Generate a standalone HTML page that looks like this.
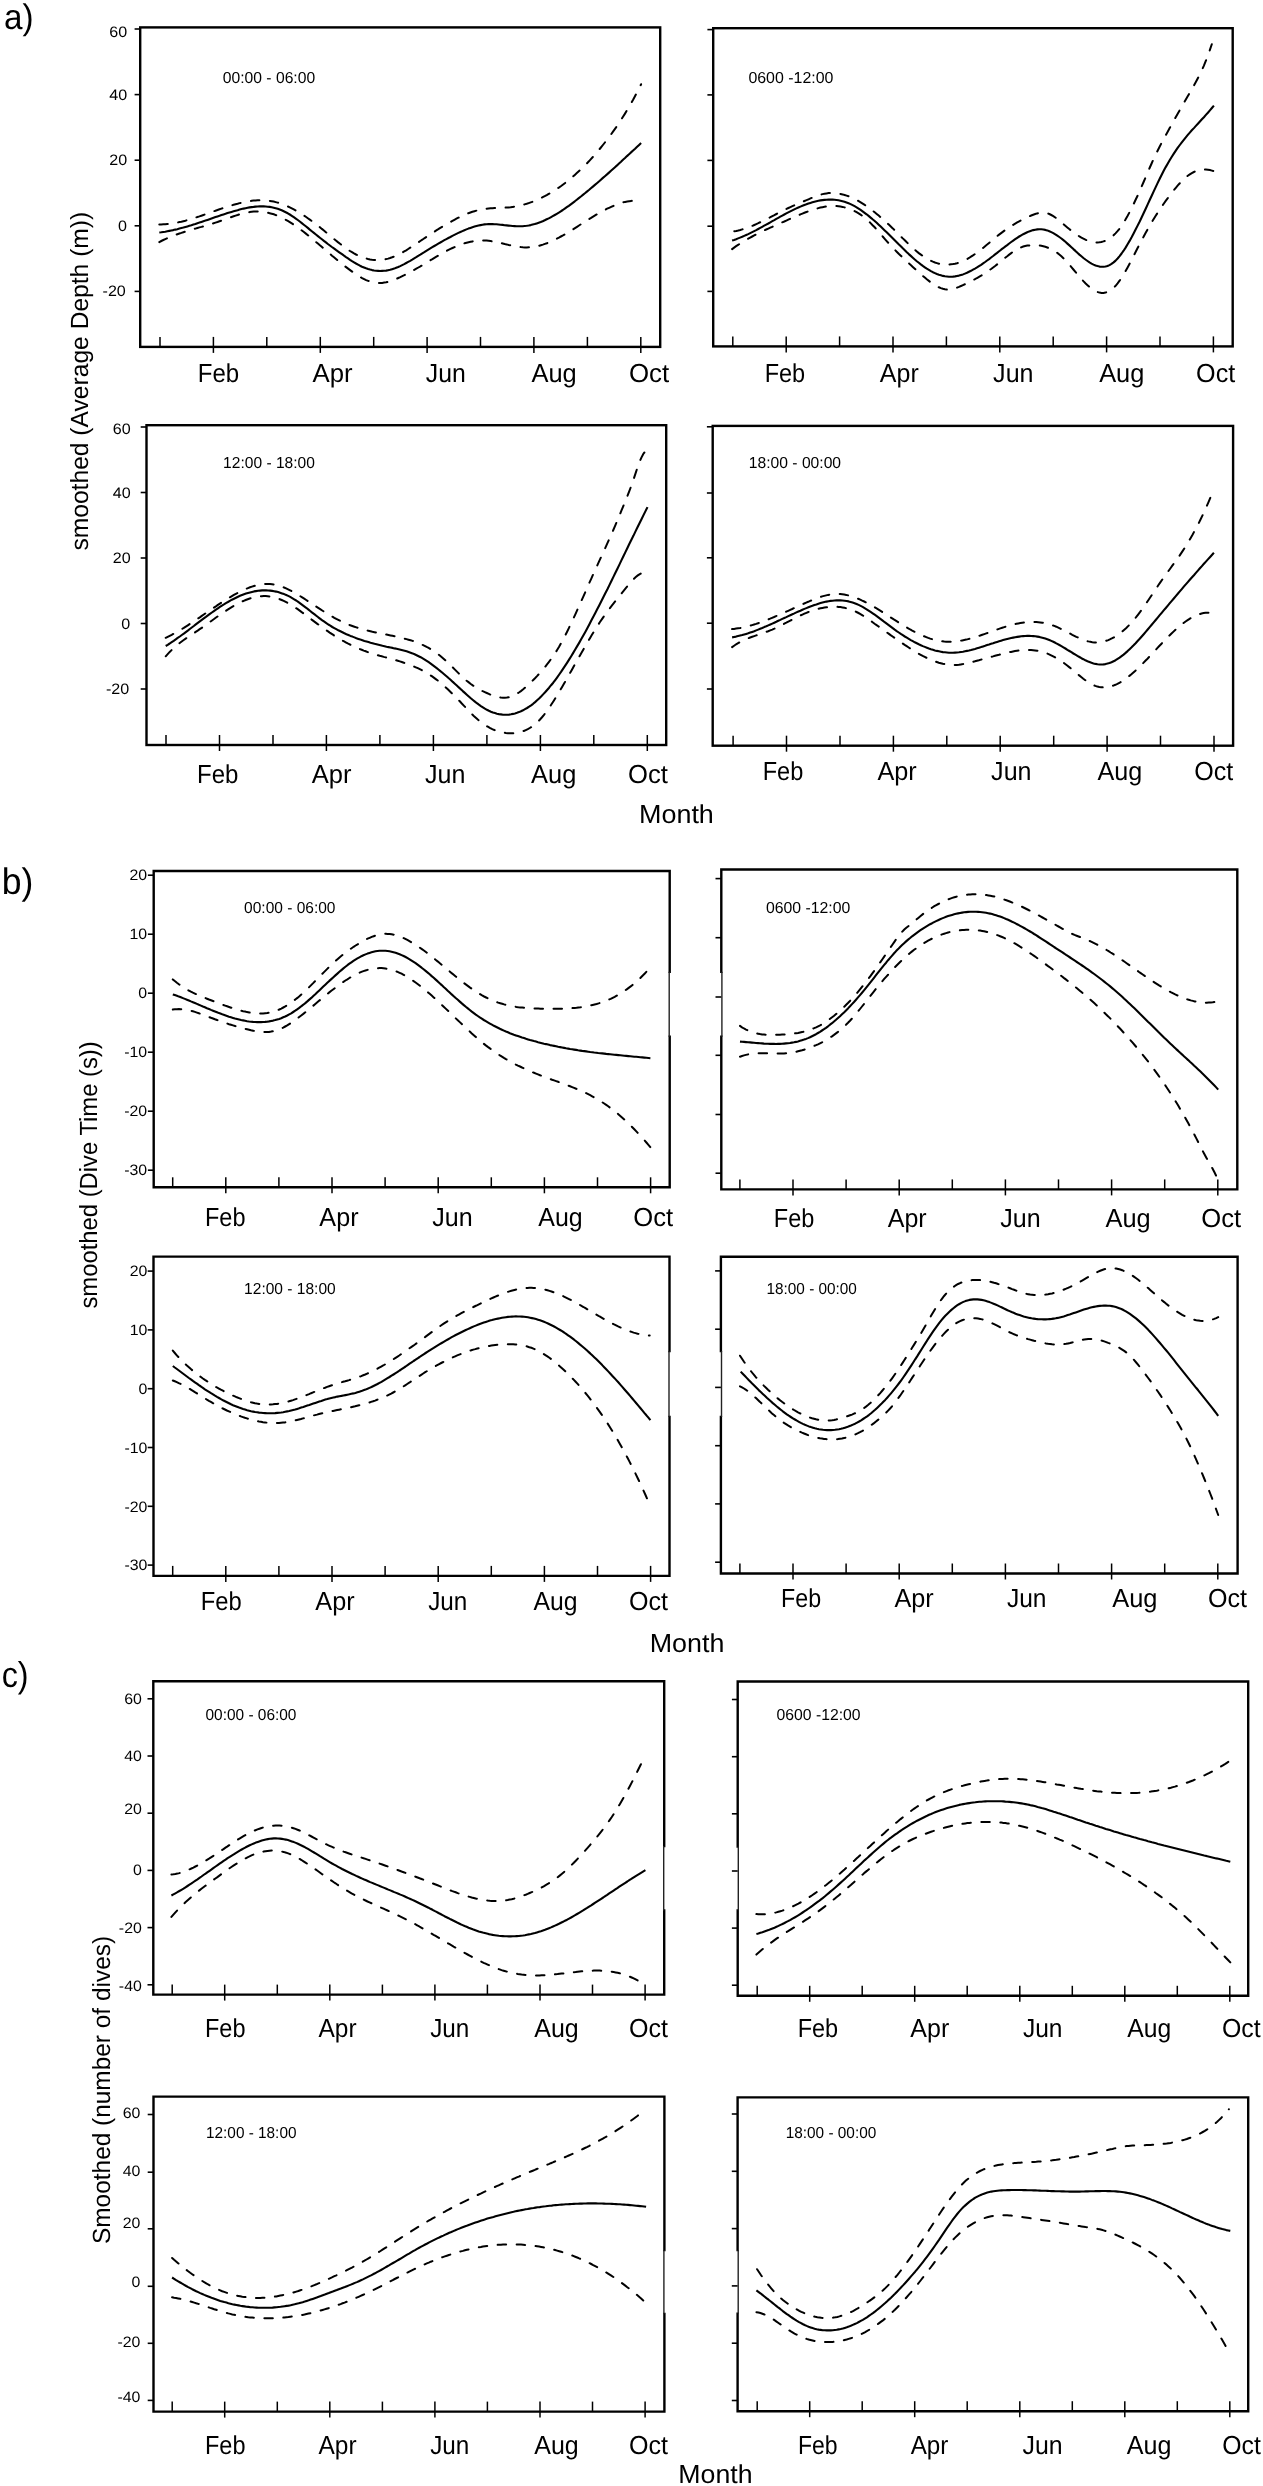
<!DOCTYPE html>
<html><head><meta charset="utf-8"><style>
html,body{margin:0;padding:0;background:#fff;}
svg{display:block;will-change:transform;}
text{font-family:"Liberation Sans", sans-serif;fill:#000;text-rendering:geometricPrecision;}
</style></head><body>
<svg width="1263" height="2486" viewBox="0 0 1263 2486">
<rect width="1263" height="2486" fill="#fff"/>
<rect x="140.2" y="27.4" width="520.0" height="319.5" fill="none" stroke="#000" stroke-width="2.40"/>
<line x1="134.6" y1="29.0" x2="140.2" y2="29.0" stroke="#000" stroke-width="1.60"/>
<line x1="134.6" y1="94.6" x2="140.2" y2="94.6" stroke="#000" stroke-width="1.60"/>
<line x1="134.6" y1="160.2" x2="140.2" y2="160.2" stroke="#000" stroke-width="1.60"/>
<line x1="134.6" y1="225.8" x2="140.2" y2="225.8" stroke="#000" stroke-width="1.60"/>
<line x1="134.6" y1="291.4" x2="140.2" y2="291.4" stroke="#000" stroke-width="1.60"/>
<line x1="160.0" y1="336.9" x2="160.0" y2="346.9" stroke="#000" stroke-width="1.50"/>
<line x1="213.4" y1="336.9" x2="213.4" y2="352.9" stroke="#000" stroke-width="1.50"/>
<line x1="266.8" y1="336.9" x2="266.8" y2="346.9" stroke="#000" stroke-width="1.50"/>
<line x1="320.3" y1="336.9" x2="320.3" y2="352.9" stroke="#000" stroke-width="1.50"/>
<line x1="373.7" y1="336.9" x2="373.7" y2="346.9" stroke="#000" stroke-width="1.50"/>
<line x1="427.1" y1="336.9" x2="427.1" y2="352.9" stroke="#000" stroke-width="1.50"/>
<line x1="480.5" y1="336.9" x2="480.5" y2="346.9" stroke="#000" stroke-width="1.50"/>
<line x1="533.9" y1="336.9" x2="533.9" y2="352.9" stroke="#000" stroke-width="1.50"/>
<line x1="587.4" y1="336.9" x2="587.4" y2="346.9" stroke="#000" stroke-width="1.50"/>
<line x1="640.8" y1="336.9" x2="640.8" y2="352.9" stroke="#000" stroke-width="1.50"/>
<text transform="translate(109.31 36.70) scale(1.0600 1)" font-size="15.20">60</text>
<text transform="translate(109.31 100.30) scale(1.0600 1)" font-size="15.20">40</text>
<text transform="translate(109.31 165.40) scale(1.0600 1)" font-size="15.20">20</text>
<text transform="translate(117.97 231.20) scale(1.0600 1)" font-size="15.20">0</text>
<text transform="translate(102.54 295.50) scale(1.0600 1)" font-size="15.20">-20</text>
<text transform="translate(197.83 381.90) scale(0.9236 1)" font-size="26.00">Feb</text>
<text transform="translate(312.55 381.90) scale(0.9906 1)" font-size="26.00">Apr</text>
<text transform="translate(425.81 381.90) scale(0.9542 1)" font-size="26.00">Jun</text>
<text transform="translate(531.45 381.90) scale(0.9790 1)" font-size="26.00">Aug</text>
<text transform="translate(628.88 381.90) scale(0.9942 1)" font-size="26.00">Oct</text>
<text transform="translate(222.79 83.30) scale(0.9863 1)" font-size="15.90">00:00 - 06:00</text>
<path d="M159.3 224.4 L161.3 224.4 L163.3 224.3 L165.3 224.2 L167.3 224.0 L169.3 223.8 L171.3 223.6 L173.3 223.3 L175.3 222.9 L177.3 222.6 L179.4 222.1 L181.4 221.7 L183.4 221.2 L185.4 220.7 L187.4 220.1 L189.4 219.6 L191.4 219.0 L193.4 218.3 L195.4 217.7 L197.4 217.0 L199.4 216.4 L201.4 215.7 L203.4 215.0 L205.4 214.3 L207.5 213.6 L209.5 212.9 L211.5 212.1 L213.5 211.4 L215.5 210.7 L217.5 210.0 L219.5 209.3 L221.5 208.6 L223.5 207.9 L225.5 207.3 L227.5 206.6 L229.5 206.0 L231.5 205.4 L233.6 204.8 L235.6 204.2 L237.6 203.7 L239.6 203.1 L241.6 202.7 L243.6 202.2 L245.6 201.8 L247.6 201.4 L249.6 201.1 L251.6 200.8 L253.6 200.6 L255.6 200.4 L257.6 200.3 L259.7 200.2 L261.7 200.2 L263.7 200.3 L265.7 200.4 L267.7 200.6 L269.7 200.9 L271.7 201.2 L273.7 201.6 L275.7 202.1 L277.7 202.6 L279.7 203.3 L281.7 204.0 L283.7 204.7 L285.7 205.5 L287.8 206.4 L289.8 207.3 L291.8 208.3 L293.8 209.4 L295.8 210.5 L297.8 211.6 L299.8 212.9 L301.8 214.1 L303.8 215.4 L305.8 216.8 L307.8 218.2 L309.8 219.6 L311.8 221.1 L313.9 222.6 L315.9 224.1 L317.9 225.7 L319.9 227.2 L321.9 228.9 L323.9 230.5 L325.9 232.2 L327.9 233.8 L329.9 235.5 L331.9 237.2 L333.9 238.9 L335.9 240.5 L337.9 242.1 L340.0 243.7 L342.0 245.3 L344.0 246.8 L346.0 248.3 L348.0 249.7 L350.0 251.0 L352.0 252.2 L354.0 253.4 L356.0 254.5 L358.0 255.5 L360.0 256.3 L362.0 257.1 L364.0 257.8 L366.1 258.4 L368.1 259.0 L370.1 259.4 L372.1 259.7 L374.1 259.9 L376.1 260.0 L378.1 260.0 L380.1 259.9 L382.1 259.8 L384.1 259.5 L386.1 259.1 L388.1 258.6 L390.1 258.0 L392.1 257.3 L394.2 256.5 L396.2 255.6 L398.2 254.7 L400.2 253.7 L402.2 252.6 L404.2 251.4 L406.2 250.3 L408.2 249.0 L410.2 247.7 L412.2 246.4 L414.2 245.1 L416.2 243.8 L418.2 242.4 L420.3 241.0 L422.3 239.7 L424.3 238.3 L426.3 237.0 L428.3 235.6 L430.3 234.3 L432.3 233.0 L434.3 231.7 L436.3 230.4 L438.3 229.2 L440.3 227.9 L442.3 226.7 L444.3 225.5 L446.4 224.3 L448.4 223.1 L450.4 222.0 L452.4 220.9 L454.4 219.8 L456.4 218.7 L458.4 217.7 L460.4 216.7 L462.4 215.8 L464.4 214.9 L466.4 214.0 L468.4 213.2 L470.4 212.5 L472.4 211.8 L474.5 211.2 L476.5 210.6 L478.5 210.1 L480.5 209.7 L482.5 209.3 L484.5 209.0 L486.5 208.7 L488.5 208.5 L490.5 208.3 L492.5 208.2 L494.5 208.0 L496.5 208.0 L498.5 207.9 L500.6 207.8 L502.6 207.8 L504.6 207.7 L506.6 207.5 L508.6 207.4 L510.6 207.2 L512.6 206.9 L514.6 206.6 L516.6 206.3 L518.6 205.9 L520.6 205.4 L522.6 204.9 L524.6 204.4 L526.7 203.8 L528.7 203.1 L530.7 202.4 L532.7 201.7 L534.7 200.9 L536.7 200.0 L538.7 199.1 L540.7 198.2 L542.7 197.2 L544.7 196.2 L546.7 195.1 L548.7 193.9 L550.7 192.8 L552.7 191.5 L554.8 190.3 L556.8 188.9 L558.8 187.6 L560.8 186.2 L562.8 184.7 L564.8 183.2 L566.8 181.6 L568.8 180.0 L570.8 178.4 L572.8 176.7 L574.8 174.9 L576.8 173.1 L578.8 171.3 L580.9 169.4 L582.9 167.4 L584.9 165.4 L586.9 163.4 L588.9 161.3 L590.9 159.1 L592.9 156.9 L594.9 154.6 L596.9 152.3 L598.9 149.9 L600.9 147.5 L602.9 145.0 L604.9 142.5 L607.0 139.9 L609.0 137.2 L611.0 134.5 L613.0 131.7 L615.0 128.9 L617.0 126.0 L619.0 123.0 L621.0 119.9 L623.0 116.8 L625.0 113.6 L627.0 110.3 L629.0 106.9 L631.0 103.4 L633.1 99.8 L635.1 96.0 L637.1 92.2 L639.1 88.3 L641.1 84.2" fill="none" stroke="#000" stroke-width="2.0" stroke-dasharray="8.5 10.5" stroke-linecap="round"/>
<path d="M159.3 242.1 L161.3 241.0 L163.3 240.0 L165.3 239.1 L167.3 238.2 L169.3 237.3 L171.3 236.5 L173.3 235.7 L175.3 235.0 L177.4 234.2 L179.4 233.5 L181.4 232.9 L183.4 232.2 L185.4 231.6 L187.4 231.0 L189.4 230.4 L191.4 229.8 L193.4 229.2 L195.4 228.6 L197.4 228.0 L199.4 227.4 L201.5 226.9 L203.5 226.3 L205.5 225.7 L207.5 225.1 L209.5 224.5 L211.5 223.9 L213.5 223.3 L215.5 222.6 L217.5 222.0 L219.5 221.3 L221.5 220.6 L223.5 219.9 L225.6 219.1 L227.6 218.4 L229.6 217.7 L231.6 217.0 L233.6 216.3 L235.6 215.6 L237.6 215.0 L239.6 214.3 L241.6 213.8 L243.6 213.3 L245.6 212.8 L247.6 212.4 L249.7 212.1 L251.7 211.8 L253.7 211.6 L255.7 211.5 L257.7 211.5 L259.7 211.6 L261.7 211.7 L263.7 212.0 L265.7 212.3 L267.7 212.7 L269.7 213.2 L271.7 213.7 L273.8 214.3 L275.8 215.1 L277.8 215.8 L279.8 216.7 L281.8 217.7 L283.8 218.7 L285.8 219.8 L287.8 220.9 L289.8 222.1 L291.8 223.4 L293.8 224.7 L295.8 226.1 L297.9 227.5 L299.9 229.0 L301.9 230.5 L303.9 232.0 L305.9 233.6 L307.9 235.2 L309.9 236.8 L311.9 238.5 L313.9 240.2 L315.9 241.9 L317.9 243.6 L319.9 245.3 L322.0 247.0 L324.0 248.8 L326.0 250.5 L328.0 252.2 L330.0 253.9 L332.0 255.7 L334.0 257.3 L336.0 259.0 L338.0 260.7 L340.0 262.3 L342.0 263.9 L344.0 265.5 L346.1 267.1 L348.1 268.6 L350.1 270.1 L352.1 271.6 L354.1 273.0 L356.1 274.4 L358.1 275.7 L360.1 276.9 L362.1 278.1 L364.1 279.1 L366.1 280.1 L368.1 280.9 L370.2 281.5 L372.2 282.1 L374.2 282.5 L376.2 282.8 L378.2 283.0 L380.2 283.0 L382.2 282.9 L384.2 282.6 L386.2 282.3 L388.2 281.8 L390.2 281.2 L392.2 280.5 L394.3 279.7 L396.3 278.9 L398.3 278.0 L400.3 277.1 L402.3 276.1 L404.3 275.2 L406.3 274.1 L408.3 273.1 L410.3 272.0 L412.3 271.0 L414.3 269.8 L416.3 268.7 L418.4 267.5 L420.4 266.4 L422.4 265.2 L424.4 263.9 L426.4 262.7 L428.4 261.5 L430.4 260.3 L432.4 259.1 L434.4 257.8 L436.4 256.6 L438.4 255.5 L440.4 254.3 L442.5 253.2 L444.5 252.1 L446.5 251.0 L448.5 249.9 L450.5 248.9 L452.5 248.0 L454.5 247.1 L456.5 246.2 L458.5 245.4 L460.5 244.7 L462.5 244.0 L464.5 243.3 L466.6 242.7 L468.6 242.2 L470.6 241.8 L472.6 241.4 L474.6 241.0 L476.6 240.8 L478.6 240.6 L480.6 240.5 L482.6 240.5 L484.6 240.5 L486.6 240.6 L488.6 240.8 L490.7 241.1 L492.7 241.4 L494.7 241.7 L496.7 242.1 L498.7 242.6 L500.7 243.0 L502.7 243.5 L504.7 244.0 L506.7 244.4 L508.7 244.9 L510.7 245.3 L512.7 245.8 L514.8 246.2 L516.8 246.5 L518.8 246.8 L520.8 247.1 L522.8 247.3 L524.8 247.4 L526.8 247.4 L528.8 247.3 L530.8 247.2 L532.8 247.0 L534.8 246.6 L536.8 246.3 L538.9 245.8 L540.9 245.2 L542.9 244.6 L544.9 243.9 L546.9 243.2 L548.9 242.4 L550.9 241.5 L552.9 240.6 L554.9 239.6 L556.9 238.6 L558.9 237.6 L560.9 236.5 L563.0 235.4 L565.0 234.2 L567.0 233.0 L569.0 231.8 L571.0 230.6 L573.0 229.4 L575.0 228.1 L577.0 226.8 L579.0 225.5 L581.0 224.2 L583.0 223.0 L585.0 221.7 L587.1 220.4 L589.1 219.1 L591.1 217.9 L593.1 216.6 L595.1 215.4 L597.1 214.2 L599.1 213.1 L601.1 211.9 L603.1 210.8 L605.1 209.8 L607.1 208.7 L609.1 207.8 L611.2 206.8 L613.2 206.0 L615.2 205.1 L617.2 204.4 L619.2 203.7 L621.2 203.0 L623.2 202.4 L625.2 201.9 L627.2 201.5 L629.2 201.2 L631.2 200.9 L633.2 200.7" fill="none" stroke="#000" stroke-width="2.0" stroke-dasharray="8.5 10.5" stroke-linecap="round"/>
<path d="M159.3 232.5 L161.3 232.3 L163.3 232.0 L165.3 231.7 L167.3 231.3 L169.3 230.9 L171.3 230.5 L173.3 230.1 L175.3 229.6 L177.3 229.2 L179.4 228.6 L181.4 228.1 L183.4 227.6 L185.4 227.0 L187.4 226.4 L189.4 225.8 L191.4 225.2 L193.4 224.5 L195.4 223.9 L197.4 223.2 L199.4 222.6 L201.4 221.9 L203.4 221.2 L205.4 220.6 L207.5 219.9 L209.5 219.2 L211.5 218.5 L213.5 217.8 L215.5 217.1 L217.5 216.4 L219.5 215.8 L221.5 215.1 L223.5 214.4 L225.5 213.8 L227.5 213.1 L229.5 212.5 L231.5 211.9 L233.6 211.3 L235.6 210.7 L237.6 210.2 L239.6 209.6 L241.6 209.1 L243.6 208.6 L245.6 208.2 L247.6 207.8 L249.6 207.4 L251.6 207.1 L253.6 206.9 L255.6 206.6 L257.6 206.5 L259.7 206.4 L261.7 206.4 L263.7 206.4 L265.7 206.5 L267.7 206.7 L269.7 206.9 L271.7 207.3 L273.7 207.7 L275.7 208.2 L277.7 208.8 L279.7 209.5 L281.7 210.3 L283.7 211.2 L285.7 212.2 L287.8 213.3 L289.8 214.5 L291.8 215.8 L293.8 217.2 L295.8 218.6 L297.8 220.0 L299.8 221.5 L301.8 223.1 L303.8 224.7 L305.8 226.3 L307.8 227.9 L309.8 229.6 L311.8 231.2 L313.9 232.9 L315.9 234.5 L317.9 236.1 L319.9 237.7 L321.9 239.3 L323.9 240.9 L325.9 242.4 L327.9 244.0 L329.9 245.5 L331.9 247.0 L333.9 248.4 L335.9 249.9 L337.9 251.3 L340.0 252.8 L342.0 254.2 L344.0 255.7 L346.0 257.1 L348.0 258.4 L350.0 259.8 L352.0 261.1 L354.0 262.3 L356.0 263.5 L358.0 264.6 L360.0 265.7 L362.0 266.7 L364.0 267.5 L366.1 268.3 L368.1 269.0 L370.1 269.6 L372.1 270.1 L374.1 270.5 L376.1 270.8 L378.1 270.9 L380.1 271.0 L382.1 270.9 L384.1 270.8 L386.1 270.6 L388.1 270.2 L390.1 269.8 L392.1 269.2 L394.2 268.6 L396.2 267.8 L398.2 267.0 L400.2 266.1 L402.2 265.1 L404.2 264.1 L406.2 263.0 L408.2 261.9 L410.2 260.8 L412.2 259.6 L414.2 258.3 L416.2 257.1 L418.2 255.8 L420.3 254.6 L422.3 253.3 L424.3 252.1 L426.3 250.8 L428.3 249.6 L430.3 248.4 L432.3 247.2 L434.3 246.0 L436.3 244.8 L438.3 243.6 L440.3 242.5 L442.3 241.3 L444.3 240.2 L446.4 239.1 L448.4 238.0 L450.4 237.0 L452.4 235.9 L454.4 234.9 L456.4 233.9 L458.4 232.9 L460.4 232.0 L462.4 231.1 L464.4 230.2 L466.4 229.4 L468.4 228.6 L470.4 227.9 L472.4 227.2 L474.5 226.6 L476.5 226.0 L478.5 225.5 L480.5 225.1 L482.5 224.7 L484.5 224.4 L486.5 224.2 L488.5 224.1 L490.5 224.1 L492.5 224.1 L494.5 224.2 L496.5 224.3 L498.5 224.5 L500.6 224.7 L502.6 224.9 L504.6 225.2 L506.6 225.4 L508.6 225.6 L510.6 225.8 L512.6 226.0 L514.6 226.1 L516.6 226.2 L518.6 226.3 L520.6 226.3 L522.6 226.2 L524.6 226.0 L526.7 225.8 L528.7 225.5 L530.7 225.1 L532.7 224.6 L534.7 224.1 L536.7 223.4 L538.7 222.7 L540.7 222.0 L542.7 221.2 L544.7 220.3 L546.7 219.3 L548.7 218.4 L550.7 217.3 L552.7 216.2 L554.8 215.0 L556.8 213.8 L558.8 212.6 L560.8 211.3 L562.8 210.0 L564.8 208.6 L566.8 207.2 L568.8 205.8 L570.8 204.3 L572.8 202.8 L574.8 201.3 L576.8 199.7 L578.8 198.1 L580.9 196.5 L582.9 194.9 L584.9 193.3 L586.9 191.6 L588.9 190.0 L590.9 188.3 L592.9 186.6 L594.9 184.9 L596.9 183.2 L598.9 181.5 L600.9 179.7 L602.9 177.9 L604.9 176.2 L607.0 174.4 L609.0 172.6 L611.0 170.8 L613.0 169.0 L615.0 167.2 L617.0 165.4 L619.0 163.5 L621.0 161.7 L623.0 159.8 L625.0 158.0 L627.0 156.1 L629.0 154.3 L631.0 152.4 L633.1 150.5 L635.1 148.7 L637.1 146.8 L639.1 144.9 L641.1 143.0" fill="none" stroke="#000" stroke-width="2.1" stroke-linejoin="round"/>
<rect x="713.2" y="28.2" width="519.5" height="318.2" fill="none" stroke="#000" stroke-width="2.40"/>
<line x1="707.4" y1="29.6" x2="713.2" y2="29.6" stroke="#000" stroke-width="1.60"/>
<line x1="707.4" y1="94.9" x2="713.2" y2="94.9" stroke="#000" stroke-width="1.60"/>
<line x1="707.4" y1="160.4" x2="713.2" y2="160.4" stroke="#000" stroke-width="1.60"/>
<line x1="707.4" y1="226.2" x2="713.2" y2="226.2" stroke="#000" stroke-width="1.60"/>
<line x1="707.4" y1="291.4" x2="713.2" y2="291.4" stroke="#000" stroke-width="1.60"/>
<line x1="732.8" y1="336.4" x2="732.8" y2="346.4" stroke="#000" stroke-width="1.50"/>
<line x1="786.2" y1="336.4" x2="786.2" y2="352.4" stroke="#000" stroke-width="1.50"/>
<line x1="839.6" y1="336.4" x2="839.6" y2="346.4" stroke="#000" stroke-width="1.50"/>
<line x1="893.0" y1="336.4" x2="893.0" y2="352.4" stroke="#000" stroke-width="1.50"/>
<line x1="946.4" y1="336.4" x2="946.4" y2="346.4" stroke="#000" stroke-width="1.50"/>
<line x1="999.8" y1="336.4" x2="999.8" y2="352.4" stroke="#000" stroke-width="1.50"/>
<line x1="1053.2" y1="336.4" x2="1053.2" y2="346.4" stroke="#000" stroke-width="1.50"/>
<line x1="1106.6" y1="336.4" x2="1106.6" y2="352.4" stroke="#000" stroke-width="1.50"/>
<line x1="1160.0" y1="336.4" x2="1160.0" y2="346.4" stroke="#000" stroke-width="1.50"/>
<line x1="1213.4" y1="336.4" x2="1213.4" y2="352.4" stroke="#000" stroke-width="1.50"/>
<text transform="translate(764.67 381.90) scale(0.9043 1)" font-size="26.00">Feb</text>
<text transform="translate(879.85 381.90) scale(0.9605 1)" font-size="26.00">Apr</text>
<text transform="translate(993.11 381.90) scale(0.9642 1)" font-size="26.00">Jun</text>
<text transform="translate(1099.15 381.90) scale(0.9768 1)" font-size="26.00">Aug</text>
<text transform="translate(1196.11 381.90) scale(0.9660 1)" font-size="26.00">Oct</text>
<text transform="translate(748.38 83.40) scale(1.0020 1)" font-size="15.90">0600 -12:00</text>
<path d="M734.3 231.2 L736.3 230.9 L738.3 230.5 L740.3 230.0 L742.3 229.4 L744.3 228.8 L746.3 228.2 L748.3 227.4 L750.3 226.7 L752.3 225.9 L754.3 225.0 L756.3 224.1 L758.3 223.2 L760.3 222.2 L762.3 221.3 L764.3 220.3 L766.4 219.3 L768.4 218.2 L770.4 217.2 L772.4 216.1 L774.4 215.1 L776.4 214.0 L778.4 213.0 L780.4 212.0 L782.4 211.0 L784.4 210.0 L786.4 209.0 L788.4 208.0 L790.4 207.1 L792.4 206.2 L794.4 205.3 L796.5 204.5 L798.5 203.6 L800.5 202.8 L802.5 201.9 L804.5 201.0 L806.5 200.2 L808.5 199.3 L810.5 198.4 L812.5 197.6 L814.5 196.8 L816.5 196.0 L818.5 195.3 L820.5 194.7 L822.5 194.1 L824.5 193.7 L826.5 193.4 L828.6 193.1 L830.6 193.0 L832.6 193.0 L834.6 193.1 L836.6 193.3 L838.6 193.6 L840.6 194.0 L842.6 194.4 L844.6 195.0 L846.6 195.6 L848.6 196.3 L850.6 197.2 L852.6 198.0 L854.6 199.0 L856.6 200.0 L858.7 201.1 L860.7 202.3 L862.7 203.6 L864.7 204.9 L866.7 206.2 L868.7 207.7 L870.7 209.1 L872.7 210.7 L874.7 212.3 L876.7 213.9 L878.7 215.6 L880.7 217.3 L882.7 219.1 L884.7 220.9 L886.7 222.7 L888.8 224.6 L890.8 226.5 L892.8 228.4 L894.8 230.4 L896.8 232.4 L898.8 234.4 L900.8 236.4 L902.8 238.4 L904.8 240.3 L906.8 242.3 L908.8 244.2 L910.8 246.1 L912.8 247.9 L914.8 249.7 L916.8 251.4 L918.8 253.1 L920.9 254.6 L922.9 256.1 L924.9 257.4 L926.9 258.7 L928.9 259.8 L930.9 260.8 L932.9 261.7 L934.9 262.5 L936.9 263.1 L938.9 263.7 L940.9 264.1 L942.9 264.4 L944.9 264.5 L946.9 264.6 L948.9 264.5 L951.0 264.3 L953.0 264.1 L955.0 263.7 L957.0 263.2 L959.0 262.6 L961.0 261.8 L963.0 261.0 L965.0 260.1 L967.0 259.1 L969.0 258.0 L971.0 256.7 L973.0 255.4 L975.0 254.0 L977.0 252.6 L979.0 251.1 L981.0 249.5 L983.1 247.9 L985.1 246.2 L987.1 244.6 L989.1 242.9 L991.1 241.2 L993.1 239.5 L995.1 237.9 L997.1 236.2 L999.1 234.6 L1001.1 233.1 L1003.1 231.6 L1005.1 230.1 L1007.1 228.7 L1009.1 227.4 L1011.1 226.1 L1013.2 224.8 L1015.2 223.6 L1017.2 222.4 L1019.2 221.3 L1021.2 220.2 L1023.2 219.2 L1025.2 218.2 L1027.2 217.2 L1029.2 216.4 L1031.2 215.5 L1033.2 214.7 L1035.2 214.0 L1037.2 213.4 L1039.2 213.0 L1041.2 212.7 L1043.2 212.6 L1045.3 212.8 L1047.3 213.2 L1049.3 214.0 L1051.3 215.0 L1053.3 216.1 L1055.3 217.5 L1057.3 219.0 L1059.3 220.6 L1061.3 222.3 L1063.3 224.0 L1065.3 225.7 L1067.3 227.4 L1069.3 229.1 L1071.3 230.7 L1073.3 232.3 L1075.4 233.7 L1077.4 235.1 L1079.4 236.4 L1081.4 237.6 L1083.4 238.7 L1085.4 239.7 L1087.4 240.5 L1089.4 241.2 L1091.4 241.7 L1093.4 242.1 L1095.4 242.4 L1097.4 242.4 L1099.4 242.3 L1101.4 242.0 L1103.4 241.4 L1105.5 240.7 L1107.5 239.7 L1109.5 238.5 L1111.5 237.0 L1113.5 235.4 L1115.5 233.4 L1117.5 231.2 L1119.5 228.7 L1121.5 225.9 L1123.5 222.8 L1125.5 219.5 L1127.5 216.0 L1129.5 212.3 L1131.5 208.3 L1133.5 204.3 L1135.5 200.0 L1137.6 195.7 L1139.6 191.2 L1141.6 186.6 L1143.6 182.0 L1145.6 177.4 L1147.6 172.7 L1149.6 168.0 L1151.6 163.5 L1153.6 159.0 L1155.6 154.8 L1157.6 150.7 L1159.6 146.8 L1161.6 142.9 L1163.6 139.1 L1165.6 135.4 L1167.7 131.7 L1169.7 128.0 L1171.7 124.4 L1173.7 120.8 L1175.7 117.2 L1177.7 113.7 L1179.7 110.2 L1181.7 106.7 L1183.7 103.2 L1185.7 99.7 L1187.7 96.3 L1189.7 92.9 L1191.7 89.5 L1193.7 86.0 L1195.7 82.3 L1197.7 78.5 L1199.8 74.6 L1201.8 70.3 L1203.8 65.8 L1205.8 61.0 L1207.8 55.8 L1209.8 50.2 L1211.8 44.2" fill="none" stroke="#000" stroke-width="2.0" stroke-dasharray="8.5 10.5" stroke-linecap="round"/>
<path d="M732.1 249.1 L734.1 247.6 L736.1 246.2 L738.1 244.9 L740.1 243.6 L742.2 242.3 L744.2 241.1 L746.2 239.9 L748.2 238.7 L750.2 237.6 L752.2 236.5 L754.2 235.4 L756.2 234.4 L758.2 233.4 L760.2 232.4 L762.2 231.4 L764.2 230.4 L766.2 229.5 L768.3 228.6 L770.3 227.7 L772.3 226.8 L774.3 225.9 L776.3 225.0 L778.3 224.1 L780.3 223.2 L782.3 222.3 L784.3 221.5 L786.3 220.6 L788.3 219.7 L790.3 218.8 L792.3 217.9 L794.3 217.0 L796.4 216.1 L798.4 215.3 L800.4 214.4 L802.4 213.6 L804.4 212.8 L806.4 212.0 L808.4 211.3 L810.4 210.5 L812.4 209.9 L814.4 209.2 L816.4 208.7 L818.4 208.1 L820.4 207.6 L822.5 207.2 L824.5 206.8 L826.5 206.5 L828.5 206.3 L830.5 206.1 L832.5 206.1 L834.5 206.1 L836.5 206.1 L838.5 206.3 L840.5 206.6 L842.5 206.9 L844.5 207.4 L846.5 207.9 L848.6 208.5 L850.6 209.3 L852.6 210.2 L854.6 211.1 L856.6 212.2 L858.6 213.4 L860.6 214.7 L862.6 216.1 L864.6 217.7 L866.6 219.4 L868.6 221.2 L870.6 223.1 L872.6 225.2 L874.7 227.3 L876.7 229.6 L878.7 231.9 L880.7 234.2 L882.7 236.5 L884.7 238.8 L886.7 241.1 L888.7 243.3 L890.7 245.4 L892.7 247.6 L894.7 249.7 L896.7 251.7 L898.7 253.7 L900.8 255.7 L902.8 257.6 L904.8 259.5 L906.8 261.4 L908.8 263.2 L910.8 265.1 L912.8 266.9 L914.8 268.7 L916.8 270.5 L918.8 272.3 L920.8 274.1 L922.8 275.9 L924.8 277.6 L926.8 279.3 L928.9 280.9 L930.9 282.4 L932.9 283.8 L934.9 285.1 L936.9 286.2 L938.9 287.3 L940.9 288.1 L942.9 288.8 L944.9 289.2 L946.9 289.5 L948.9 289.5 L950.9 289.3 L952.9 288.9 L955.0 288.4 L957.0 287.7 L959.0 286.9 L961.0 286.0 L963.0 285.1 L965.0 284.2 L967.0 283.3 L969.0 282.3 L971.0 281.3 L973.0 280.2 L975.0 279.2 L977.0 278.0 L979.0 276.9 L981.1 275.7 L983.1 274.4 L985.1 273.2 L987.1 271.8 L989.1 270.4 L991.1 269.0 L993.1 267.5 L995.1 266.0 L997.1 264.4 L999.1 262.7 L1001.1 261.1 L1003.1 259.4 L1005.1 257.8 L1007.2 256.2 L1009.2 254.6 L1011.2 253.1 L1013.2 251.7 L1015.2 250.4 L1017.2 249.2 L1019.2 248.2 L1021.2 247.3 L1023.2 246.5 L1025.2 246.0 L1027.2 245.6 L1029.2 245.4 L1031.2 245.2 L1033.2 245.2 L1035.3 245.2 L1037.3 245.3 L1039.3 245.5 L1041.3 245.8 L1043.3 246.3 L1045.3 246.8 L1047.3 247.5 L1049.3 248.3 L1051.3 249.2 L1053.3 250.3 L1055.3 251.5 L1057.3 252.9 L1059.3 254.5 L1061.4 256.3 L1063.4 258.2 L1065.4 260.3 L1067.4 262.5 L1069.4 264.7 L1071.4 267.1 L1073.4 269.5 L1075.4 271.9 L1077.4 274.3 L1079.4 276.6 L1081.4 278.9 L1083.4 281.2 L1085.4 283.3 L1087.5 285.2 L1089.5 287.0 L1091.5 288.6 L1093.5 290.0 L1095.5 291.2 L1097.5 292.0 L1099.5 292.6 L1101.5 292.9 L1103.5 292.9 L1105.5 292.6 L1107.5 291.9 L1109.5 290.9 L1111.5 289.5 L1113.6 287.8 L1115.6 285.8 L1117.6 283.4 L1119.6 280.7 L1121.6 277.7 L1123.6 274.5 L1125.6 271.0 L1127.6 267.4 L1129.6 263.7 L1131.6 259.8 L1133.6 255.9 L1135.6 252.0 L1137.6 248.0 L1139.7 244.1 L1141.7 240.3 L1143.7 236.5 L1145.7 232.8 L1147.7 229.2 L1149.7 225.7 L1151.7 222.3 L1153.7 219.0 L1155.7 215.8 L1157.7 212.7 L1159.7 209.7 L1161.7 206.7 L1163.7 203.8 L1165.7 200.9 L1167.8 198.1 L1169.8 195.4 L1171.8 192.8 L1173.8 190.2 L1175.8 187.8 L1177.8 185.4 L1179.8 183.2 L1181.8 181.2 L1183.8 179.2 L1185.8 177.4 L1187.8 175.8 L1189.8 174.4 L1191.8 173.1 L1193.9 172.0 L1195.9 171.1 L1197.9 170.4 L1199.9 169.9 L1201.9 169.7 L1203.9 169.5 L1205.9 169.6 L1207.9 169.8 L1209.9 170.1 L1211.9 170.6 L1213.9 171.1" fill="none" stroke="#000" stroke-width="2.0" stroke-dasharray="8.5 10.5" stroke-linecap="round"/>
<path d="M732.1 240.5 L734.1 239.9 L736.1 239.2 L738.1 238.4 L740.1 237.6 L742.2 236.8 L744.2 235.9 L746.2 235.0 L748.2 234.1 L750.2 233.1 L752.2 232.1 L754.2 231.1 L756.2 230.1 L758.2 229.0 L760.2 227.9 L762.2 226.8 L764.2 225.7 L766.2 224.6 L768.3 223.5 L770.3 222.3 L772.3 221.2 L774.3 220.1 L776.3 218.9 L778.3 217.8 L780.3 216.7 L782.3 215.6 L784.3 214.5 L786.3 213.4 L788.3 212.4 L790.3 211.4 L792.3 210.4 L794.3 209.4 L796.4 208.4 L798.4 207.5 L800.4 206.6 L802.4 205.8 L804.4 205.0 L806.4 204.3 L808.4 203.5 L810.4 202.9 L812.4 202.3 L814.4 201.7 L816.4 201.2 L818.4 200.8 L820.4 200.4 L822.5 200.1 L824.5 199.9 L826.5 199.7 L828.5 199.6 L830.5 199.6 L832.5 199.6 L834.5 199.8 L836.5 200.0 L838.5 200.3 L840.5 200.7 L842.5 201.2 L844.5 201.8 L846.5 202.5 L848.6 203.3 L850.6 204.1 L852.6 205.1 L854.6 206.2 L856.6 207.3 L858.6 208.6 L860.6 209.9 L862.6 211.3 L864.6 212.8 L866.6 214.3 L868.6 215.9 L870.6 217.6 L872.6 219.3 L874.7 221.0 L876.7 222.8 L878.7 224.7 L880.7 226.6 L882.7 228.5 L884.7 230.4 L886.7 232.3 L888.7 234.3 L890.7 236.3 L892.7 238.3 L894.7 240.3 L896.7 242.3 L898.7 244.3 L900.8 246.3 L902.8 248.3 L904.8 250.2 L906.8 252.2 L908.8 254.1 L910.8 255.9 L912.8 257.7 L914.8 259.5 L916.8 261.2 L918.8 262.8 L920.8 264.4 L922.8 265.9 L924.8 267.3 L926.8 268.7 L928.9 269.9 L930.9 271.1 L932.9 272.2 L934.9 273.1 L936.9 274.0 L938.9 274.7 L940.9 275.3 L942.9 275.9 L944.9 276.3 L946.9 276.5 L948.9 276.7 L950.9 276.7 L952.9 276.6 L955.0 276.4 L957.0 276.0 L959.0 275.6 L961.0 275.0 L963.0 274.4 L965.0 273.6 L967.0 272.8 L969.0 271.8 L971.0 270.8 L973.0 269.7 L975.0 268.6 L977.0 267.4 L979.0 266.1 L981.1 264.8 L983.1 263.4 L985.1 262.0 L987.1 260.5 L989.1 259.1 L991.1 257.5 L993.1 256.0 L995.1 254.4 L997.1 252.9 L999.1 251.3 L1001.1 249.7 L1003.1 248.2 L1005.1 246.6 L1007.2 245.1 L1009.2 243.5 L1011.2 242.0 L1013.2 240.6 L1015.2 239.2 L1017.2 237.8 L1019.2 236.5 L1021.2 235.3 L1023.2 234.2 L1025.2 233.2 L1027.2 232.2 L1029.2 231.4 L1031.2 230.7 L1033.2 230.1 L1035.3 229.7 L1037.3 229.4 L1039.3 229.3 L1041.3 229.3 L1043.3 229.5 L1045.3 229.9 L1047.3 230.4 L1049.3 231.2 L1051.3 232.1 L1053.3 233.1 L1055.3 234.3 L1057.3 235.6 L1059.3 237.0 L1061.4 238.5 L1063.4 240.1 L1065.4 241.8 L1067.4 243.6 L1069.4 245.4 L1071.4 247.2 L1073.4 249.1 L1075.4 250.9 L1077.4 252.8 L1079.4 254.6 L1081.4 256.3 L1083.4 258.0 L1085.4 259.5 L1087.5 261.0 L1089.5 262.4 L1091.5 263.6 L1093.5 264.6 L1095.5 265.5 L1097.5 266.1 L1099.5 266.6 L1101.5 266.8 L1103.5 266.8 L1105.5 266.5 L1107.5 266.0 L1109.5 265.1 L1111.5 263.9 L1113.6 262.4 L1115.6 260.6 L1117.6 258.5 L1119.6 256.1 L1121.6 253.5 L1123.6 250.7 L1125.6 247.6 L1127.6 244.3 L1129.6 240.9 L1131.6 237.3 L1133.6 233.5 L1135.6 229.6 L1137.6 225.6 L1139.7 221.5 L1141.7 217.3 L1143.7 213.0 L1145.7 208.7 L1147.7 204.4 L1149.7 200.0 L1151.7 195.7 L1153.7 191.4 L1155.7 187.1 L1157.7 182.9 L1159.7 178.8 L1161.7 174.8 L1163.7 170.8 L1165.7 167.1 L1167.8 163.5 L1169.8 160.0 L1171.8 156.7 L1173.8 153.6 L1175.8 150.6 L1177.8 147.7 L1179.8 145.0 L1181.8 142.3 L1183.8 139.8 L1185.8 137.3 L1187.8 134.9 L1189.8 132.6 L1191.8 130.3 L1193.9 128.1 L1195.9 125.9 L1197.9 123.7 L1199.9 121.5 L1201.9 119.3 L1203.9 117.2 L1205.9 114.9 L1207.9 112.7 L1209.9 110.4 L1211.9 108.0 L1213.9 105.6" fill="none" stroke="#000" stroke-width="2.1" stroke-linejoin="round"/>
<rect x="146.5" y="425.2" width="519.7" height="319.8" fill="none" stroke="#000" stroke-width="2.40"/>
<line x1="140.7" y1="427.0" x2="146.5" y2="427.0" stroke="#000" stroke-width="1.60"/>
<line x1="140.7" y1="492.5" x2="146.5" y2="492.5" stroke="#000" stroke-width="1.60"/>
<line x1="140.7" y1="558.0" x2="146.5" y2="558.0" stroke="#000" stroke-width="1.60"/>
<line x1="140.7" y1="623.5" x2="146.5" y2="623.5" stroke="#000" stroke-width="1.60"/>
<line x1="140.7" y1="689.0" x2="146.5" y2="689.0" stroke="#000" stroke-width="1.60"/>
<line x1="166.0" y1="735.0" x2="166.0" y2="745.0" stroke="#000" stroke-width="1.50"/>
<line x1="219.5" y1="735.0" x2="219.5" y2="751.0" stroke="#000" stroke-width="1.50"/>
<line x1="273.0" y1="735.0" x2="273.0" y2="745.0" stroke="#000" stroke-width="1.50"/>
<line x1="326.4" y1="735.0" x2="326.4" y2="751.0" stroke="#000" stroke-width="1.50"/>
<line x1="379.9" y1="735.0" x2="379.9" y2="745.0" stroke="#000" stroke-width="1.50"/>
<line x1="433.4" y1="735.0" x2="433.4" y2="751.0" stroke="#000" stroke-width="1.50"/>
<line x1="486.9" y1="735.0" x2="486.9" y2="745.0" stroke="#000" stroke-width="1.50"/>
<line x1="540.4" y1="735.0" x2="540.4" y2="751.0" stroke="#000" stroke-width="1.50"/>
<line x1="593.8" y1="735.0" x2="593.8" y2="745.0" stroke="#000" stroke-width="1.50"/>
<line x1="647.3" y1="735.0" x2="647.3" y2="751.0" stroke="#000" stroke-width="1.50"/>
<text transform="translate(112.71 433.80) scale(1.0600 1)" font-size="15.20">60</text>
<text transform="translate(112.71 497.80) scale(1.0600 1)" font-size="15.20">40</text>
<text transform="translate(112.71 562.80) scale(1.0600 1)" font-size="15.20">20</text>
<text transform="translate(121.37 628.80) scale(1.0600 1)" font-size="15.20">0</text>
<text transform="translate(105.94 694.30) scale(1.0600 1)" font-size="15.20">-20</text>
<text transform="translate(197.03 782.70) scale(0.9236 1)" font-size="26.00">Feb</text>
<text transform="translate(311.75 782.70) scale(0.9806 1)" font-size="26.00">Apr</text>
<text transform="translate(425.01 782.70) scale(0.9642 1)" font-size="26.00">Jun</text>
<text transform="translate(531.05 782.70) scale(0.9790 1)" font-size="26.00">Aug</text>
<text transform="translate(628.09 782.70) scale(0.9840 1)" font-size="26.00">Oct</text>
<text transform="translate(223.11 467.60) scale(0.9796 1)" font-size="15.90">12:00 - 18:00</text>
<path d="M165.7 637.8 L167.7 636.8 L169.7 635.8 L171.7 634.8 L173.7 633.7 L175.7 632.6 L177.7 631.5 L179.7 630.3 L181.8 629.1 L183.8 627.9 L185.8 626.6 L187.8 625.3 L189.8 624.0 L191.8 622.7 L193.8 621.3 L195.8 620.0 L197.8 618.6 L199.8 617.3 L201.8 615.9 L203.8 614.5 L205.8 613.1 L207.8 611.7 L209.9 610.3 L211.9 609.0 L213.9 607.6 L215.9 606.3 L217.9 604.9 L219.9 603.6 L221.9 602.3 L223.9 601.0 L225.9 599.7 L227.9 598.5 L229.9 597.3 L231.9 596.1 L233.9 594.9 L235.9 593.8 L238.0 592.8 L240.0 591.7 L242.0 590.7 L244.0 589.8 L246.0 588.9 L248.0 588.1 L250.0 587.3 L252.0 586.6 L254.0 586.0 L256.0 585.4 L258.0 585.0 L260.0 584.6 L262.0 584.3 L264.0 584.1 L266.0 583.9 L268.1 583.9 L270.1 584.0 L272.1 584.2 L274.1 584.5 L276.1 584.9 L278.1 585.4 L280.1 586.0 L282.1 586.7 L284.1 587.5 L286.1 588.4 L288.1 589.3 L290.1 590.3 L292.1 591.4 L294.1 592.5 L296.2 593.7 L298.2 594.9 L300.2 596.1 L302.2 597.4 L304.2 598.7 L306.2 600.0 L308.2 601.3 L310.2 602.7 L312.2 604.0 L314.2 605.3 L316.2 606.6 L318.2 607.9 L320.2 609.2 L322.2 610.5 L324.3 611.8 L326.3 613.0 L328.3 614.3 L330.3 615.5 L332.3 616.6 L334.3 617.8 L336.3 618.9 L338.3 619.9 L340.3 620.9 L342.3 621.9 L344.3 622.8 L346.3 623.7 L348.3 624.5 L350.3 625.3 L352.3 626.0 L354.4 626.7 L356.4 627.4 L358.4 628.1 L360.4 628.7 L362.4 629.3 L364.4 629.8 L366.4 630.3 L368.4 630.8 L370.4 631.3 L372.4 631.8 L374.4 632.2 L376.4 632.6 L378.4 633.1 L380.4 633.5 L382.5 633.9 L384.5 634.2 L386.5 634.6 L388.5 635.0 L390.5 635.4 L392.5 635.8 L394.5 636.2 L396.5 636.7 L398.5 637.1 L400.5 637.6 L402.5 638.1 L404.5 638.6 L406.5 639.1 L408.5 639.7 L410.6 640.3 L412.6 640.9 L414.6 641.6 L416.6 642.4 L418.6 643.1 L420.6 644.0 L422.6 644.9 L424.6 645.8 L426.6 646.9 L428.6 647.9 L430.6 649.1 L432.6 650.4 L434.6 651.7 L436.6 653.1 L438.6 654.6 L440.7 656.2 L442.7 657.9 L444.7 659.7 L446.7 661.6 L448.7 663.5 L450.7 665.4 L452.7 667.4 L454.7 669.4 L456.7 671.4 L458.7 673.4 L460.7 675.3 L462.7 677.2 L464.7 679.0 L466.7 680.8 L468.8 682.4 L470.8 684.0 L472.8 685.4 L474.8 686.7 L476.8 687.9 L478.8 689.1 L480.8 690.2 L482.8 691.2 L484.8 692.1 L486.8 693.0 L488.8 693.9 L490.8 694.8 L492.8 695.5 L494.8 696.2 L496.9 696.8 L498.9 697.3 L500.9 697.6 L502.9 697.8 L504.9 697.8 L506.9 697.6 L508.9 697.3 L510.9 696.7 L512.9 695.9 L514.9 694.9 L516.9 693.8 L518.9 692.5 L520.9 691.1 L522.9 689.5 L524.9 687.8 L527.0 686.0 L529.0 684.2 L531.0 682.2 L533.0 680.2 L535.0 678.2 L537.0 676.1 L539.0 673.9 L541.0 671.7 L543.0 669.4 L545.0 667.0 L547.0 664.4 L549.0 661.8 L551.0 659.1 L553.0 656.2 L555.1 653.2 L557.1 650.0 L559.1 646.7 L561.1 643.1 L563.1 639.5 L565.1 635.7 L567.1 631.7 L569.1 627.6 L571.1 623.4 L573.1 619.2 L575.1 614.8 L577.1 610.4 L579.1 605.9 L581.1 601.4 L583.2 596.8 L585.2 592.3 L587.2 587.8 L589.2 583.2 L591.2 578.8 L593.2 574.3 L595.2 569.9 L597.2 565.6 L599.2 561.2 L601.2 556.8 L603.2 552.5 L605.2 548.1 L607.2 543.7 L609.2 539.2 L611.2 534.7 L613.3 530.0 L615.3 525.4 L617.3 520.6 L619.3 515.8 L621.3 510.9 L623.3 506.1 L625.3 501.2 L627.3 496.3 L629.3 491.2 L631.3 485.8 L633.3 480.1 L635.3 474.1 L637.3 468.1 L639.3 462.5 L641.4 457.6 L643.4 453.7 L645.4 451.3" fill="none" stroke="#000" stroke-width="2.0" stroke-dasharray="8.5 10.5" stroke-linecap="round"/>
<path d="M165.7 656.3 L167.7 654.1 L169.7 651.9 L171.7 650.0 L173.7 648.1 L175.7 646.3 L177.7 644.6 L179.7 643.0 L181.7 641.5 L183.7 640.0 L185.7 638.6 L187.7 637.2 L189.7 635.9 L191.7 634.6 L193.7 633.2 L195.7 631.9 L197.7 630.6 L199.7 629.2 L201.7 627.9 L203.7 626.4 L205.7 625.0 L207.7 623.6 L209.7 622.2 L211.7 620.7 L213.7 619.3 L215.7 617.8 L217.7 616.4 L219.7 615.0 L221.7 613.6 L223.7 612.2 L225.7 610.9 L227.7 609.6 L229.7 608.3 L231.7 607.1 L233.7 605.9 L235.7 604.8 L237.7 603.7 L239.7 602.7 L241.7 601.7 L243.7 600.8 L245.7 600.0 L247.7 599.2 L249.7 598.5 L251.7 597.9 L253.7 597.4 L255.7 597.0 L257.7 596.6 L259.7 596.3 L261.7 596.2 L263.7 596.1 L265.7 596.1 L267.7 596.3 L269.7 596.5 L271.7 596.9 L273.7 597.3 L275.7 597.9 L277.7 598.5 L279.7 599.2 L281.7 600.0 L283.7 600.9 L285.7 601.9 L287.7 603.0 L289.7 604.1 L291.7 605.3 L293.7 606.6 L295.7 607.9 L297.7 609.2 L299.7 610.6 L301.7 612.1 L303.7 613.5 L305.7 615.0 L307.7 616.5 L309.7 618.0 L311.7 619.6 L313.7 621.1 L315.7 622.6 L317.7 624.1 L319.7 625.5 L321.7 627.0 L323.7 628.4 L325.7 629.9 L327.7 631.2 L329.7 632.6 L331.7 633.9 L333.7 635.2 L335.7 636.5 L337.7 637.7 L339.7 638.9 L341.7 640.1 L343.7 641.2 L345.7 642.3 L347.7 643.4 L349.7 644.4 L351.7 645.4 L353.7 646.4 L355.7 647.3 L357.7 648.2 L359.7 649.0 L361.7 649.8 L363.7 650.6 L365.7 651.3 L367.7 652.1 L369.7 652.7 L371.7 653.4 L373.7 654.0 L375.7 654.6 L377.7 655.2 L379.7 655.8 L381.7 656.3 L383.7 656.9 L385.7 657.4 L387.7 658.0 L389.7 658.5 L391.8 659.1 L393.8 659.6 L395.8 660.2 L397.8 660.8 L399.8 661.4 L401.8 662.0 L403.8 662.7 L405.8 663.4 L407.8 664.1 L409.8 664.8 L411.8 665.6 L413.8 666.4 L415.8 667.3 L417.8 668.2 L419.8 669.2 L421.8 670.2 L423.8 671.3 L425.8 672.4 L427.8 673.6 L429.8 674.9 L431.8 676.2 L433.8 677.6 L435.8 679.1 L437.8 680.6 L439.8 682.2 L441.8 683.9 L443.8 685.7 L445.8 687.5 L447.8 689.3 L449.8 691.2 L451.8 693.2 L453.8 695.2 L455.8 697.2 L457.8 699.3 L459.8 701.3 L461.8 703.5 L463.8 705.6 L465.8 707.7 L467.8 709.9 L469.8 712.0 L471.8 714.0 L473.8 716.0 L475.8 717.8 L477.8 719.6 L479.8 721.2 L481.8 722.8 L483.8 724.2 L485.8 725.5 L487.8 726.7 L489.8 727.9 L491.8 728.9 L493.8 729.8 L495.8 730.6 L497.8 731.2 L499.8 731.8 L501.8 732.3 L503.8 732.7 L505.8 733.0 L507.8 733.2 L509.8 733.3 L511.8 733.3 L513.8 733.1 L515.8 732.9 L517.8 732.6 L519.8 732.2 L521.8 731.6 L523.8 731.0 L525.8 730.1 L527.8 729.2 L529.8 728.0 L531.8 726.8 L533.8 725.3 L535.8 723.6 L537.8 721.8 L539.8 719.7 L541.8 717.5 L543.8 715.1 L545.8 712.5 L547.8 709.7 L549.8 706.8 L551.8 703.8 L553.8 700.7 L555.8 697.5 L557.8 694.2 L559.8 690.8 L561.8 687.4 L563.8 684.0 L565.8 680.5 L567.8 677.0 L569.8 673.5 L571.8 669.9 L573.8 666.3 L575.8 662.8 L577.8 659.2 L579.8 655.7 L581.8 652.2 L583.8 648.7 L585.8 645.2 L587.8 641.8 L589.8 638.4 L591.8 635.0 L593.8 631.8 L595.8 628.6 L597.8 625.4 L599.8 622.3 L601.8 619.4 L603.8 616.5 L605.8 613.7 L607.8 611.0 L609.8 608.3 L611.8 605.7 L613.8 603.1 L615.8 600.6 L617.8 598.1 L619.8 595.6 L621.8 593.2 L623.8 590.7 L625.8 588.2 L627.8 585.7 L629.8 583.3 L631.8 581.0 L633.8 578.9 L635.8 577.0 L637.8 575.4 L639.8 574.1 L641.8 573.1" fill="none" stroke="#000" stroke-width="2.0" stroke-dasharray="8.5 10.5" stroke-linecap="round"/>
<path d="M165.7 646.0 L167.7 644.8 L169.7 643.5 L171.7 642.1 L173.7 640.8 L175.7 639.4 L177.7 637.9 L179.8 636.5 L181.8 635.0 L183.8 633.6 L185.8 632.1 L187.8 630.6 L189.8 629.0 L191.8 627.5 L193.8 626.0 L195.8 624.4 L197.8 622.9 L199.8 621.4 L201.8 619.9 L203.8 618.4 L205.9 616.9 L207.9 615.4 L209.9 613.9 L211.9 612.5 L213.9 611.1 L215.9 609.7 L217.9 608.3 L219.9 606.9 L221.9 605.6 L223.9 604.4 L225.9 603.1 L227.9 602.0 L229.9 600.8 L231.9 599.7 L234.0 598.7 L236.0 597.7 L238.0 596.7 L240.0 595.8 L242.0 595.0 L244.0 594.2 L246.0 593.5 L248.0 592.9 L250.0 592.4 L252.0 591.9 L254.0 591.4 L256.0 591.1 L258.0 590.8 L260.1 590.6 L262.1 590.4 L264.1 590.4 L266.1 590.4 L268.1 590.5 L270.1 590.6 L272.1 590.9 L274.1 591.2 L276.1 591.6 L278.1 592.1 L280.1 592.7 L282.1 593.4 L284.1 594.1 L286.2 595.0 L288.2 595.9 L290.2 596.9 L292.2 598.1 L294.2 599.3 L296.2 600.5 L298.2 601.9 L300.2 603.3 L302.2 604.8 L304.2 606.3 L306.2 607.8 L308.2 609.4 L310.2 611.0 L312.2 612.6 L314.3 614.1 L316.3 615.7 L318.3 617.3 L320.3 618.8 L322.3 620.3 L324.3 621.7 L326.3 623.1 L328.3 624.5 L330.3 625.7 L332.3 627.0 L334.3 628.1 L336.3 629.2 L338.3 630.3 L340.4 631.3 L342.4 632.3 L344.4 633.3 L346.4 634.2 L348.4 635.0 L350.4 635.9 L352.4 636.6 L354.4 637.4 L356.4 638.2 L358.4 638.9 L360.4 639.6 L362.4 640.2 L364.4 640.9 L366.5 641.5 L368.5 642.1 L370.5 642.7 L372.5 643.2 L374.5 643.8 L376.5 644.3 L378.5 644.8 L380.5 645.3 L382.5 645.8 L384.5 646.2 L386.5 646.7 L388.5 647.1 L390.5 647.5 L392.6 647.9 L394.6 648.4 L396.6 648.8 L398.6 649.2 L400.6 649.7 L402.6 650.2 L404.6 650.7 L406.6 651.3 L408.6 652.0 L410.6 652.7 L412.6 653.4 L414.6 654.3 L416.6 655.2 L418.6 656.2 L420.7 657.2 L422.7 658.4 L424.7 659.6 L426.7 660.9 L428.7 662.2 L430.7 663.6 L432.7 665.1 L434.7 666.6 L436.7 668.1 L438.7 669.7 L440.7 671.4 L442.7 673.0 L444.7 674.7 L446.8 676.5 L448.8 678.3 L450.8 680.0 L452.8 681.9 L454.8 683.7 L456.8 685.5 L458.8 687.4 L460.8 689.2 L462.8 691.1 L464.8 692.9 L466.8 694.7 L468.8 696.5 L470.8 698.3 L472.9 700.0 L474.9 701.6 L476.9 703.2 L478.9 704.7 L480.9 706.1 L482.9 707.4 L484.9 708.7 L486.9 709.8 L488.9 710.8 L490.9 711.7 L492.9 712.5 L494.9 713.1 L496.9 713.7 L498.9 714.1 L501.0 714.4 L503.0 714.7 L505.0 714.7 L507.0 714.7 L509.0 714.6 L511.0 714.3 L513.0 713.9 L515.0 713.4 L517.0 712.8 L519.0 712.1 L521.0 711.3 L523.0 710.3 L525.0 709.2 L527.1 708.0 L529.1 706.7 L531.1 705.3 L533.1 703.8 L535.1 702.1 L537.1 700.3 L539.1 698.5 L541.1 696.5 L543.1 694.4 L545.1 692.3 L547.1 690.0 L549.1 687.7 L551.1 685.2 L553.2 682.7 L555.2 680.0 L557.2 677.3 L559.2 674.5 L561.2 671.7 L563.2 668.7 L565.2 665.7 L567.2 662.6 L569.2 659.4 L571.2 656.2 L573.2 652.9 L575.2 649.5 L577.2 646.1 L579.3 642.6 L581.3 639.1 L583.3 635.5 L585.3 631.9 L587.3 628.2 L589.3 624.4 L591.3 620.6 L593.3 616.8 L595.3 613.0 L597.3 609.1 L599.3 605.2 L601.3 601.2 L603.3 597.2 L605.3 593.2 L607.4 589.2 L609.4 585.1 L611.4 581.0 L613.4 576.9 L615.4 572.8 L617.4 568.7 L619.4 564.6 L621.4 560.4 L623.4 556.3 L625.4 552.1 L627.4 548.0 L629.4 543.8 L631.4 539.7 L633.5 535.6 L635.5 531.4 L637.5 527.3 L639.5 523.2 L641.5 519.2 L643.5 515.1 L645.5 511.1 L647.5 507.1" fill="none" stroke="#000" stroke-width="2.1" stroke-linejoin="round"/>
<rect x="712.7" y="425.9" width="520.4" height="319.8" fill="none" stroke="#000" stroke-width="2.40"/>
<line x1="706.9" y1="426.8" x2="712.7" y2="426.8" stroke="#000" stroke-width="1.60"/>
<line x1="706.9" y1="493.0" x2="712.7" y2="493.0" stroke="#000" stroke-width="1.60"/>
<line x1="706.9" y1="557.8" x2="712.7" y2="557.8" stroke="#000" stroke-width="1.60"/>
<line x1="706.9" y1="623.2" x2="712.7" y2="623.2" stroke="#000" stroke-width="1.60"/>
<line x1="706.9" y1="689.0" x2="712.7" y2="689.0" stroke="#000" stroke-width="1.60"/>
<line x1="733.1" y1="735.7" x2="733.1" y2="745.7" stroke="#000" stroke-width="1.50"/>
<line x1="786.5" y1="735.7" x2="786.5" y2="751.7" stroke="#000" stroke-width="1.50"/>
<line x1="840.0" y1="735.7" x2="840.0" y2="745.7" stroke="#000" stroke-width="1.50"/>
<line x1="893.4" y1="735.7" x2="893.4" y2="751.7" stroke="#000" stroke-width="1.50"/>
<line x1="946.8" y1="735.7" x2="946.8" y2="745.7" stroke="#000" stroke-width="1.50"/>
<line x1="1000.2" y1="735.7" x2="1000.2" y2="751.7" stroke="#000" stroke-width="1.50"/>
<line x1="1053.7" y1="735.7" x2="1053.7" y2="745.7" stroke="#000" stroke-width="1.50"/>
<line x1="1107.1" y1="735.7" x2="1107.1" y2="751.7" stroke="#000" stroke-width="1.50"/>
<line x1="1160.5" y1="735.7" x2="1160.5" y2="745.7" stroke="#000" stroke-width="1.50"/>
<line x1="1214.0" y1="735.7" x2="1214.0" y2="751.7" stroke="#000" stroke-width="1.50"/>
<text transform="translate(762.67 780.00) scale(0.9067 1)" font-size="26.00">Feb</text>
<text transform="translate(877.45 780.00) scale(0.9705 1)" font-size="26.00">Apr</text>
<text transform="translate(991.11 780.00) scale(0.9642 1)" font-size="26.00">Jun</text>
<text transform="translate(1097.55 780.00) scale(0.9678 1)" font-size="26.00">Aug</text>
<text transform="translate(1194.21 780.00) scale(0.9635 1)" font-size="26.00">Oct</text>
<text transform="translate(748.81 467.60) scale(0.9850 1)" font-size="15.90">18:00 - 00:00</text>
<path d="M732.1 629.1 L734.1 628.9 L736.1 628.6 L738.1 628.3 L740.1 628.0 L742.1 627.6 L744.1 627.2 L746.1 626.7 L748.1 626.2 L750.1 625.7 L752.1 625.1 L754.1 624.5 L756.1 623.9 L758.1 623.2 L760.1 622.5 L762.1 621.8 L764.1 621.0 L766.1 620.3 L768.1 619.5 L770.1 618.7 L772.1 617.8 L774.1 617.0 L776.1 616.1 L778.1 615.3 L780.2 614.4 L782.2 613.5 L784.2 612.6 L786.2 611.7 L788.2 610.8 L790.2 609.9 L792.2 609.0 L794.2 608.0 L796.2 607.1 L798.2 606.2 L800.2 605.3 L802.2 604.4 L804.2 603.5 L806.2 602.6 L808.2 601.8 L810.2 600.9 L812.2 600.1 L814.2 599.3 L816.2 598.5 L818.2 597.8 L820.2 597.1 L822.2 596.4 L824.2 595.9 L826.2 595.4 L828.2 594.9 L830.2 594.5 L832.2 594.3 L834.2 594.1 L836.2 594.0 L838.2 594.0 L840.2 594.1 L842.2 594.3 L844.2 594.6 L846.2 594.9 L848.2 595.4 L850.2 595.9 L852.2 596.5 L854.2 597.2 L856.2 598.0 L858.2 598.8 L860.2 599.6 L862.2 600.6 L864.2 601.5 L866.2 602.5 L868.2 603.6 L870.2 604.7 L872.2 605.8 L874.2 607.0 L876.2 608.2 L878.2 609.4 L880.2 610.6 L882.2 611.9 L884.2 613.2 L886.2 614.5 L888.2 615.8 L890.2 617.1 L892.2 618.4 L894.2 619.7 L896.2 620.9 L898.2 622.2 L900.2 623.5 L902.2 624.7 L904.2 626.0 L906.2 627.2 L908.2 628.3 L910.2 629.5 L912.2 630.6 L914.2 631.6 L916.2 632.7 L918.2 633.7 L920.2 634.6 L922.2 635.5 L924.2 636.3 L926.2 637.1 L928.2 637.9 L930.2 638.6 L932.2 639.2 L934.2 639.8 L936.2 640.3 L938.2 640.7 L940.2 641.0 L942.2 641.3 L944.2 641.6 L946.2 641.7 L948.2 641.8 L950.2 641.8 L952.2 641.7 L954.2 641.6 L956.2 641.4 L958.2 641.1 L960.2 640.8 L962.2 640.4 L964.2 640.0 L966.2 639.6 L968.2 639.1 L970.2 638.6 L972.2 638.0 L974.2 637.4 L976.2 636.8 L978.3 636.1 L980.3 635.5 L982.3 634.8 L984.3 634.1 L986.3 633.4 L988.3 632.7 L990.3 631.9 L992.3 631.2 L994.3 630.5 L996.3 629.8 L998.3 629.1 L1000.3 628.4 L1002.3 627.7 L1004.3 627.1 L1006.3 626.5 L1008.3 625.9 L1010.3 625.3 L1012.3 624.8 L1014.3 624.3 L1016.3 623.8 L1018.3 623.4 L1020.3 623.0 L1022.3 622.7 L1024.3 622.5 L1026.3 622.3 L1028.3 622.1 L1030.3 622.0 L1032.3 622.0 L1034.3 622.0 L1036.3 622.1 L1038.3 622.2 L1040.3 622.4 L1042.3 622.7 L1044.3 623.1 L1046.3 623.5 L1048.3 624.0 L1050.3 624.6 L1052.3 625.2 L1054.3 625.9 L1056.3 626.7 L1058.3 627.6 L1060.3 628.6 L1062.3 629.6 L1064.3 630.6 L1066.3 631.6 L1068.3 632.7 L1070.3 633.7 L1072.3 634.8 L1074.3 635.8 L1076.3 636.8 L1078.3 637.7 L1080.3 638.6 L1082.3 639.4 L1084.3 640.2 L1086.3 640.8 L1088.3 641.4 L1090.3 641.8 L1092.3 642.2 L1094.3 642.4 L1096.3 642.4 L1098.3 642.4 L1100.3 642.2 L1102.3 641.8 L1104.3 641.4 L1106.3 640.8 L1108.3 640.1 L1110.3 639.2 L1112.3 638.2 L1114.3 637.1 L1116.3 635.9 L1118.3 634.6 L1120.3 633.1 L1122.3 631.5 L1124.3 629.7 L1126.3 627.9 L1128.3 625.9 L1130.3 623.8 L1132.3 621.6 L1134.3 619.3 L1136.3 616.9 L1138.3 614.3 L1140.3 611.7 L1142.3 608.9 L1144.3 606.1 L1146.3 603.2 L1148.3 600.2 L1150.3 597.2 L1152.3 594.3 L1154.3 591.3 L1156.3 588.3 L1158.3 585.3 L1160.3 582.4 L1162.3 579.5 L1164.3 576.7 L1166.3 574.0 L1168.3 571.2 L1170.3 568.5 L1172.3 565.7 L1174.3 562.9 L1176.4 560.1 L1178.4 557.3 L1180.4 554.4 L1182.4 551.4 L1184.4 548.3 L1186.4 545.1 L1188.4 541.8 L1190.4 538.4 L1192.4 535.0 L1194.4 531.3 L1196.4 527.6 L1198.4 523.8 L1200.4 519.8 L1202.4 515.6 L1204.4 511.3 L1206.4 506.9 L1208.4 502.3 L1210.4 497.6" fill="none" stroke="#000" stroke-width="2.0" stroke-dasharray="8.5 10.5" stroke-linecap="round"/>
<path d="M732.1 647.1 L734.1 645.7 L736.1 644.3 L738.1 643.1 L740.2 642.0 L742.2 641.0 L744.2 640.0 L746.2 639.2 L748.2 638.3 L750.2 637.5 L752.2 636.8 L754.2 636.1 L756.2 635.4 L758.2 634.7 L760.2 634.0 L762.2 633.3 L764.2 632.6 L766.2 631.9 L768.2 631.2 L770.2 630.4 L772.3 629.6 L774.3 628.7 L776.3 627.7 L778.3 626.8 L780.3 625.8 L782.3 624.8 L784.3 623.7 L786.3 622.7 L788.3 621.6 L790.3 620.6 L792.3 619.6 L794.3 618.5 L796.3 617.5 L798.3 616.5 L800.3 615.5 L802.4 614.6 L804.4 613.7 L806.4 612.8 L808.4 612.0 L810.4 611.3 L812.4 610.6 L814.4 609.9 L816.4 609.3 L818.4 608.8 L820.4 608.3 L822.4 607.9 L824.4 607.5 L826.4 607.2 L828.4 607.0 L830.4 606.8 L832.4 606.7 L834.5 606.7 L836.5 606.8 L838.5 606.9 L840.5 607.1 L842.5 607.4 L844.5 607.8 L846.5 608.3 L848.5 608.8 L850.5 609.5 L852.5 610.2 L854.5 611.0 L856.5 612.0 L858.5 613.0 L860.5 614.1 L862.5 615.3 L864.6 616.6 L866.6 617.9 L868.6 619.3 L870.6 620.8 L872.6 622.2 L874.6 623.7 L876.6 625.1 L878.6 626.5 L880.6 628.0 L882.6 629.4 L884.6 630.8 L886.6 632.2 L888.6 633.6 L890.6 635.1 L892.6 636.5 L894.6 637.9 L896.7 639.3 L898.7 640.7 L900.7 642.1 L902.7 643.5 L904.7 644.9 L906.7 646.2 L908.7 647.5 L910.7 648.8 L912.7 650.1 L914.7 651.3 L916.7 652.5 L918.7 653.7 L920.7 654.8 L922.7 655.9 L924.7 656.9 L926.7 657.9 L928.8 658.9 L930.8 659.7 L932.8 660.6 L934.8 661.3 L936.8 662.0 L938.8 662.7 L940.8 663.2 L942.8 663.7 L944.8 664.1 L946.8 664.5 L948.8 664.7 L950.8 664.9 L952.8 665.0 L954.8 665.0 L956.8 664.9 L958.9 664.7 L960.9 664.4 L962.9 664.1 L964.9 663.7 L966.9 663.3 L968.9 662.8 L970.9 662.3 L972.9 661.8 L974.9 661.3 L976.9 660.7 L978.9 660.2 L980.9 659.6 L982.9 659.1 L984.9 658.6 L986.9 658.0 L988.9 657.5 L991.0 656.9 L993.0 656.4 L995.0 655.8 L997.0 655.3 L999.0 654.8 L1001.0 654.2 L1003.0 653.7 L1005.0 653.2 L1007.0 652.7 L1009.0 652.3 L1011.0 651.9 L1013.0 651.5 L1015.0 651.1 L1017.0 650.8 L1019.0 650.5 L1021.1 650.3 L1023.1 650.1 L1025.1 650.0 L1027.1 649.9 L1029.1 649.9 L1031.1 650.0 L1033.1 650.2 L1035.1 650.4 L1037.1 650.7 L1039.1 651.1 L1041.1 651.5 L1043.1 652.1 L1045.1 652.7 L1047.1 653.5 L1049.1 654.3 L1051.1 655.3 L1053.2 656.3 L1055.2 657.4 L1057.2 658.6 L1059.2 659.8 L1061.2 661.2 L1063.2 662.5 L1065.2 664.0 L1067.2 665.5 L1069.2 667.1 L1071.2 668.7 L1073.2 670.3 L1075.2 672.0 L1077.2 673.7 L1079.2 675.4 L1081.2 677.0 L1083.3 678.7 L1085.3 680.2 L1087.3 681.6 L1089.3 682.9 L1091.3 684.1 L1093.3 685.1 L1095.3 685.9 L1097.3 686.6 L1099.3 687.0 L1101.3 687.3 L1103.3 687.4 L1105.3 687.4 L1107.3 687.2 L1109.3 686.8 L1111.3 686.3 L1113.3 685.6 L1115.4 684.8 L1117.4 683.9 L1119.4 682.8 L1121.4 681.7 L1123.4 680.4 L1125.4 679.0 L1127.4 677.5 L1129.4 675.9 L1131.4 674.3 L1133.4 672.5 L1135.4 670.7 L1137.4 668.8 L1139.4 666.9 L1141.4 664.9 L1143.4 662.9 L1145.4 660.8 L1147.5 658.7 L1149.5 656.6 L1151.5 654.4 L1153.5 652.3 L1155.5 650.1 L1157.5 647.9 L1159.5 645.8 L1161.5 643.7 L1163.5 641.6 L1165.5 639.5 L1167.5 637.4 L1169.5 635.4 L1171.5 633.5 L1173.5 631.6 L1175.5 629.7 L1177.6 627.9 L1179.6 626.2 L1181.6 624.6 L1183.6 623.0 L1185.6 621.5 L1187.6 620.1 L1189.6 618.8 L1191.6 617.6 L1193.6 616.6 L1195.6 615.6 L1197.6 614.8 L1199.6 614.1 L1201.6 613.5 L1203.6 613.1 L1205.6 612.8 L1207.6 612.7 L1209.7 612.8" fill="none" stroke="#000" stroke-width="2.0" stroke-dasharray="8.5 10.5" stroke-linecap="round"/>
<path d="M732.1 637.4 L734.1 637.0 L736.1 636.6 L738.1 636.1 L740.2 635.6 L742.2 635.1 L744.2 634.5 L746.2 633.9 L748.2 633.3 L750.2 632.6 L752.2 631.9 L754.2 631.2 L756.2 630.4 L758.2 629.6 L760.2 628.8 L762.2 628.0 L764.2 627.1 L766.3 626.3 L768.3 625.4 L770.3 624.5 L772.3 623.6 L774.3 622.7 L776.3 621.8 L778.3 620.8 L780.3 619.9 L782.3 618.9 L784.3 618.0 L786.3 617.1 L788.3 616.1 L790.3 615.2 L792.4 614.3 L794.4 613.4 L796.4 612.4 L798.4 611.5 L800.4 610.7 L802.4 609.8 L804.4 608.9 L806.4 608.1 L808.4 607.3 L810.4 606.5 L812.4 605.8 L814.4 605.0 L816.4 604.4 L818.4 603.7 L820.5 603.1 L822.5 602.6 L824.5 602.1 L826.5 601.6 L828.5 601.2 L830.5 600.9 L832.5 600.7 L834.5 600.5 L836.5 600.4 L838.5 600.3 L840.5 600.4 L842.5 600.5 L844.5 600.7 L846.6 601.0 L848.6 601.4 L850.6 601.9 L852.6 602.5 L854.6 603.2 L856.6 604.0 L858.6 604.9 L860.6 605.9 L862.6 606.9 L864.6 608.1 L866.6 609.3 L868.6 610.6 L870.6 611.9 L872.7 613.3 L874.7 614.7 L876.7 616.1 L878.7 617.6 L880.7 619.1 L882.7 620.6 L884.7 622.2 L886.7 623.7 L888.7 625.2 L890.7 626.7 L892.7 628.2 L894.7 629.7 L896.7 631.1 L898.8 632.5 L900.8 633.9 L902.8 635.2 L904.8 636.5 L906.8 637.7 L908.8 638.9 L910.8 640.1 L912.8 641.2 L914.8 642.3 L916.8 643.3 L918.8 644.3 L920.8 645.2 L922.8 646.1 L924.8 646.9 L926.9 647.7 L928.9 648.5 L930.9 649.2 L932.9 649.8 L934.9 650.4 L936.9 650.9 L938.9 651.3 L940.9 651.7 L942.9 652.1 L944.9 652.3 L946.9 652.5 L948.9 652.7 L950.9 652.7 L953.0 652.7 L955.0 652.6 L957.0 652.5 L959.0 652.3 L961.0 652.0 L963.0 651.7 L965.0 651.3 L967.0 650.9 L969.0 650.5 L971.0 650.0 L973.0 649.4 L975.0 648.9 L977.0 648.3 L979.1 647.7 L981.1 647.1 L983.1 646.4 L985.1 645.8 L987.1 645.1 L989.1 644.5 L991.1 643.8 L993.1 643.2 L995.1 642.5 L997.1 641.9 L999.1 641.3 L1001.1 640.7 L1003.1 640.1 L1005.1 639.5 L1007.2 639.0 L1009.2 638.5 L1011.2 638.0 L1013.2 637.6 L1015.2 637.2 L1017.2 636.9 L1019.2 636.6 L1021.2 636.3 L1023.2 636.1 L1025.2 636.0 L1027.2 635.9 L1029.2 635.9 L1031.2 636.0 L1033.3 636.1 L1035.3 636.3 L1037.3 636.6 L1039.3 636.9 L1041.3 637.4 L1043.3 637.9 L1045.3 638.5 L1047.3 639.2 L1049.3 640.0 L1051.3 640.9 L1053.3 641.8 L1055.3 642.8 L1057.3 643.9 L1059.4 645.0 L1061.4 646.1 L1063.4 647.3 L1065.4 648.5 L1067.4 649.8 L1069.4 651.0 L1071.4 652.2 L1073.4 653.5 L1075.4 654.7 L1077.4 655.9 L1079.4 657.0 L1081.4 658.2 L1083.4 659.2 L1085.4 660.3 L1087.5 661.2 L1089.5 662.0 L1091.5 662.8 L1093.5 663.4 L1095.5 663.9 L1097.5 664.3 L1099.5 664.5 L1101.5 664.5 L1103.5 664.4 L1105.5 664.1 L1107.5 663.6 L1109.5 663.0 L1111.5 662.2 L1113.6 661.2 L1115.6 660.2 L1117.6 658.9 L1119.6 657.6 L1121.6 656.1 L1123.6 654.6 L1125.6 652.9 L1127.6 651.1 L1129.6 649.2 L1131.6 647.3 L1133.6 645.3 L1135.6 643.2 L1137.6 641.0 L1139.7 638.8 L1141.7 636.5 L1143.7 634.2 L1145.7 631.9 L1147.7 629.5 L1149.7 627.1 L1151.7 624.8 L1153.7 622.4 L1155.7 620.0 L1157.7 617.6 L1159.7 615.2 L1161.7 612.8 L1163.7 610.4 L1165.8 608.0 L1167.8 605.6 L1169.8 603.2 L1171.8 600.9 L1173.8 598.5 L1175.8 596.1 L1177.8 593.8 L1179.8 591.4 L1181.8 589.1 L1183.8 586.7 L1185.8 584.4 L1187.8 582.1 L1189.8 579.8 L1191.8 577.5 L1193.9 575.2 L1195.9 572.9 L1197.9 570.6 L1199.9 568.3 L1201.9 566.1 L1203.9 563.8 L1205.9 561.6 L1207.9 559.4 L1209.9 557.2 L1211.9 555.0 L1213.9 552.8" fill="none" stroke="#000" stroke-width="2.1" stroke-linejoin="round"/>
<path d="M153.7 871.0 H669.7 V971.7 M669.7 1036.7 V1187.3 H153.7 V871.0" fill="none" stroke="#000" stroke-width="2.40" stroke-linecap="square"/>
<line x1="669.2" y1="971.7" x2="669.2" y2="1036.7" stroke="#222" stroke-width="1.4"/>
<line x1="147.9" y1="875.2" x2="153.7" y2="875.2" stroke="#000" stroke-width="1.60"/>
<line x1="147.9" y1="934.2" x2="153.7" y2="934.2" stroke="#000" stroke-width="1.60"/>
<line x1="147.9" y1="993.2" x2="153.7" y2="993.2" stroke="#000" stroke-width="1.60"/>
<line x1="147.9" y1="1052.2" x2="153.7" y2="1052.2" stroke="#000" stroke-width="1.60"/>
<line x1="147.9" y1="1111.2" x2="153.7" y2="1111.2" stroke="#000" stroke-width="1.60"/>
<line x1="147.9" y1="1170.2" x2="153.7" y2="1170.2" stroke="#000" stroke-width="1.60"/>
<line x1="172.7" y1="1177.3" x2="172.7" y2="1187.3" stroke="#000" stroke-width="1.50"/>
<line x1="225.8" y1="1177.3" x2="225.8" y2="1193.3" stroke="#000" stroke-width="1.50"/>
<line x1="278.9" y1="1177.3" x2="278.9" y2="1187.3" stroke="#000" stroke-width="1.50"/>
<line x1="332.0" y1="1177.3" x2="332.0" y2="1193.3" stroke="#000" stroke-width="1.50"/>
<line x1="385.1" y1="1177.3" x2="385.1" y2="1187.3" stroke="#000" stroke-width="1.50"/>
<line x1="438.2" y1="1177.3" x2="438.2" y2="1193.3" stroke="#000" stroke-width="1.50"/>
<line x1="491.3" y1="1177.3" x2="491.3" y2="1187.3" stroke="#000" stroke-width="1.50"/>
<line x1="544.4" y1="1177.3" x2="544.4" y2="1193.3" stroke="#000" stroke-width="1.50"/>
<line x1="597.5" y1="1177.3" x2="597.5" y2="1187.3" stroke="#000" stroke-width="1.50"/>
<line x1="650.6" y1="1177.3" x2="650.6" y2="1193.3" stroke="#000" stroke-width="1.50"/>
<text transform="translate(129.44 880.44) scale(1.0600 1)" font-size="15.00">20</text>
<text transform="translate(129.44 939.44) scale(1.0600 1)" font-size="15.00">10</text>
<text transform="translate(138.28 998.44) scale(1.0600 1)" font-size="15.00">0</text>
<text transform="translate(124.14 1057.43) scale(1.0600 1)" font-size="15.00">-10</text>
<text transform="translate(124.14 1116.43) scale(1.0600 1)" font-size="15.00">-20</text>
<text transform="translate(124.14 1175.43) scale(1.0600 1)" font-size="15.00">-30</text>
<text transform="translate(204.97 1225.50) scale(0.9043 1)" font-size="26.00">Feb</text>
<text transform="translate(319.35 1225.50) scale(0.9680 1)" font-size="26.00">Apr</text>
<text transform="translate(432.21 1225.50) scale(0.9642 1)" font-size="26.00">Jun</text>
<text transform="translate(538.25 1225.50) scale(0.9588 1)" font-size="26.00">Aug</text>
<text transform="translate(633.29 1225.50) scale(0.9840 1)" font-size="26.00">Oct</text>
<text transform="translate(244.09 912.70) scale(0.9755 1)" font-size="15.90">00:00 - 06:00</text>
<path d="M172.8 979.4 L174.8 981.1 L176.9 982.8 L178.9 984.3 L180.9 985.7 L182.9 987.1 L184.9 988.4 L186.9 989.5 L188.9 990.6 L190.9 991.7 L192.9 992.7 L194.9 993.6 L196.9 994.5 L198.9 995.4 L201.0 996.2 L203.0 997.1 L205.0 997.9 L207.0 998.7 L209.0 999.5 L211.0 1000.2 L213.0 1001.0 L215.0 1001.8 L217.0 1002.6 L219.0 1003.4 L221.0 1004.1 L223.0 1004.9 L225.1 1005.6 L227.1 1006.3 L229.1 1007.0 L231.1 1007.7 L233.1 1008.4 L235.1 1009.0 L237.1 1009.6 L239.1 1010.1 L241.1 1010.7 L243.1 1011.2 L245.1 1011.6 L247.1 1012.1 L249.2 1012.5 L251.2 1012.8 L253.2 1013.1 L255.2 1013.3 L257.2 1013.4 L259.2 1013.5 L261.2 1013.5 L263.2 1013.5 L265.2 1013.3 L267.2 1013.1 L269.2 1012.7 L271.2 1012.3 L273.3 1011.7 L275.3 1011.1 L277.3 1010.3 L279.3 1009.5 L281.3 1008.6 L283.3 1007.5 L285.3 1006.4 L287.3 1005.2 L289.3 1003.9 L291.3 1002.5 L293.3 1001.1 L295.3 999.5 L297.4 997.9 L299.4 996.2 L301.4 994.4 L303.4 992.6 L305.4 990.7 L307.4 988.8 L309.4 986.9 L311.4 984.9 L313.4 982.9 L315.4 980.8 L317.4 978.8 L319.4 976.7 L321.5 974.7 L323.5 972.6 L325.5 970.6 L327.5 968.6 L329.5 966.6 L331.5 964.7 L333.5 962.8 L335.5 961.0 L337.5 959.2 L339.5 957.4 L341.5 955.8 L343.5 954.2 L345.6 952.6 L347.6 951.1 L349.6 949.6 L351.6 948.2 L353.6 946.8 L355.6 945.5 L357.6 944.3 L359.6 943.0 L361.6 941.8 L363.6 940.7 L365.6 939.7 L367.6 938.7 L369.7 937.8 L371.7 936.9 L373.7 936.2 L375.7 935.5 L377.7 935.0 L379.7 934.5 L381.7 934.2 L383.7 933.9 L385.7 933.8 L387.7 933.9 L389.7 934.0 L391.7 934.3 L393.8 934.7 L395.8 935.2 L397.8 935.8 L399.8 936.5 L401.8 937.3 L403.8 938.2 L405.8 939.2 L407.8 940.2 L409.8 941.3 L411.8 942.5 L413.8 943.7 L415.8 944.9 L417.9 946.3 L419.9 947.7 L421.9 949.1 L423.9 950.5 L425.9 952.0 L427.9 953.6 L429.9 955.1 L431.9 956.7 L433.9 958.3 L435.9 960.0 L437.9 961.6 L439.9 963.3 L442.0 965.0 L444.0 966.6 L446.0 968.3 L448.0 970.0 L450.0 971.7 L452.0 973.4 L454.0 975.0 L456.0 976.7 L458.0 978.3 L460.0 980.0 L462.0 981.5 L464.0 983.1 L466.1 984.6 L468.1 986.1 L470.1 987.6 L472.1 989.0 L474.1 990.4 L476.1 991.7 L478.1 993.0 L480.1 994.2 L482.1 995.4 L484.1 996.5 L486.1 997.5 L488.1 998.5 L490.2 999.4 L492.2 1000.3 L494.2 1001.1 L496.2 1001.9 L498.2 1002.6 L500.2 1003.2 L502.2 1003.8 L504.2 1004.4 L506.2 1004.9 L508.2 1005.4 L510.2 1005.8 L512.2 1006.2 L514.3 1006.5 L516.3 1006.9 L518.3 1007.2 L520.3 1007.4 L522.3 1007.6 L524.3 1007.8 L526.3 1008.0 L528.3 1008.2 L530.3 1008.3 L532.3 1008.4 L534.3 1008.5 L536.3 1008.6 L538.4 1008.6 L540.4 1008.7 L542.4 1008.7 L544.4 1008.7 L546.4 1008.8 L548.4 1008.8 L550.4 1008.8 L552.4 1008.8 L554.4 1008.8 L556.4 1008.8 L558.4 1008.8 L560.4 1008.7 L562.5 1008.7 L564.5 1008.6 L566.5 1008.5 L568.5 1008.4 L570.5 1008.3 L572.5 1008.1 L574.5 1008.0 L576.5 1007.8 L578.5 1007.5 L580.5 1007.3 L582.5 1007.0 L584.5 1006.7 L586.6 1006.3 L588.6 1005.9 L590.6 1005.5 L592.6 1005.0 L594.6 1004.5 L596.6 1004.0 L598.6 1003.4 L600.6 1002.7 L602.6 1002.0 L604.6 1001.3 L606.6 1000.5 L608.6 999.7 L610.7 998.8 L612.7 997.8 L614.7 996.8 L616.7 995.7 L618.7 994.6 L620.7 993.4 L622.7 992.1 L624.7 990.8 L626.7 989.4 L628.7 987.9 L630.7 986.4 L632.7 984.8 L634.8 983.1 L636.8 981.3 L638.8 979.5 L640.8 977.5 L642.8 975.5 L644.8 973.5 L646.8 971.3" fill="none" stroke="#000" stroke-width="2.0" stroke-dasharray="8.5 10.5" stroke-linecap="round"/>
<path d="M172.8 1009.6 L174.8 1009.3 L176.9 1009.2 L178.9 1009.1 L180.9 1009.2 L182.9 1009.3 L184.9 1009.6 L186.9 1009.9 L188.9 1010.3 L190.9 1010.8 L192.9 1011.3 L194.9 1011.9 L196.9 1012.6 L198.9 1013.3 L200.9 1014.0 L202.9 1014.7 L204.9 1015.5 L206.9 1016.2 L209.0 1017.0 L211.0 1017.8 L213.0 1018.5 L215.0 1019.3 L217.0 1020.0 L219.0 1020.7 L221.0 1021.5 L223.0 1022.2 L225.0 1022.8 L227.0 1023.5 L229.0 1024.2 L231.0 1024.8 L233.0 1025.4 L235.0 1026.0 L237.0 1026.6 L239.1 1027.2 L241.1 1027.8 L243.1 1028.3 L245.1 1028.8 L247.1 1029.3 L249.1 1029.8 L251.1 1030.3 L253.1 1030.7 L255.1 1031.1 L257.1 1031.4 L259.1 1031.7 L261.1 1031.9 L263.1 1032.0 L265.1 1032.0 L267.1 1032.0 L269.1 1031.9 L271.2 1031.6 L273.2 1031.2 L275.2 1030.8 L277.2 1030.1 L279.2 1029.4 L281.2 1028.5 L283.2 1027.6 L285.2 1026.5 L287.2 1025.4 L289.2 1024.1 L291.2 1022.8 L293.2 1021.5 L295.2 1020.0 L297.2 1018.6 L299.2 1017.0 L301.2 1015.5 L303.3 1013.9 L305.3 1012.3 L307.3 1010.6 L309.3 1009.0 L311.3 1007.3 L313.3 1005.7 L315.3 1004.0 L317.3 1002.3 L319.3 1000.6 L321.3 999.0 L323.3 997.3 L325.3 995.6 L327.3 994.0 L329.3 992.4 L331.3 990.8 L333.4 989.2 L335.4 987.7 L337.4 986.2 L339.4 984.7 L341.4 983.3 L343.4 981.9 L345.4 980.5 L347.4 979.3 L349.4 978.0 L351.4 976.8 L353.4 975.7 L355.4 974.7 L357.4 973.7 L359.4 972.8 L361.4 971.9 L363.4 971.1 L365.5 970.5 L367.5 969.9 L369.5 969.3 L371.5 968.9 L373.5 968.6 L375.5 968.3 L377.5 968.2 L379.5 968.1 L381.5 968.1 L383.5 968.3 L385.5 968.5 L387.5 968.8 L389.5 969.2 L391.5 969.7 L393.5 970.4 L395.6 971.1 L397.6 971.9 L399.6 972.8 L401.6 973.7 L403.6 974.8 L405.6 975.9 L407.6 977.1 L409.6 978.4 L411.6 979.7 L413.6 981.1 L415.6 982.5 L417.6 984.0 L419.6 985.5 L421.6 987.1 L423.6 988.7 L425.6 990.4 L427.7 992.1 L429.7 993.8 L431.7 995.6 L433.7 997.4 L435.7 999.2 L437.7 1001.0 L439.7 1002.9 L441.7 1004.8 L443.7 1006.7 L445.7 1008.6 L447.7 1010.5 L449.7 1012.4 L451.7 1014.4 L453.7 1016.3 L455.7 1018.3 L457.8 1020.2 L459.8 1022.1 L461.8 1024.0 L463.8 1025.9 L465.8 1027.8 L467.8 1029.7 L469.8 1031.5 L471.8 1033.4 L473.8 1035.2 L475.8 1037.0 L477.8 1038.7 L479.8 1040.4 L481.8 1042.1 L483.8 1043.8 L485.8 1045.4 L487.8 1046.9 L489.9 1048.4 L491.9 1049.9 L493.9 1051.3 L495.9 1052.7 L497.9 1054.1 L499.9 1055.4 L501.9 1056.6 L503.9 1057.9 L505.9 1059.1 L507.9 1060.2 L509.9 1061.4 L511.9 1062.5 L513.9 1063.5 L515.9 1064.6 L517.9 1065.6 L520.0 1066.5 L522.0 1067.5 L524.0 1068.4 L526.0 1069.3 L528.0 1070.2 L530.0 1071.1 L532.0 1072.0 L534.0 1072.8 L536.0 1073.6 L538.0 1074.4 L540.0 1075.2 L542.0 1076.0 L544.0 1076.7 L546.0 1077.5 L548.0 1078.2 L550.0 1078.9 L552.1 1079.7 L554.1 1080.4 L556.1 1081.1 L558.1 1081.8 L560.1 1082.6 L562.1 1083.3 L564.1 1084.0 L566.1 1084.8 L568.1 1085.5 L570.1 1086.3 L572.1 1087.1 L574.1 1087.9 L576.1 1088.7 L578.1 1089.6 L580.1 1090.5 L582.1 1091.4 L584.2 1092.3 L586.2 1093.2 L588.2 1094.2 L590.2 1095.2 L592.2 1096.3 L594.2 1097.4 L596.2 1098.5 L598.2 1099.7 L600.2 1100.9 L602.2 1102.2 L604.2 1103.5 L606.2 1104.9 L608.2 1106.3 L610.2 1107.8 L612.2 1109.3 L614.3 1110.9 L616.3 1112.5 L618.3 1114.2 L620.3 1115.9 L622.3 1117.7 L624.3 1119.5 L626.3 1121.4 L628.3 1123.3 L630.3 1125.2 L632.3 1127.2 L634.3 1129.3 L636.3 1131.4 L638.3 1133.5 L640.3 1135.7 L642.3 1137.9 L644.3 1140.1 L646.4 1142.5 L648.4 1144.8 L650.4 1147.2" fill="none" stroke="#000" stroke-width="2.0" stroke-dasharray="8.5 10.5" stroke-linecap="round"/>
<path d="M172.8 994.4 L174.8 995.1 L176.9 995.8 L178.9 996.6 L180.9 997.3 L182.9 998.1 L184.9 998.9 L186.9 999.7 L188.9 1000.5 L190.9 1001.4 L192.9 1002.2 L194.9 1003.0 L196.9 1003.9 L198.9 1004.8 L200.9 1005.6 L202.9 1006.5 L204.9 1007.3 L206.9 1008.2 L209.0 1009.0 L211.0 1009.9 L213.0 1010.7 L215.0 1011.5 L217.0 1012.3 L219.0 1013.1 L221.0 1013.8 L223.0 1014.6 L225.0 1015.3 L227.0 1016.0 L229.0 1016.7 L231.0 1017.3 L233.0 1017.9 L235.0 1018.5 L237.0 1019.0 L239.1 1019.5 L241.1 1020.0 L243.1 1020.4 L245.1 1020.8 L247.1 1021.2 L249.1 1021.5 L251.1 1021.7 L253.1 1021.9 L255.1 1022.0 L257.1 1022.1 L259.1 1022.1 L261.1 1022.1 L263.1 1022.0 L265.1 1021.9 L267.1 1021.7 L269.1 1021.4 L271.2 1021.0 L273.2 1020.6 L275.2 1020.1 L277.2 1019.5 L279.2 1018.9 L281.2 1018.2 L283.2 1017.3 L285.2 1016.5 L287.2 1015.5 L289.2 1014.4 L291.2 1013.3 L293.2 1012.0 L295.2 1010.7 L297.2 1009.3 L299.2 1007.9 L301.2 1006.3 L303.3 1004.7 L305.3 1003.1 L307.3 1001.4 L309.3 999.6 L311.3 997.9 L313.3 996.0 L315.3 994.2 L317.3 992.3 L319.3 990.4 L321.3 988.5 L323.3 986.6 L325.3 984.7 L327.3 982.8 L329.3 980.9 L331.3 979.1 L333.4 977.2 L335.4 975.4 L337.4 973.6 L339.4 971.8 L341.4 970.1 L343.4 968.4 L345.4 966.8 L347.4 965.2 L349.4 963.7 L351.4 962.3 L353.4 960.9 L355.4 959.6 L357.4 958.4 L359.4 957.3 L361.4 956.2 L363.4 955.3 L365.5 954.4 L367.5 953.6 L369.5 952.9 L371.5 952.3 L373.5 951.8 L375.5 951.3 L377.5 951.0 L379.5 950.8 L381.5 950.7 L383.5 950.7 L385.5 950.8 L387.5 951.0 L389.5 951.3 L391.5 951.7 L393.5 952.2 L395.6 952.8 L397.6 953.5 L399.6 954.2 L401.6 955.1 L403.6 956.0 L405.6 957.0 L407.6 958.1 L409.6 959.3 L411.6 960.6 L413.6 961.9 L415.6 963.2 L417.6 964.7 L419.6 966.2 L421.6 967.7 L423.6 969.3 L425.6 970.9 L427.7 972.6 L429.7 974.3 L431.7 976.1 L433.7 977.8 L435.7 979.6 L437.7 981.4 L439.7 983.3 L441.7 985.1 L443.7 987.0 L445.7 988.8 L447.7 990.7 L449.7 992.5 L451.7 994.4 L453.7 996.2 L455.7 998.0 L457.8 999.8 L459.8 1001.6 L461.8 1003.4 L463.8 1005.1 L465.8 1006.8 L467.8 1008.4 L469.8 1010.0 L471.8 1011.6 L473.8 1013.1 L475.8 1014.6 L477.8 1016.0 L479.8 1017.4 L481.8 1018.7 L483.8 1020.0 L485.8 1021.2 L487.8 1022.4 L489.9 1023.6 L491.9 1024.7 L493.9 1025.8 L495.9 1026.8 L497.9 1027.8 L499.9 1028.8 L501.9 1029.7 L503.9 1030.6 L505.9 1031.5 L507.9 1032.3 L509.9 1033.2 L511.9 1033.9 L513.9 1034.7 L515.9 1035.4 L517.9 1036.1 L520.0 1036.8 L522.0 1037.5 L524.0 1038.1 L526.0 1038.8 L528.0 1039.4 L530.0 1040.0 L532.0 1040.5 L534.0 1041.1 L536.0 1041.6 L538.0 1042.2 L540.0 1042.7 L542.0 1043.2 L544.0 1043.7 L546.0 1044.1 L548.0 1044.6 L550.0 1045.1 L552.1 1045.5 L554.1 1045.9 L556.1 1046.3 L558.1 1046.8 L560.1 1047.1 L562.1 1047.5 L564.1 1047.9 L566.1 1048.3 L568.1 1048.6 L570.1 1049.0 L572.1 1049.3 L574.1 1049.6 L576.1 1049.9 L578.1 1050.3 L580.1 1050.6 L582.1 1050.9 L584.2 1051.1 L586.2 1051.4 L588.2 1051.7 L590.2 1052.0 L592.2 1052.2 L594.2 1052.5 L596.2 1052.7 L598.2 1053.0 L600.2 1053.2 L602.2 1053.4 L604.2 1053.6 L606.2 1053.9 L608.2 1054.1 L610.2 1054.3 L612.2 1054.5 L614.3 1054.7 L616.3 1054.9 L618.3 1055.1 L620.3 1055.3 L622.3 1055.5 L624.3 1055.7 L626.3 1055.9 L628.3 1056.1 L630.3 1056.3 L632.3 1056.5 L634.3 1056.7 L636.3 1056.8 L638.3 1057.0 L640.3 1057.2 L642.3 1057.4 L644.3 1057.6 L646.4 1057.8 L648.4 1058.0 L650.4 1058.2" fill="none" stroke="#000" stroke-width="2.1" stroke-linejoin="round"/>
<path d="M721.3 1036.8 V1189.4 H1237.3 V869.5 H721.3 M721.3 869.5 V971.8" fill="none" stroke="#000" stroke-width="2.40" stroke-linecap="square"/>
<line x1="721.9" y1="971.8" x2="721.9" y2="1036.8" stroke="#222" stroke-width="1.4"/>
<line x1="715.5" y1="878.6" x2="721.3" y2="878.6" stroke="#000" stroke-width="1.60"/>
<line x1="715.5" y1="937.7" x2="721.3" y2="937.7" stroke="#000" stroke-width="1.60"/>
<line x1="715.5" y1="997.0" x2="721.3" y2="997.0" stroke="#000" stroke-width="1.60"/>
<line x1="715.5" y1="1055.3" x2="721.3" y2="1055.3" stroke="#000" stroke-width="1.60"/>
<line x1="715.5" y1="1114.5" x2="721.3" y2="1114.5" stroke="#000" stroke-width="1.60"/>
<line x1="715.5" y1="1173.2" x2="721.3" y2="1173.2" stroke="#000" stroke-width="1.60"/>
<line x1="739.9" y1="1179.4" x2="739.9" y2="1189.4" stroke="#000" stroke-width="1.50"/>
<line x1="793.0" y1="1179.4" x2="793.0" y2="1195.4" stroke="#000" stroke-width="1.50"/>
<line x1="846.1" y1="1179.4" x2="846.1" y2="1189.4" stroke="#000" stroke-width="1.50"/>
<line x1="899.2" y1="1179.4" x2="899.2" y2="1195.4" stroke="#000" stroke-width="1.50"/>
<line x1="952.3" y1="1179.4" x2="952.3" y2="1189.4" stroke="#000" stroke-width="1.50"/>
<line x1="1005.4" y1="1179.4" x2="1005.4" y2="1195.4" stroke="#000" stroke-width="1.50"/>
<line x1="1058.5" y1="1179.4" x2="1058.5" y2="1189.4" stroke="#000" stroke-width="1.50"/>
<line x1="1111.6" y1="1179.4" x2="1111.6" y2="1195.4" stroke="#000" stroke-width="1.50"/>
<line x1="1164.7" y1="1179.4" x2="1164.7" y2="1189.4" stroke="#000" stroke-width="1.50"/>
<line x1="1217.8" y1="1179.4" x2="1217.8" y2="1195.4" stroke="#000" stroke-width="1.50"/>
<text transform="translate(773.77 1226.70) scale(0.9043 1)" font-size="26.00">Feb</text>
<text transform="translate(887.75 1226.70) scale(0.9605 1)" font-size="26.00">Apr</text>
<text transform="translate(1000.21 1226.70) scale(0.9642 1)" font-size="26.00">Jun</text>
<text transform="translate(1105.45 1226.70) scale(0.9768 1)" font-size="26.00">Aug</text>
<text transform="translate(1201.29 1226.70) scale(0.9840 1)" font-size="26.00">Oct</text>
<text transform="translate(765.98 913.10) scale(0.9937 1)" font-size="15.90">0600 -12:00</text>
<path d="M740.0 1025.9 L742.0 1027.3 L744.0 1028.5 L746.0 1029.6 L748.0 1030.5 L750.0 1031.4 L752.0 1032.1 L754.0 1032.7 L756.0 1033.3 L758.0 1033.7 L760.0 1034.1 L762.0 1034.4 L764.0 1034.6 L766.0 1034.8 L768.0 1034.9 L770.0 1034.9 L772.0 1034.9 L774.0 1034.9 L776.0 1034.8 L778.0 1034.8 L780.0 1034.7 L782.0 1034.6 L784.1 1034.5 L786.1 1034.3 L788.1 1034.2 L790.1 1034.0 L792.1 1033.8 L794.1 1033.5 L796.1 1033.2 L798.1 1032.9 L800.1 1032.5 L802.1 1032.1 L804.1 1031.6 L806.1 1031.0 L808.1 1030.4 L810.1 1029.8 L812.1 1029.0 L814.1 1028.2 L816.1 1027.3 L818.1 1026.3 L820.1 1025.3 L822.1 1024.2 L824.1 1022.9 L826.1 1021.7 L828.1 1020.3 L830.1 1018.8 L832.1 1017.3 L834.1 1015.8 L836.1 1014.1 L838.1 1012.4 L840.1 1010.6 L842.2 1008.7 L844.2 1006.8 L846.2 1004.8 L848.2 1002.8 L850.2 1000.7 L852.2 998.5 L854.2 996.2 L856.2 994.0 L858.2 991.6 L860.2 989.2 L862.2 986.7 L864.2 984.2 L866.2 981.6 L868.2 979.0 L870.2 976.4 L872.2 973.6 L874.2 970.9 L876.2 968.1 L878.2 965.2 L880.2 962.4 L882.2 959.5 L884.2 956.6 L886.2 953.7 L888.2 950.8 L890.2 947.9 L892.2 945.0 L894.2 942.1 L896.2 939.2 L898.2 936.5 L900.3 933.9 L902.3 931.6 L904.3 929.5 L906.3 927.7 L908.3 926.2 L910.3 924.7 L912.3 923.1 L914.3 921.4 L916.3 919.6 L918.3 917.9 L920.3 916.2 L922.3 914.6 L924.3 913.0 L926.3 911.6 L928.3 910.1 L930.3 908.8 L932.3 907.5 L934.3 906.2 L936.3 905.1 L938.3 904.0 L940.3 902.9 L942.3 901.9 L944.3 901.0 L946.3 900.2 L948.3 899.3 L950.3 898.6 L952.3 897.9 L954.3 897.3 L956.3 896.7 L958.4 896.2 L960.4 895.8 L962.4 895.4 L964.4 895.1 L966.4 894.8 L968.4 894.6 L970.4 894.4 L972.4 894.3 L974.4 894.2 L976.4 894.2 L978.4 894.3 L980.4 894.4 L982.4 894.6 L984.4 894.8 L986.4 895.1 L988.4 895.4 L990.4 895.8 L992.4 896.2 L994.4 896.6 L996.4 897.2 L998.4 897.7 L1000.4 898.3 L1002.4 898.9 L1004.4 899.6 L1006.4 900.3 L1008.4 901.0 L1010.4 901.8 L1012.4 902.6 L1014.4 903.4 L1016.5 904.3 L1018.5 905.2 L1020.5 906.1 L1022.5 907.0 L1024.5 908.0 L1026.5 909.0 L1028.5 910.0 L1030.5 911.0 L1032.5 912.0 L1034.5 913.1 L1036.5 914.2 L1038.5 915.3 L1040.5 916.4 L1042.5 917.5 L1044.5 918.6 L1046.5 919.7 L1048.5 920.8 L1050.5 922.0 L1052.5 923.1 L1054.5 924.2 L1056.5 925.4 L1058.5 926.5 L1060.5 927.6 L1062.5 928.8 L1064.5 929.9 L1066.5 930.9 L1068.5 932.0 L1070.5 933.0 L1072.5 934.0 L1074.5 934.9 L1076.6 935.7 L1078.6 936.5 L1080.6 937.3 L1082.6 938.0 L1084.6 938.8 L1086.6 939.7 L1088.6 940.5 L1090.6 941.4 L1092.6 942.4 L1094.6 943.4 L1096.6 944.4 L1098.6 945.4 L1100.6 946.5 L1102.6 947.7 L1104.6 948.8 L1106.6 950.0 L1108.6 951.2 L1110.6 952.5 L1112.6 953.7 L1114.6 955.0 L1116.6 956.4 L1118.6 957.7 L1120.6 959.0 L1122.6 960.4 L1124.6 961.8 L1126.6 963.2 L1128.6 964.6 L1130.6 966.0 L1132.6 967.4 L1134.7 968.8 L1136.7 970.2 L1138.7 971.7 L1140.7 973.1 L1142.7 974.5 L1144.7 975.9 L1146.7 977.2 L1148.7 978.6 L1150.7 980.0 L1152.7 981.3 L1154.7 982.6 L1156.7 983.9 L1158.7 985.2 L1160.7 986.4 L1162.7 987.6 L1164.7 988.8 L1166.7 990.0 L1168.7 991.1 L1170.7 992.2 L1172.7 993.2 L1174.7 994.2 L1176.7 995.1 L1178.7 996.0 L1180.7 996.9 L1182.7 997.7 L1184.7 998.5 L1186.7 999.2 L1188.7 999.8 L1190.7 1000.4 L1192.8 1000.9 L1194.8 1001.4 L1196.8 1001.8 L1198.8 1002.1 L1200.8 1002.4 L1202.8 1002.5 L1204.8 1002.6 L1206.8 1002.7 L1208.8 1002.6 L1210.8 1002.5 L1212.8 1002.3 L1214.8 1002.0 L1216.8 1001.6" fill="none" stroke="#000" stroke-width="2.0" stroke-dasharray="8.5 10.5" stroke-linecap="round"/>
<path d="M740.0 1056.7 L742.0 1056.0 L744.0 1055.4 L746.0 1054.9 L748.0 1054.4 L750.0 1054.1 L752.0 1053.8 L754.0 1053.6 L756.0 1053.4 L758.0 1053.3 L760.0 1053.3 L762.0 1053.3 L764.0 1053.3 L766.0 1053.3 L768.0 1053.3 L770.0 1053.4 L772.0 1053.4 L774.0 1053.5 L776.0 1053.5 L778.0 1053.5 L780.0 1053.5 L782.0 1053.5 L784.0 1053.4 L786.0 1053.2 L788.0 1053.0 L790.0 1052.8 L792.0 1052.5 L794.0 1052.1 L796.0 1051.8 L798.0 1051.3 L800.0 1050.8 L802.0 1050.3 L804.0 1049.7 L806.0 1049.1 L808.0 1048.4 L810.0 1047.6 L812.0 1046.9 L814.0 1046.0 L816.0 1045.2 L818.0 1044.3 L820.0 1043.3 L822.0 1042.3 L824.0 1041.2 L826.0 1040.1 L828.0 1038.9 L830.0 1037.6 L832.0 1036.3 L834.0 1034.9 L836.0 1033.4 L838.0 1031.9 L840.0 1030.3 L842.0 1028.5 L844.0 1026.7 L846.0 1024.8 L848.0 1022.8 L850.0 1020.7 L852.0 1018.5 L854.0 1016.2 L856.0 1013.9 L858.0 1011.5 L860.0 1009.0 L862.0 1006.5 L864.0 1004.0 L866.0 1001.4 L868.0 998.9 L870.0 996.3 L872.0 993.8 L874.0 991.3 L876.0 988.8 L878.0 986.4 L880.0 983.9 L882.0 981.6 L884.0 979.2 L886.1 976.9 L888.1 974.7 L890.1 972.4 L892.1 970.3 L894.1 968.1 L896.1 966.0 L898.1 964.0 L900.1 962.0 L902.1 960.1 L904.1 958.3 L906.1 956.5 L908.1 954.7 L910.1 953.0 L912.1 951.4 L914.1 949.8 L916.1 948.4 L918.1 946.9 L920.1 945.6 L922.1 944.2 L924.1 943.0 L926.1 941.8 L928.1 940.7 L930.1 939.6 L932.1 938.6 L934.1 937.6 L936.1 936.8 L938.1 935.9 L940.1 935.1 L942.1 934.4 L944.1 933.7 L946.1 933.1 L948.1 932.5 L950.1 932.0 L952.1 931.5 L954.1 931.1 L956.1 930.8 L958.1 930.5 L960.1 930.2 L962.1 930.0 L964.1 929.9 L966.1 929.8 L968.1 929.7 L970.1 929.7 L972.1 929.8 L974.1 929.9 L976.1 930.1 L978.1 930.3 L980.1 930.6 L982.1 930.9 L984.1 931.3 L986.1 931.7 L988.1 932.2 L990.1 932.7 L992.1 933.3 L994.1 934.0 L996.1 934.7 L998.1 935.4 L1000.1 936.2 L1002.1 937.0 L1004.1 937.9 L1006.1 938.9 L1008.1 939.9 L1010.1 940.9 L1012.1 942.0 L1014.1 943.1 L1016.1 944.2 L1018.1 945.4 L1020.1 946.7 L1022.1 947.9 L1024.1 949.2 L1026.1 950.5 L1028.1 951.8 L1030.1 953.2 L1032.1 954.5 L1034.1 955.9 L1036.1 957.3 L1038.1 958.8 L1040.1 960.2 L1042.1 961.7 L1044.1 963.1 L1046.1 964.6 L1048.1 966.1 L1050.1 967.5 L1052.1 969.0 L1054.1 970.5 L1056.1 972.0 L1058.1 973.5 L1060.1 975.0 L1062.1 976.5 L1064.1 978.1 L1066.1 979.6 L1068.1 981.2 L1070.1 982.7 L1072.1 984.3 L1074.1 985.9 L1076.1 987.6 L1078.1 989.2 L1080.1 990.9 L1082.1 992.6 L1084.2 994.3 L1086.2 996.0 L1088.2 997.7 L1090.2 999.5 L1092.2 1001.3 L1094.2 1003.1 L1096.2 1004.9 L1098.2 1006.8 L1100.2 1008.7 L1102.2 1010.6 L1104.2 1012.5 L1106.2 1014.5 L1108.2 1016.4 L1110.2 1018.4 L1112.2 1020.5 L1114.2 1022.5 L1116.2 1024.6 L1118.2 1026.7 L1120.2 1028.8 L1122.2 1031.0 L1124.2 1033.2 L1126.2 1035.4 L1128.2 1037.6 L1130.2 1039.9 L1132.2 1042.2 L1134.2 1044.5 L1136.2 1046.9 L1138.2 1049.3 L1140.2 1051.7 L1142.2 1054.1 L1144.2 1056.6 L1146.2 1059.2 L1148.2 1061.7 L1150.2 1064.3 L1152.2 1067.0 L1154.2 1069.7 L1156.2 1072.4 L1158.2 1075.2 L1160.2 1078.0 L1162.2 1080.8 L1164.2 1083.8 L1166.2 1086.7 L1168.2 1089.7 L1170.2 1092.8 L1172.2 1095.9 L1174.2 1099.1 L1176.2 1102.3 L1178.2 1105.6 L1180.2 1109.0 L1182.2 1112.4 L1184.2 1115.9 L1186.2 1119.4 L1188.2 1123.0 L1190.2 1126.7 L1192.2 1130.4 L1194.2 1134.2 L1196.2 1138.1 L1198.2 1142.1 L1200.2 1146.1 L1202.2 1150.0 L1204.2 1153.8 L1206.2 1157.5 L1208.2 1160.9 L1210.2 1164.4 L1212.2 1167.9 L1214.2 1171.7 L1216.2 1175.9 L1218.2 1180.7" fill="none" stroke="#000" stroke-width="2.0" stroke-dasharray="8.5 10.5" stroke-linecap="round"/>
<path d="M740.0 1041.6 L742.0 1041.8 L744.0 1041.9 L746.0 1042.1 L748.0 1042.3 L750.0 1042.4 L752.0 1042.6 L754.0 1042.8 L756.0 1043.0 L758.0 1043.1 L760.0 1043.3 L762.0 1043.4 L764.0 1043.6 L766.0 1043.7 L768.0 1043.8 L770.0 1043.9 L772.0 1043.9 L774.0 1043.9 L776.0 1044.0 L778.0 1043.9 L780.0 1043.9 L782.0 1043.8 L784.0 1043.6 L786.0 1043.4 L788.0 1043.2 L790.0 1043.0 L792.0 1042.6 L794.0 1042.3 L796.0 1041.9 L798.0 1041.4 L800.0 1040.8 L802.0 1040.2 L804.0 1039.6 L806.0 1038.9 L808.0 1038.1 L810.0 1037.2 L812.0 1036.2 L814.0 1035.2 L816.0 1034.2 L818.0 1033.0 L820.0 1031.8 L822.0 1030.5 L824.0 1029.2 L826.0 1027.8 L828.0 1026.3 L830.0 1024.7 L832.0 1023.2 L834.0 1021.5 L836.0 1019.8 L838.0 1018.0 L840.0 1016.2 L842.0 1014.3 L844.0 1012.4 L846.0 1010.4 L848.0 1008.4 L850.0 1006.3 L852.0 1004.1 L854.0 1002.0 L856.0 999.7 L858.0 997.4 L860.0 995.1 L862.0 992.8 L864.0 990.4 L866.0 987.9 L868.0 985.4 L870.0 982.9 L872.0 980.4 L874.0 977.8 L876.0 975.2 L878.0 972.7 L880.0 970.1 L882.0 967.6 L884.0 965.1 L886.1 962.7 L888.1 960.2 L890.1 957.9 L892.1 955.6 L894.1 953.3 L896.1 951.1 L898.1 949.1 L900.1 947.0 L902.1 945.1 L904.1 943.2 L906.1 941.4 L908.1 939.6 L910.1 938.0 L912.1 936.3 L914.1 934.8 L916.1 933.3 L918.1 931.8 L920.1 930.4 L922.1 929.1 L924.1 927.8 L926.1 926.6 L928.1 925.4 L930.1 924.2 L932.1 923.2 L934.1 922.1 L936.1 921.1 L938.1 920.2 L940.1 919.3 L942.1 918.4 L944.1 917.6 L946.1 916.8 L948.1 916.1 L950.1 915.5 L952.1 914.9 L954.1 914.3 L956.1 913.8 L958.1 913.4 L960.1 913.0 L962.1 912.6 L964.1 912.3 L966.1 912.1 L968.1 911.9 L970.1 911.8 L972.1 911.7 L974.1 911.7 L976.1 911.8 L978.1 911.9 L980.1 912.0 L982.1 912.2 L984.1 912.5 L986.1 912.8 L988.1 913.2 L990.1 913.6 L992.1 914.1 L994.1 914.7 L996.1 915.3 L998.1 915.9 L1000.1 916.6 L1002.1 917.3 L1004.1 918.1 L1006.1 919.0 L1008.1 919.8 L1010.1 920.7 L1012.1 921.7 L1014.1 922.6 L1016.1 923.7 L1018.1 924.7 L1020.1 925.8 L1022.1 926.9 L1024.1 928.0 L1026.1 929.2 L1028.1 930.3 L1030.1 931.5 L1032.1 932.7 L1034.1 934.0 L1036.1 935.2 L1038.1 936.5 L1040.1 937.8 L1042.1 939.1 L1044.1 940.4 L1046.1 941.7 L1048.1 943.0 L1050.1 944.3 L1052.1 945.6 L1054.1 947.0 L1056.1 948.3 L1058.1 949.6 L1060.1 950.9 L1062.1 952.2 L1064.1 953.5 L1066.1 954.9 L1068.1 956.2 L1070.1 957.5 L1072.1 958.8 L1074.1 960.1 L1076.1 961.5 L1078.1 962.8 L1080.1 964.2 L1082.1 965.5 L1084.2 966.9 L1086.2 968.3 L1088.2 969.7 L1090.2 971.1 L1092.2 972.6 L1094.2 974.0 L1096.2 975.5 L1098.2 977.0 L1100.2 978.5 L1102.2 980.0 L1104.2 981.6 L1106.2 983.2 L1108.2 984.8 L1110.2 986.4 L1112.2 988.1 L1114.2 989.8 L1116.2 991.5 L1118.2 993.2 L1120.2 995.0 L1122.2 996.8 L1124.2 998.7 L1126.2 1000.5 L1128.2 1002.4 L1130.2 1004.3 L1132.2 1006.2 L1134.2 1008.1 L1136.2 1010.0 L1138.2 1012.0 L1140.2 1014.0 L1142.2 1015.9 L1144.2 1017.9 L1146.2 1019.9 L1148.2 1021.9 L1150.2 1023.8 L1152.2 1025.8 L1154.2 1027.8 L1156.2 1029.8 L1158.2 1031.8 L1160.2 1033.7 L1162.2 1035.7 L1164.2 1037.7 L1166.2 1039.6 L1168.2 1041.5 L1170.2 1043.4 L1172.2 1045.3 L1174.2 1047.2 L1176.2 1049.1 L1178.2 1050.9 L1180.2 1052.8 L1182.2 1054.6 L1184.2 1056.5 L1186.2 1058.3 L1188.2 1060.1 L1190.2 1062.0 L1192.2 1063.8 L1194.2 1065.7 L1196.2 1067.5 L1198.2 1069.4 L1200.2 1071.3 L1202.2 1073.3 L1204.2 1075.2 L1206.2 1077.2 L1208.2 1079.2 L1210.2 1081.2 L1212.2 1083.2 L1214.2 1085.3 L1216.2 1087.4 L1218.2 1089.6" fill="none" stroke="#000" stroke-width="2.1" stroke-linejoin="round"/>
<path d="M153.5 1256.6 H669.5 V1351.0 M669.5 1417.0 V1575.9 H153.5 V1256.6" fill="none" stroke="#000" stroke-width="2.40" stroke-linecap="square"/>
<line x1="669.0" y1="1351.0" x2="669.0" y2="1417.0" stroke="#222" stroke-width="1.4"/>
<line x1="147.7" y1="1271.1" x2="153.5" y2="1271.1" stroke="#000" stroke-width="1.60"/>
<line x1="147.7" y1="1329.9" x2="153.5" y2="1329.9" stroke="#000" stroke-width="1.60"/>
<line x1="147.7" y1="1388.7" x2="153.5" y2="1388.7" stroke="#000" stroke-width="1.60"/>
<line x1="147.7" y1="1447.5" x2="153.5" y2="1447.5" stroke="#000" stroke-width="1.60"/>
<line x1="147.7" y1="1506.3" x2="153.5" y2="1506.3" stroke="#000" stroke-width="1.60"/>
<line x1="147.7" y1="1565.1" x2="153.5" y2="1565.1" stroke="#000" stroke-width="1.60"/>
<line x1="172.7" y1="1565.9" x2="172.7" y2="1575.9" stroke="#000" stroke-width="1.50"/>
<line x1="225.8" y1="1565.9" x2="225.8" y2="1581.9" stroke="#000" stroke-width="1.50"/>
<line x1="278.9" y1="1565.9" x2="278.9" y2="1575.9" stroke="#000" stroke-width="1.50"/>
<line x1="332.0" y1="1565.9" x2="332.0" y2="1581.9" stroke="#000" stroke-width="1.50"/>
<line x1="385.1" y1="1565.9" x2="385.1" y2="1575.9" stroke="#000" stroke-width="1.50"/>
<line x1="438.2" y1="1565.9" x2="438.2" y2="1581.9" stroke="#000" stroke-width="1.50"/>
<line x1="491.3" y1="1565.9" x2="491.3" y2="1575.9" stroke="#000" stroke-width="1.50"/>
<line x1="544.4" y1="1565.9" x2="544.4" y2="1581.9" stroke="#000" stroke-width="1.50"/>
<line x1="597.5" y1="1565.9" x2="597.5" y2="1575.9" stroke="#000" stroke-width="1.50"/>
<line x1="650.6" y1="1565.9" x2="650.6" y2="1581.9" stroke="#000" stroke-width="1.50"/>
<text transform="translate(129.74 1276.33) scale(1.0600 1)" font-size="15.00">20</text>
<text transform="translate(129.74 1335.13) scale(1.0600 1)" font-size="15.00">10</text>
<text transform="translate(138.58 1393.93) scale(1.0600 1)" font-size="15.00">0</text>
<text transform="translate(124.44 1452.73) scale(1.0600 1)" font-size="15.00">-10</text>
<text transform="translate(124.44 1511.53) scale(1.0600 1)" font-size="15.00">-20</text>
<text transform="translate(124.44 1570.33) scale(1.0600 1)" font-size="15.00">-30</text>
<text transform="translate(200.65 1609.70) scale(0.9140 1)" font-size="26.00">Feb</text>
<text transform="translate(315.35 1609.70) scale(0.9705 1)" font-size="26.00">Apr</text>
<text transform="translate(428.22 1609.70) scale(0.9341 1)" font-size="26.00">Jun</text>
<text transform="translate(533.45 1609.70) scale(0.9521 1)" font-size="26.00">Aug</text>
<text transform="translate(628.91 1609.70) scale(0.9635 1)" font-size="26.00">Oct</text>
<text transform="translate(244.12 1294.20) scale(0.9774 1)" font-size="15.90">12:00 - 18:00</text>
<path d="M172.8 1350.6 L174.8 1353.0 L176.8 1355.3 L178.8 1357.5 L180.9 1359.6 L182.9 1361.6 L184.9 1363.6 L186.9 1365.5 L188.9 1367.3 L190.9 1369.1 L192.9 1370.8 L194.9 1372.4 L196.9 1374.0 L198.9 1375.5 L200.9 1377.0 L202.9 1378.5 L204.9 1379.9 L206.9 1381.2 L208.9 1382.6 L210.9 1383.8 L212.9 1385.1 L214.9 1386.3 L216.9 1387.5 L218.9 1388.6 L220.9 1389.7 L222.9 1390.7 L224.9 1391.8 L226.9 1392.8 L228.9 1393.7 L230.9 1394.7 L232.9 1395.6 L234.9 1396.4 L236.9 1397.3 L239.0 1398.1 L241.0 1398.9 L243.0 1399.6 L245.0 1400.3 L247.0 1401.0 L249.0 1401.6 L251.0 1402.2 L253.0 1402.7 L255.0 1403.2 L257.0 1403.6 L259.0 1403.9 L261.0 1404.2 L263.0 1404.3 L265.0 1404.5 L267.0 1404.5 L269.0 1404.5 L271.0 1404.4 L273.0 1404.3 L275.0 1404.1 L277.0 1403.9 L279.0 1403.6 L281.0 1403.2 L283.0 1402.8 L285.0 1402.3 L287.0 1401.8 L289.0 1401.3 L291.0 1400.7 L293.0 1400.1 L295.0 1399.4 L297.1 1398.7 L299.1 1398.0 L301.1 1397.2 L303.1 1396.5 L305.1 1395.7 L307.1 1394.9 L309.1 1394.1 L311.1 1393.2 L313.1 1392.4 L315.1 1391.6 L317.1 1390.8 L319.1 1390.0 L321.1 1389.2 L323.1 1388.4 L325.1 1387.7 L327.1 1386.9 L329.1 1386.2 L331.1 1385.5 L333.1 1384.9 L335.1 1384.2 L337.1 1383.6 L339.1 1383.0 L341.1 1382.4 L343.1 1381.8 L345.1 1381.3 L347.1 1380.7 L349.1 1380.1 L351.1 1379.4 L353.1 1378.8 L355.2 1378.2 L357.2 1377.5 L359.2 1376.8 L361.2 1376.1 L363.2 1375.3 L365.2 1374.5 L367.2 1373.6 L369.2 1372.7 L371.2 1371.8 L373.2 1370.8 L375.2 1369.8 L377.2 1368.8 L379.2 1367.7 L381.2 1366.6 L383.2 1365.5 L385.2 1364.3 L387.2 1363.1 L389.2 1361.9 L391.2 1360.7 L393.2 1359.4 L395.2 1358.1 L397.2 1356.8 L399.2 1355.5 L401.2 1354.1 L403.2 1352.7 L405.2 1351.4 L407.2 1350.0 L409.2 1348.5 L411.2 1347.1 L413.3 1345.7 L415.3 1344.2 L417.3 1342.8 L419.3 1341.3 L421.3 1339.8 L423.3 1338.4 L425.3 1336.9 L427.3 1335.4 L429.3 1333.9 L431.3 1332.4 L433.3 1331.0 L435.3 1329.5 L437.3 1328.1 L439.3 1326.7 L441.3 1325.3 L443.3 1323.9 L445.3 1322.6 L447.3 1321.3 L449.3 1320.1 L451.3 1318.9 L453.3 1317.7 L455.3 1316.5 L457.3 1315.4 L459.3 1314.3 L461.3 1313.2 L463.3 1312.1 L465.3 1311.1 L467.3 1310.1 L469.3 1309.0 L471.4 1308.0 L473.4 1307.0 L475.4 1306.0 L477.4 1305.1 L479.4 1304.1 L481.4 1303.1 L483.4 1302.1 L485.4 1301.2 L487.4 1300.2 L489.4 1299.3 L491.4 1298.4 L493.4 1297.5 L495.4 1296.6 L497.4 1295.8 L499.4 1294.9 L501.4 1294.2 L503.4 1293.4 L505.4 1292.7 L507.4 1292.0 L509.4 1291.4 L511.4 1290.8 L513.4 1290.2 L515.4 1289.7 L517.4 1289.3 L519.4 1288.9 L521.4 1288.6 L523.4 1288.3 L525.4 1288.1 L527.4 1287.9 L529.4 1287.8 L531.5 1287.8 L533.5 1287.9 L535.5 1288.0 L537.5 1288.2 L539.5 1288.5 L541.5 1288.9 L543.5 1289.3 L545.5 1289.7 L547.5 1290.3 L549.5 1290.9 L551.5 1291.5 L553.5 1292.2 L555.5 1292.9 L557.5 1293.7 L559.5 1294.6 L561.5 1295.4 L563.5 1296.3 L565.5 1297.3 L567.5 1298.3 L569.5 1299.3 L571.5 1300.3 L573.5 1301.4 L575.5 1302.5 L577.5 1303.6 L579.5 1304.7 L581.5 1305.9 L583.5 1307.0 L585.5 1308.2 L587.5 1309.4 L589.6 1310.6 L591.6 1311.7 L593.6 1312.9 L595.6 1314.1 L597.6 1315.3 L599.6 1316.5 L601.6 1317.6 L603.6 1318.8 L605.6 1319.9 L607.6 1321.0 L609.6 1322.1 L611.6 1323.1 L613.6 1324.2 L615.6 1325.2 L617.6 1326.2 L619.6 1327.1 L621.6 1328.0 L623.6 1328.9 L625.6 1329.7 L627.6 1330.5 L629.6 1331.2 L631.6 1331.9 L633.6 1332.6 L635.6 1333.1 L637.6 1333.7 L639.6 1334.1 L641.6 1334.5 L643.6 1334.9 L645.6 1335.1 L647.7 1335.3 L649.7 1335.5" fill="none" stroke="#000" stroke-width="2.0" stroke-dasharray="8.5 10.5" stroke-linecap="round"/>
<path d="M172.8 1380.5 L174.8 1381.3 L176.8 1382.1 L178.8 1383.1 L180.8 1384.0 L182.9 1385.1 L184.9 1386.2 L186.9 1387.3 L188.9 1388.4 L190.9 1389.6 L192.9 1390.8 L194.9 1392.1 L196.9 1393.3 L198.9 1394.6 L200.9 1395.8 L202.9 1397.1 L204.9 1398.3 L206.9 1399.6 L208.9 1400.8 L210.9 1401.9 L212.9 1403.1 L214.9 1404.2 L216.9 1405.3 L218.9 1406.4 L220.9 1407.5 L222.9 1408.5 L224.9 1409.5 L226.9 1410.5 L228.9 1411.4 L230.9 1412.3 L232.9 1413.2 L234.9 1414.0 L236.9 1414.9 L238.9 1415.6 L240.9 1416.4 L242.9 1417.1 L244.9 1417.8 L246.9 1418.4 L248.9 1419.0 L251.0 1419.6 L253.0 1420.1 L255.0 1420.6 L257.0 1421.1 L259.0 1421.5 L261.0 1421.8 L263.0 1422.2 L265.0 1422.4 L267.0 1422.7 L269.0 1422.8 L271.0 1423.0 L273.0 1423.0 L275.0 1423.1 L277.0 1423.0 L279.0 1423.0 L281.0 1422.8 L283.0 1422.6 L285.0 1422.4 L287.0 1422.1 L289.0 1421.7 L291.0 1421.4 L293.0 1420.9 L295.0 1420.5 L297.0 1420.0 L299.0 1419.5 L301.0 1419.0 L303.0 1418.4 L305.0 1417.9 L307.0 1417.3 L309.0 1416.8 L311.0 1416.2 L313.0 1415.6 L315.0 1415.1 L317.0 1414.6 L319.0 1414.0 L321.1 1413.5 L323.1 1413.1 L325.1 1412.6 L327.1 1412.2 L329.1 1411.7 L331.1 1411.3 L333.1 1410.9 L335.1 1410.5 L337.1 1410.1 L339.1 1409.7 L341.1 1409.3 L343.1 1408.8 L345.1 1408.4 L347.1 1408.0 L349.1 1407.6 L351.1 1407.2 L353.1 1406.7 L355.1 1406.3 L357.1 1405.8 L359.1 1405.3 L361.1 1404.8 L363.1 1404.3 L365.1 1403.7 L367.1 1403.2 L369.1 1402.6 L371.1 1401.9 L373.1 1401.3 L375.1 1400.6 L377.1 1399.8 L379.1 1399.1 L381.1 1398.3 L383.1 1397.4 L385.1 1396.5 L387.1 1395.6 L389.1 1394.6 L391.2 1393.6 L393.2 1392.5 L395.2 1391.4 L397.2 1390.2 L399.2 1389.0 L401.2 1387.8 L403.2 1386.6 L405.2 1385.3 L407.2 1384.0 L409.2 1382.7 L411.2 1381.3 L413.2 1380.0 L415.2 1378.7 L417.2 1377.4 L419.2 1376.1 L421.2 1374.8 L423.2 1373.5 L425.2 1372.2 L427.2 1371.0 L429.2 1369.8 L431.2 1368.6 L433.2 1367.4 L435.2 1366.3 L437.2 1365.2 L439.2 1364.1 L441.2 1363.0 L443.2 1362.0 L445.2 1360.9 L447.2 1360.0 L449.2 1359.0 L451.2 1358.1 L453.2 1357.2 L455.2 1356.3 L457.2 1355.4 L459.2 1354.6 L461.3 1353.8 L463.3 1353.0 L465.3 1352.3 L467.3 1351.6 L469.3 1350.9 L471.3 1350.3 L473.3 1349.6 L475.3 1349.1 L477.3 1348.5 L479.3 1348.0 L481.3 1347.5 L483.3 1347.0 L485.3 1346.6 L487.3 1346.2 L489.3 1345.9 L491.3 1345.5 L493.3 1345.2 L495.3 1345.0 L497.3 1344.8 L499.3 1344.6 L501.3 1344.4 L503.3 1344.3 L505.3 1344.2 L507.3 1344.2 L509.3 1344.2 L511.3 1344.2 L513.3 1344.3 L515.3 1344.4 L517.3 1344.6 L519.3 1344.9 L521.3 1345.2 L523.3 1345.6 L525.3 1346.0 L527.3 1346.5 L529.3 1347.2 L531.4 1347.8 L533.4 1348.6 L535.4 1349.5 L537.4 1350.4 L539.4 1351.5 L541.4 1352.6 L543.4 1353.8 L545.4 1355.1 L547.4 1356.4 L549.4 1357.8 L551.4 1359.3 L553.4 1360.9 L555.4 1362.5 L557.4 1364.2 L559.4 1365.9 L561.4 1367.7 L563.4 1369.5 L565.4 1371.4 L567.4 1373.3 L569.4 1375.3 L571.4 1377.3 L573.4 1379.4 L575.4 1381.5 L577.4 1383.7 L579.4 1385.9 L581.4 1388.2 L583.4 1390.6 L585.4 1393.0 L587.4 1395.4 L589.4 1397.9 L591.4 1400.5 L593.4 1403.2 L595.4 1405.9 L597.4 1408.6 L599.4 1411.4 L601.5 1414.3 L603.5 1417.3 L605.5 1420.3 L607.5 1423.3 L609.5 1426.5 L611.5 1429.7 L613.5 1432.9 L615.5 1436.3 L617.5 1439.7 L619.5 1443.2 L621.5 1446.7 L623.5 1450.3 L625.5 1454.0 L627.5 1457.8 L629.5 1461.6 L631.5 1465.5 L633.5 1469.5 L635.5 1473.6 L637.5 1477.7 L639.5 1481.9 L641.5 1486.2 L643.5 1490.6 L645.5 1495.0 L647.5 1499.6" fill="none" stroke="#000" stroke-width="2.0" stroke-dasharray="8.5 10.5" stroke-linecap="round"/>
<path d="M172.8 1366.0 L174.8 1367.5 L176.9 1369.0 L178.9 1370.5 L180.9 1372.0 L182.9 1373.5 L184.9 1375.0 L186.9 1376.5 L188.9 1378.0 L190.9 1379.4 L192.9 1380.9 L194.9 1382.3 L196.9 1383.7 L198.9 1385.2 L200.9 1386.5 L202.9 1387.9 L204.9 1389.3 L206.9 1390.6 L209.0 1391.9 L211.0 1393.2 L213.0 1394.4 L215.0 1395.7 L217.0 1396.9 L219.0 1398.0 L221.0 1399.2 L223.0 1400.3 L225.0 1401.3 L227.0 1402.3 L229.0 1403.3 L231.0 1404.3 L233.0 1405.2 L235.0 1406.0 L237.0 1406.8 L239.1 1407.6 L241.1 1408.3 L243.1 1409.0 L245.1 1409.6 L247.1 1410.2 L249.1 1410.7 L251.1 1411.2 L253.1 1411.6 L255.1 1412.0 L257.1 1412.3 L259.1 1412.6 L261.1 1412.8 L263.1 1413.0 L265.1 1413.1 L267.1 1413.2 L269.1 1413.2 L271.2 1413.2 L273.2 1413.2 L275.2 1413.1 L277.2 1412.9 L279.2 1412.7 L281.2 1412.5 L283.2 1412.2 L285.2 1411.8 L287.2 1411.4 L289.2 1411.0 L291.2 1410.5 L293.2 1410.0 L295.2 1409.5 L297.2 1408.9 L299.2 1408.3 L301.2 1407.6 L303.3 1407.0 L305.3 1406.3 L307.3 1405.6 L309.3 1405.0 L311.3 1404.3 L313.3 1403.6 L315.3 1402.9 L317.3 1402.2 L319.3 1401.5 L321.3 1400.9 L323.3 1400.2 L325.3 1399.6 L327.3 1399.1 L329.3 1398.5 L331.3 1398.0 L333.4 1397.5 L335.4 1397.1 L337.4 1396.6 L339.4 1396.2 L341.4 1395.9 L343.4 1395.5 L345.4 1395.1 L347.4 1394.7 L349.4 1394.3 L351.4 1393.8 L353.4 1393.4 L355.4 1392.9 L357.4 1392.3 L359.4 1391.7 L361.4 1391.1 L363.4 1390.3 L365.5 1389.6 L367.5 1388.8 L369.5 1387.9 L371.5 1387.0 L373.5 1386.0 L375.5 1385.0 L377.5 1384.0 L379.5 1382.9 L381.5 1381.8 L383.5 1380.6 L385.5 1379.4 L387.5 1378.2 L389.5 1377.0 L391.5 1375.7 L393.5 1374.5 L395.6 1373.2 L397.6 1371.9 L399.6 1370.5 L401.6 1369.2 L403.6 1367.8 L405.6 1366.5 L407.6 1365.1 L409.6 1363.7 L411.6 1362.4 L413.6 1361.0 L415.6 1359.7 L417.6 1358.3 L419.6 1357.0 L421.6 1355.6 L423.6 1354.3 L425.6 1353.0 L427.7 1351.7 L429.7 1350.4 L431.7 1349.1 L433.7 1347.9 L435.7 1346.6 L437.7 1345.4 L439.7 1344.2 L441.7 1343.0 L443.7 1341.8 L445.7 1340.6 L447.7 1339.5 L449.7 1338.3 L451.7 1337.2 L453.7 1336.1 L455.7 1335.0 L457.8 1334.0 L459.8 1333.0 L461.8 1332.0 L463.8 1331.0 L465.8 1330.0 L467.8 1329.1 L469.8 1328.2 L471.8 1327.3 L473.8 1326.4 L475.8 1325.6 L477.8 1324.8 L479.8 1324.0 L481.8 1323.3 L483.8 1322.6 L485.8 1321.9 L487.8 1321.3 L489.9 1320.6 L491.9 1320.1 L493.9 1319.5 L495.9 1319.0 L497.9 1318.6 L499.9 1318.2 L501.9 1317.8 L503.9 1317.5 L505.9 1317.2 L507.9 1316.9 L509.9 1316.7 L511.9 1316.6 L513.9 1316.5 L515.9 1316.4 L517.9 1316.5 L520.0 1316.5 L522.0 1316.6 L524.0 1316.8 L526.0 1317.0 L528.0 1317.3 L530.0 1317.7 L532.0 1318.1 L534.0 1318.5 L536.0 1319.1 L538.0 1319.7 L540.0 1320.3 L542.0 1321.0 L544.0 1321.8 L546.0 1322.6 L548.0 1323.5 L550.0 1324.5 L552.1 1325.5 L554.1 1326.5 L556.1 1327.6 L558.1 1328.8 L560.1 1330.0 L562.1 1331.2 L564.1 1332.5 L566.1 1333.9 L568.1 1335.3 L570.1 1336.7 L572.1 1338.2 L574.1 1339.7 L576.1 1341.3 L578.1 1342.9 L580.1 1344.6 L582.1 1346.2 L584.2 1348.0 L586.2 1349.7 L588.2 1351.6 L590.2 1353.4 L592.2 1355.3 L594.2 1357.2 L596.2 1359.1 L598.2 1361.1 L600.2 1363.1 L602.2 1365.1 L604.2 1367.2 L606.2 1369.3 L608.2 1371.4 L610.2 1373.5 L612.2 1375.7 L614.3 1377.9 L616.3 1380.1 L618.3 1382.3 L620.3 1384.6 L622.3 1386.9 L624.3 1389.2 L626.3 1391.5 L628.3 1393.8 L630.3 1396.1 L632.3 1398.5 L634.3 1400.9 L636.3 1403.2 L638.3 1405.6 L640.3 1408.0 L642.3 1410.4 L644.3 1412.9 L646.4 1415.3 L648.4 1417.7 L650.4 1420.2" fill="none" stroke="#000" stroke-width="2.1" stroke-linejoin="round"/>
<path d="M720.9 1417.0 V1573.5 H1237.6 V1256.8 H720.9 M720.9 1256.8 V1351.0" fill="none" stroke="#000" stroke-width="2.40" stroke-linecap="square"/>
<line x1="721.5" y1="1351.0" x2="721.5" y2="1417.0" stroke="#222" stroke-width="1.4"/>
<line x1="715.1" y1="1270.9" x2="720.9" y2="1270.9" stroke="#000" stroke-width="1.60"/>
<line x1="715.1" y1="1329.2" x2="720.9" y2="1329.2" stroke="#000" stroke-width="1.60"/>
<line x1="715.1" y1="1387.4" x2="720.9" y2="1387.4" stroke="#000" stroke-width="1.60"/>
<line x1="715.1" y1="1445.7" x2="720.9" y2="1445.7" stroke="#000" stroke-width="1.60"/>
<line x1="715.1" y1="1503.9" x2="720.9" y2="1503.9" stroke="#000" stroke-width="1.60"/>
<line x1="715.1" y1="1562.2" x2="720.9" y2="1562.2" stroke="#000" stroke-width="1.60"/>
<line x1="739.9" y1="1563.5" x2="739.9" y2="1573.5" stroke="#000" stroke-width="1.50"/>
<line x1="793.0" y1="1563.5" x2="793.0" y2="1579.5" stroke="#000" stroke-width="1.50"/>
<line x1="846.1" y1="1563.5" x2="846.1" y2="1573.5" stroke="#000" stroke-width="1.50"/>
<line x1="899.2" y1="1563.5" x2="899.2" y2="1579.5" stroke="#000" stroke-width="1.50"/>
<line x1="952.3" y1="1563.5" x2="952.3" y2="1573.5" stroke="#000" stroke-width="1.50"/>
<line x1="1005.4" y1="1563.5" x2="1005.4" y2="1579.5" stroke="#000" stroke-width="1.50"/>
<line x1="1058.5" y1="1563.5" x2="1058.5" y2="1573.5" stroke="#000" stroke-width="1.50"/>
<line x1="1111.6" y1="1563.5" x2="1111.6" y2="1579.5" stroke="#000" stroke-width="1.50"/>
<line x1="1164.7" y1="1563.5" x2="1164.7" y2="1573.5" stroke="#000" stroke-width="1.50"/>
<line x1="1217.8" y1="1563.5" x2="1217.8" y2="1579.5" stroke="#000" stroke-width="1.50"/>
<text transform="translate(780.99 1606.90) scale(0.8947 1)" font-size="26.00">Feb</text>
<text transform="translate(894.45 1606.90) scale(0.9705 1)" font-size="26.00">Apr</text>
<text transform="translate(1006.92 1606.90) scale(0.9441 1)" font-size="26.00">Jun</text>
<text transform="translate(1112.15 1606.90) scale(0.9790 1)" font-size="26.00">Aug</text>
<text transform="translate(1208.01 1606.90) scale(0.9635 1)" font-size="26.00">Oct</text>
<text transform="translate(766.53 1294.20) scale(0.9644 1)" font-size="15.90">18:00 - 00:00</text>
<path d="M740.0 1355.7 L742.0 1358.8 L744.0 1361.8 L746.0 1364.6 L748.0 1367.4 L750.0 1370.0 L752.0 1372.5 L754.0 1374.9 L756.0 1377.3 L758.0 1379.5 L760.0 1381.7 L762.0 1383.8 L764.0 1385.9 L766.0 1387.8 L768.0 1389.8 L770.0 1391.6 L772.0 1393.5 L774.0 1395.2 L776.0 1397.0 L778.0 1398.6 L780.0 1400.2 L782.0 1401.8 L784.0 1403.3 L786.0 1404.8 L788.0 1406.2 L790.0 1407.5 L792.0 1408.8 L794.0 1410.0 L796.0 1411.2 L798.0 1412.3 L800.0 1413.3 L802.0 1414.3 L804.0 1415.2 L806.0 1416.1 L808.0 1416.9 L810.0 1417.6 L812.0 1418.3 L814.0 1418.8 L816.0 1419.3 L818.0 1419.7 L820.0 1420.1 L822.0 1420.3 L824.0 1420.5 L826.0 1420.6 L828.0 1420.5 L830.0 1420.4 L832.0 1420.2 L834.0 1419.9 L836.0 1419.5 L838.0 1419.0 L840.0 1418.5 L842.0 1417.9 L844.0 1417.3 L846.0 1416.7 L848.0 1416.0 L850.0 1415.3 L852.0 1414.6 L854.0 1413.7 L856.0 1412.8 L858.0 1411.8 L860.0 1410.7 L862.0 1409.4 L864.0 1408.1 L866.0 1406.6 L868.0 1405.0 L870.0 1403.3 L872.0 1401.5 L874.0 1399.6 L876.0 1397.6 L878.0 1395.5 L880.0 1393.3 L882.0 1391.0 L884.0 1388.6 L886.1 1386.2 L888.1 1383.6 L890.1 1381.0 L892.1 1378.3 L894.1 1375.5 L896.1 1372.6 L898.1 1369.7 L900.1 1366.7 L902.1 1363.6 L904.1 1360.5 L906.1 1357.4 L908.1 1354.2 L910.1 1351.0 L912.1 1347.8 L914.1 1344.6 L916.1 1341.4 L918.1 1338.2 L920.1 1334.9 L922.1 1331.5 L924.1 1328.0 L926.1 1324.5 L928.1 1321.0 L930.1 1317.5 L932.1 1314.1 L934.1 1310.7 L936.1 1307.4 L938.1 1304.3 L940.1 1301.3 L942.1 1298.6 L944.1 1296.0 L946.1 1293.7 L948.1 1291.6 L950.1 1289.7 L952.1 1288.0 L954.1 1286.5 L956.1 1285.2 L958.1 1284.0 L960.1 1283.1 L962.1 1282.2 L964.1 1281.5 L966.1 1281.0 L968.1 1280.6 L970.1 1280.3 L972.1 1280.1 L974.1 1280.0 L976.1 1279.9 L978.1 1280.0 L980.1 1280.1 L982.1 1280.3 L984.1 1280.6 L986.1 1280.9 L988.1 1281.3 L990.1 1281.7 L992.1 1282.2 L994.1 1282.8 L996.1 1283.3 L998.1 1284.0 L1000.1 1284.6 L1002.1 1285.3 L1004.1 1286.0 L1006.1 1286.7 L1008.1 1287.5 L1010.1 1288.3 L1012.1 1289.1 L1014.1 1289.8 L1016.1 1290.6 L1018.1 1291.4 L1020.1 1292.1 L1022.1 1292.7 L1024.1 1293.3 L1026.1 1293.8 L1028.1 1294.2 L1030.1 1294.6 L1032.1 1294.8 L1034.1 1295.0 L1036.1 1295.1 L1038.1 1295.2 L1040.1 1295.1 L1042.1 1295.0 L1044.1 1294.8 L1046.1 1294.5 L1048.1 1294.2 L1050.1 1293.8 L1052.1 1293.4 L1054.1 1292.9 L1056.1 1292.3 L1058.1 1291.7 L1060.1 1291.0 L1062.1 1290.3 L1064.1 1289.5 L1066.1 1288.7 L1068.1 1287.8 L1070.1 1286.9 L1072.1 1285.9 L1074.1 1284.9 L1076.1 1283.9 L1078.1 1282.8 L1080.1 1281.7 L1082.1 1280.6 L1084.2 1279.4 L1086.2 1278.2 L1088.2 1277.0 L1090.2 1275.9 L1092.2 1274.7 L1094.2 1273.6 L1096.2 1272.6 L1098.2 1271.6 L1100.2 1270.8 L1102.2 1270.0 L1104.2 1269.3 L1106.2 1268.8 L1108.2 1268.4 L1110.2 1268.2 L1112.2 1268.2 L1114.2 1268.3 L1116.2 1268.5 L1118.2 1269.0 L1120.2 1269.5 L1122.2 1270.2 L1124.2 1271.1 L1126.2 1272.0 L1128.2 1273.1 L1130.2 1274.3 L1132.2 1275.5 L1134.2 1276.9 L1136.2 1278.3 L1138.2 1279.8 L1140.2 1281.4 L1142.2 1283.0 L1144.2 1284.7 L1146.2 1286.4 L1148.2 1288.1 L1150.2 1289.9 L1152.2 1291.7 L1154.2 1293.5 L1156.2 1295.2 L1158.2 1297.0 L1160.2 1298.7 L1162.2 1300.5 L1164.2 1302.1 L1166.2 1303.8 L1168.2 1305.4 L1170.2 1306.9 L1172.2 1308.4 L1174.2 1309.8 L1176.2 1311.1 L1178.2 1312.4 L1180.2 1313.6 L1182.2 1314.8 L1184.2 1315.8 L1186.2 1316.8 L1188.2 1317.7 L1190.2 1318.4 L1192.2 1319.1 L1194.2 1319.7 L1196.2 1320.2 L1198.2 1320.5 L1200.2 1320.8 L1202.2 1320.9 L1204.2 1320.9 L1206.2 1320.8 L1208.2 1320.5 L1210.2 1320.1 L1212.2 1319.6 L1214.2 1318.9 L1216.2 1318.1 L1218.2 1317.1" fill="none" stroke="#000" stroke-width="2.0" stroke-dasharray="8.5 10.5" stroke-linecap="round"/>
<path d="M740.0 1386.3 L742.0 1387.3 L744.0 1388.5 L746.0 1389.8 L748.0 1391.3 L750.0 1392.9 L752.0 1394.5 L754.0 1396.3 L756.0 1398.1 L758.0 1400.0 L760.0 1401.9 L762.0 1403.9 L764.0 1405.8 L766.0 1407.7 L768.0 1409.7 L770.0 1411.5 L772.0 1413.4 L774.0 1415.1 L776.0 1416.8 L778.0 1418.4 L780.0 1419.9 L782.0 1421.4 L784.0 1422.8 L786.0 1424.1 L788.0 1425.4 L790.0 1426.6 L792.0 1427.8 L794.0 1428.9 L796.0 1429.9 L798.0 1430.9 L800.0 1431.8 L802.0 1432.7 L804.0 1433.5 L806.0 1434.3 L808.0 1435.1 L810.0 1435.7 L812.0 1436.4 L814.0 1436.9 L816.0 1437.4 L818.0 1437.9 L820.0 1438.3 L822.0 1438.6 L824.0 1438.9 L826.0 1439.1 L828.0 1439.3 L830.0 1439.4 L832.0 1439.4 L834.0 1439.4 L836.0 1439.2 L838.0 1439.1 L840.0 1438.8 L842.0 1438.5 L844.0 1438.1 L846.0 1437.6 L848.0 1437.1 L850.0 1436.5 L852.0 1435.8 L854.0 1435.0 L856.0 1434.1 L858.0 1433.2 L860.0 1432.2 L862.0 1431.1 L864.0 1429.9 L866.0 1428.7 L868.0 1427.4 L870.0 1426.0 L872.0 1424.6 L874.0 1423.1 L876.0 1421.5 L878.0 1419.9 L880.0 1418.2 L882.0 1416.4 L884.0 1414.6 L886.1 1412.7 L888.1 1410.6 L890.1 1408.5 L892.1 1406.2 L894.1 1403.7 L896.1 1401.1 L898.1 1398.4 L900.1 1395.7 L902.1 1392.8 L904.1 1389.9 L906.1 1387.0 L908.1 1384.0 L910.1 1381.0 L912.1 1377.9 L914.1 1374.9 L916.1 1371.8 L918.1 1368.8 L920.1 1365.8 L922.1 1362.8 L924.1 1359.8 L926.1 1356.8 L928.1 1354.0 L930.1 1351.1 L932.1 1348.4 L934.1 1345.7 L936.1 1343.0 L938.1 1340.5 L940.1 1338.1 L942.1 1335.8 L944.1 1333.6 L946.1 1331.5 L948.1 1329.6 L950.1 1327.8 L952.1 1326.1 L954.1 1324.6 L956.1 1323.3 L958.1 1322.1 L960.1 1321.1 L962.1 1320.3 L964.1 1319.6 L966.1 1319.0 L968.1 1318.6 L970.1 1318.4 L972.1 1318.2 L974.1 1318.2 L976.1 1318.3 L978.1 1318.6 L980.1 1318.9 L982.1 1319.4 L984.1 1320.0 L986.1 1320.7 L988.1 1321.4 L990.1 1322.3 L992.1 1323.2 L994.1 1324.2 L996.1 1325.2 L998.1 1326.2 L1000.1 1327.3 L1002.1 1328.3 L1004.1 1329.4 L1006.1 1330.4 L1008.1 1331.5 L1010.1 1332.5 L1012.1 1333.4 L1014.1 1334.3 L1016.1 1335.1 L1018.1 1335.9 L1020.1 1336.6 L1022.1 1337.2 L1024.1 1337.9 L1026.1 1338.5 L1028.1 1339.1 L1030.1 1339.6 L1032.1 1340.2 L1034.1 1340.8 L1036.1 1341.3 L1038.1 1341.8 L1040.1 1342.3 L1042.1 1342.7 L1044.1 1343.1 L1046.1 1343.5 L1048.1 1343.8 L1050.1 1344.0 L1052.1 1344.3 L1054.1 1344.4 L1056.1 1344.5 L1058.1 1344.5 L1060.1 1344.5 L1062.1 1344.3 L1064.1 1344.1 L1066.1 1343.8 L1068.1 1343.4 L1070.1 1343.0 L1072.1 1342.5 L1074.1 1342.0 L1076.1 1341.5 L1078.1 1341.0 L1080.1 1340.5 L1082.1 1340.0 L1084.2 1339.6 L1086.2 1339.3 L1088.2 1339.0 L1090.2 1338.9 L1092.2 1338.9 L1094.2 1339.0 L1096.2 1339.3 L1098.2 1339.7 L1100.2 1340.2 L1102.2 1340.8 L1104.2 1341.4 L1106.2 1342.1 L1108.2 1342.9 L1110.2 1343.6 L1112.2 1344.4 L1114.2 1345.3 L1116.2 1346.2 L1118.2 1347.2 L1120.2 1348.3 L1122.2 1349.6 L1124.2 1350.9 L1126.2 1352.4 L1128.2 1354.1 L1130.2 1355.9 L1132.2 1357.9 L1134.2 1360.1 L1136.2 1362.5 L1138.2 1364.9 L1140.2 1367.5 L1142.2 1370.0 L1144.2 1372.6 L1146.2 1375.3 L1148.2 1378.0 L1150.2 1380.7 L1152.2 1383.5 L1154.2 1386.3 L1156.2 1389.1 L1158.2 1392.0 L1160.2 1394.9 L1162.2 1397.9 L1164.2 1400.9 L1166.2 1404.0 L1168.2 1407.1 L1170.2 1410.3 L1172.2 1413.5 L1174.2 1416.8 L1176.2 1420.1 L1178.2 1423.5 L1180.2 1427.1 L1182.2 1430.7 L1184.2 1434.4 L1186.2 1438.2 L1188.2 1442.2 L1190.2 1446.3 L1192.2 1450.6 L1194.2 1455.0 L1196.2 1459.6 L1198.2 1464.2 L1200.2 1468.9 L1202.2 1473.7 L1204.2 1478.5 L1206.2 1483.4 L1208.2 1488.4 L1210.2 1493.5 L1212.2 1498.7 L1214.2 1504.0 L1216.2 1509.5 L1218.2 1515.0" fill="none" stroke="#000" stroke-width="2.0" stroke-dasharray="8.5 10.5" stroke-linecap="round"/>
<path d="M740.7 1371.6 L742.7 1373.7 L744.7 1375.8 L746.7 1377.9 L748.7 1380.0 L750.7 1382.0 L752.7 1384.1 L754.7 1386.1 L756.7 1388.1 L758.7 1390.1 L760.8 1392.0 L762.8 1393.9 L764.8 1395.8 L766.8 1397.7 L768.8 1399.5 L770.8 1401.3 L772.8 1403.1 L774.8 1404.8 L776.8 1406.5 L778.8 1408.1 L780.8 1409.7 L782.8 1411.3 L784.8 1412.8 L786.8 1414.3 L788.8 1415.7 L790.8 1417.0 L792.9 1418.3 L794.9 1419.5 L796.9 1420.7 L798.9 1421.8 L800.9 1422.9 L802.9 1423.9 L804.9 1424.8 L806.9 1425.6 L808.9 1426.4 L810.9 1427.1 L812.9 1427.7 L814.9 1428.3 L816.9 1428.8 L818.9 1429.2 L820.9 1429.5 L823.0 1429.8 L825.0 1430.0 L827.0 1430.1 L829.0 1430.1 L831.0 1430.1 L833.0 1430.0 L835.0 1429.8 L837.0 1429.5 L839.0 1429.2 L841.0 1428.8 L843.0 1428.3 L845.0 1427.7 L847.0 1427.1 L849.0 1426.3 L851.0 1425.5 L853.0 1424.6 L855.1 1423.7 L857.1 1422.6 L859.1 1421.5 L861.1 1420.3 L863.1 1419.0 L865.1 1417.7 L867.1 1416.3 L869.1 1414.8 L871.1 1413.2 L873.1 1411.5 L875.1 1409.8 L877.1 1407.9 L879.1 1406.0 L881.1 1404.1 L883.1 1402.0 L885.2 1399.9 L887.2 1397.7 L889.2 1395.4 L891.2 1393.1 L893.2 1390.7 L895.2 1388.2 L897.2 1385.6 L899.2 1383.0 L901.2 1380.3 L903.2 1377.5 L905.2 1374.6 L907.2 1371.7 L909.2 1368.7 L911.2 1365.6 L913.2 1362.5 L915.2 1359.3 L917.3 1356.1 L919.3 1352.9 L921.3 1349.7 L923.3 1346.5 L925.3 1343.4 L927.3 1340.2 L929.3 1337.2 L931.3 1334.1 L933.3 1331.2 L935.3 1328.3 L937.3 1325.6 L939.3 1322.9 L941.3 1320.4 L943.3 1318.0 L945.3 1315.8 L947.4 1313.7 L949.4 1311.7 L951.4 1309.9 L953.4 1308.2 L955.4 1306.6 L957.4 1305.2 L959.4 1304.0 L961.4 1302.9 L963.4 1301.9 L965.4 1301.1 L967.4 1300.4 L969.4 1299.9 L971.4 1299.6 L973.4 1299.4 L975.4 1299.3 L977.4 1299.4 L979.5 1299.6 L981.5 1299.9 L983.5 1300.3 L985.5 1300.8 L987.5 1301.4 L989.5 1302.1 L991.5 1302.9 L993.5 1303.7 L995.5 1304.5 L997.5 1305.4 L999.5 1306.4 L1001.5 1307.3 L1003.5 1308.3 L1005.5 1309.2 L1007.5 1310.2 L1009.6 1311.1 L1011.6 1312.0 L1013.6 1312.8 L1015.6 1313.7 L1017.6 1314.4 L1019.6 1315.1 L1021.6 1315.8 L1023.6 1316.4 L1025.6 1316.9 L1027.6 1317.4 L1029.6 1317.9 L1031.6 1318.3 L1033.6 1318.6 L1035.6 1318.9 L1037.6 1319.1 L1039.6 1319.2 L1041.7 1319.3 L1043.7 1319.4 L1045.7 1319.4 L1047.7 1319.3 L1049.7 1319.1 L1051.7 1318.9 L1053.7 1318.6 L1055.7 1318.3 L1057.7 1317.9 L1059.7 1317.4 L1061.7 1316.9 L1063.7 1316.4 L1065.7 1315.8 L1067.7 1315.1 L1069.7 1314.5 L1071.7 1313.8 L1073.8 1313.1 L1075.8 1312.4 L1077.8 1311.7 L1079.8 1311.0 L1081.8 1310.3 L1083.8 1309.6 L1085.8 1309.0 L1087.8 1308.4 L1089.8 1307.8 L1091.8 1307.3 L1093.8 1306.9 L1095.8 1306.5 L1097.8 1306.1 L1099.8 1305.9 L1101.8 1305.7 L1103.9 1305.6 L1105.9 1305.6 L1107.9 1305.7 L1109.9 1305.8 L1111.9 1306.1 L1113.9 1306.5 L1115.9 1307.0 L1117.9 1307.7 L1119.9 1308.4 L1121.9 1309.3 L1123.9 1310.3 L1125.9 1311.4 L1127.9 1312.6 L1129.9 1313.9 L1131.9 1315.3 L1133.9 1316.8 L1136.0 1318.4 L1138.0 1320.1 L1140.0 1321.9 L1142.0 1323.7 L1144.0 1325.6 L1146.0 1327.6 L1148.0 1329.6 L1150.0 1331.7 L1152.0 1333.9 L1154.0 1336.1 L1156.0 1338.4 L1158.0 1340.7 L1160.0 1343.0 L1162.0 1345.4 L1164.0 1347.8 L1166.1 1350.3 L1168.1 1352.7 L1170.1 1355.2 L1172.1 1357.7 L1174.1 1360.2 L1176.1 1362.8 L1178.1 1365.3 L1180.1 1367.8 L1182.1 1370.3 L1184.1 1372.9 L1186.1 1375.4 L1188.1 1377.9 L1190.1 1380.3 L1192.1 1382.8 L1194.1 1385.3 L1196.1 1387.8 L1198.2 1390.3 L1200.2 1392.8 L1202.2 1395.3 L1204.2 1397.8 L1206.2 1400.3 L1208.2 1402.8 L1210.2 1405.4 L1212.2 1407.9 L1214.2 1410.5 L1216.2 1413.1 L1218.2 1415.8" fill="none" stroke="#000" stroke-width="2.1" stroke-linejoin="round"/>
<path d="M153.3 1681.3 H664.2 V1846.0 M664.2 1910.5 V1994.6 H153.3 V1681.3" fill="none" stroke="#000" stroke-width="2.40" stroke-linecap="square"/>
<line x1="663.7" y1="1846.0" x2="663.7" y2="1910.5" stroke="#222" stroke-width="1.4"/>
<line x1="147.5" y1="1698.8" x2="153.3" y2="1698.8" stroke="#000" stroke-width="1.60"/>
<line x1="147.5" y1="1756.0" x2="153.3" y2="1756.0" stroke="#000" stroke-width="1.60"/>
<line x1="147.5" y1="1813.2" x2="153.3" y2="1813.2" stroke="#000" stroke-width="1.60"/>
<line x1="147.5" y1="1870.4" x2="153.3" y2="1870.4" stroke="#000" stroke-width="1.60"/>
<line x1="147.5" y1="1927.6" x2="153.3" y2="1927.6" stroke="#000" stroke-width="1.60"/>
<line x1="147.5" y1="1984.8" x2="153.3" y2="1984.8" stroke="#000" stroke-width="1.60"/>
<line x1="172.2" y1="1984.6" x2="172.2" y2="1994.6" stroke="#000" stroke-width="1.50"/>
<line x1="224.7" y1="1984.6" x2="224.7" y2="2000.6" stroke="#000" stroke-width="1.50"/>
<line x1="277.3" y1="1984.6" x2="277.3" y2="1994.6" stroke="#000" stroke-width="1.50"/>
<line x1="329.8" y1="1984.6" x2="329.8" y2="2000.6" stroke="#000" stroke-width="1.50"/>
<line x1="382.4" y1="1984.6" x2="382.4" y2="1994.6" stroke="#000" stroke-width="1.50"/>
<line x1="434.9" y1="1984.6" x2="434.9" y2="2000.6" stroke="#000" stroke-width="1.50"/>
<line x1="487.4" y1="1984.6" x2="487.4" y2="1994.6" stroke="#000" stroke-width="1.50"/>
<line x1="540.0" y1="1984.6" x2="540.0" y2="2000.6" stroke="#000" stroke-width="1.50"/>
<line x1="592.5" y1="1984.6" x2="592.5" y2="1994.6" stroke="#000" stroke-width="1.50"/>
<line x1="645.1" y1="1984.6" x2="645.1" y2="2000.6" stroke="#000" stroke-width="1.50"/>
<text transform="translate(124.14 1703.83) scale(1.0600 1)" font-size="15.00">60</text>
<text transform="translate(124.14 1761.23) scale(1.0600 1)" font-size="15.00">40</text>
<text transform="translate(124.14 1813.93) scale(1.0600 1)" font-size="15.00">20</text>
<text transform="translate(132.98 1874.63) scale(1.0600 1)" font-size="15.00">0</text>
<text transform="translate(118.84 1933.33) scale(1.0600 1)" font-size="15.00">-20</text>
<text transform="translate(118.84 1990.83) scale(1.0600 1)" font-size="15.00">-40</text>
<text transform="translate(204.97 2036.90) scale(0.9043 1)" font-size="26.00">Feb</text>
<text transform="translate(318.55 2036.90) scale(0.9405 1)" font-size="26.00">Apr</text>
<text transform="translate(430.22 2036.90) scale(0.9341 1)" font-size="26.00">Jun</text>
<text transform="translate(534.25 2036.90) scale(0.9610 1)" font-size="26.00">Aug</text>
<text transform="translate(628.91 2036.90) scale(0.9635 1)" font-size="26.00">Oct</text>
<text transform="translate(205.50 1720.10) scale(0.9712 1)" font-size="15.90">00:00 - 06:00</text>
<path d="M171.4 1874.5 L173.4 1874.3 L175.4 1874.0 L177.4 1873.6 L179.4 1873.1 L181.4 1872.5 L183.4 1871.8 L185.4 1871.1 L187.4 1870.3 L189.4 1869.4 L191.4 1868.5 L193.4 1867.6 L195.4 1866.5 L197.4 1865.5 L199.4 1864.4 L201.4 1863.2 L203.4 1862.1 L205.4 1860.8 L207.4 1859.6 L209.4 1858.4 L211.4 1857.1 L213.4 1855.8 L215.5 1854.4 L217.5 1853.1 L219.5 1851.8 L221.5 1850.4 L223.5 1849.1 L225.5 1847.7 L227.5 1846.4 L229.5 1845.0 L231.5 1843.7 L233.5 1842.4 L235.5 1841.1 L237.5 1839.8 L239.5 1838.6 L241.5 1837.4 L243.5 1836.2 L245.5 1835.1 L247.5 1834.0 L249.5 1832.9 L251.5 1832.0 L253.5 1831.0 L255.5 1830.2 L257.5 1829.4 L259.5 1828.7 L261.5 1828.0 L263.5 1827.4 L265.5 1826.9 L267.5 1826.5 L269.5 1826.2 L271.5 1825.9 L273.5 1825.7 L275.5 1825.6 L277.5 1825.6 L279.5 1825.6 L281.5 1825.7 L283.5 1825.9 L285.5 1826.2 L287.5 1826.6 L289.5 1827.1 L291.5 1827.6 L293.5 1828.2 L295.5 1828.9 L297.5 1829.7 L299.5 1830.5 L301.5 1831.4 L303.5 1832.4 L305.5 1833.4 L307.5 1834.4 L309.5 1835.4 L311.5 1836.5 L313.5 1837.6 L315.5 1838.7 L317.5 1839.7 L319.5 1840.8 L321.5 1841.8 L323.5 1842.9 L325.5 1843.9 L327.5 1844.9 L329.5 1845.8 L331.6 1846.7 L333.6 1847.6 L335.6 1848.5 L337.6 1849.3 L339.6 1850.1 L341.6 1850.8 L343.6 1851.6 L345.6 1852.3 L347.6 1853.0 L349.6 1853.7 L351.6 1854.4 L353.6 1855.0 L355.6 1855.7 L357.6 1856.3 L359.6 1857.0 L361.6 1857.6 L363.6 1858.3 L365.6 1858.9 L367.6 1859.6 L369.6 1860.3 L371.6 1860.9 L373.6 1861.6 L375.6 1862.3 L377.6 1863.0 L379.6 1863.6 L381.6 1864.3 L383.6 1865.0 L385.6 1865.7 L387.6 1866.4 L389.6 1867.1 L391.6 1867.9 L393.6 1868.6 L395.6 1869.3 L397.6 1870.0 L399.6 1870.7 L401.6 1871.5 L403.6 1872.2 L405.6 1873.0 L407.6 1873.7 L409.6 1874.4 L411.6 1875.2 L413.6 1876.0 L415.6 1876.7 L417.6 1877.5 L419.6 1878.3 L421.6 1879.0 L423.6 1879.8 L425.6 1880.6 L427.6 1881.4 L429.6 1882.2 L431.6 1882.9 L433.6 1883.7 L435.6 1884.5 L437.6 1885.3 L439.6 1886.1 L441.6 1886.9 L443.6 1887.7 L445.6 1888.5 L447.7 1889.3 L449.7 1890.1 L451.7 1890.9 L453.7 1891.6 L455.7 1892.3 L457.7 1893.1 L459.7 1893.8 L461.7 1894.4 L463.7 1895.1 L465.7 1895.7 L467.7 1896.4 L469.7 1896.9 L471.7 1897.5 L473.7 1898.0 L475.7 1898.5 L477.7 1898.9 L479.7 1899.3 L481.7 1899.7 L483.7 1900.0 L485.7 1900.3 L487.7 1900.6 L489.7 1900.8 L491.7 1900.9 L493.7 1901.0 L495.7 1901.0 L497.7 1901.0 L499.7 1900.9 L501.7 1900.8 L503.7 1900.6 L505.7 1900.3 L507.7 1900.0 L509.7 1899.6 L511.7 1899.2 L513.7 1898.7 L515.7 1898.1 L517.7 1897.5 L519.7 1896.9 L521.7 1896.2 L523.7 1895.4 L525.7 1894.7 L527.7 1893.9 L529.7 1893.0 L531.7 1892.2 L533.7 1891.3 L535.7 1890.4 L537.7 1889.4 L539.7 1888.4 L541.7 1887.4 L543.7 1886.3 L545.7 1885.1 L547.7 1884.0 L549.7 1882.7 L551.7 1881.4 L553.7 1880.1 L555.7 1878.6 L557.7 1877.2 L559.7 1875.6 L561.7 1874.0 L563.8 1872.3 L565.8 1870.5 L567.8 1868.7 L569.8 1866.8 L571.8 1864.8 L573.8 1862.8 L575.8 1860.7 L577.8 1858.6 L579.8 1856.5 L581.8 1854.3 L583.8 1852.1 L585.8 1849.8 L587.8 1847.6 L589.8 1845.3 L591.8 1843.0 L593.8 1840.7 L595.8 1838.3 L597.8 1835.9 L599.8 1833.4 L601.8 1830.8 L603.8 1828.2 L605.8 1825.5 L607.8 1822.8 L609.8 1819.9 L611.8 1817.0 L613.8 1813.9 L615.8 1810.7 L617.8 1807.5 L619.8 1804.2 L621.8 1800.7 L623.8 1797.2 L625.8 1793.6 L627.8 1789.9 L629.8 1786.2 L631.8 1782.4 L633.8 1778.5 L635.8 1774.5 L637.8 1770.5 L639.8 1766.5 L641.8 1762.5" fill="none" stroke="#000" stroke-width="2.0" stroke-dasharray="8.5 10.5" stroke-linecap="round"/>
<path d="M171.4 1916.9 L173.4 1914.6 L175.4 1912.4 L177.4 1910.2 L179.4 1908.2 L181.4 1906.1 L183.4 1904.2 L185.4 1902.3 L187.4 1900.5 L189.4 1898.7 L191.4 1896.9 L193.4 1895.2 L195.4 1893.6 L197.4 1892.0 L199.4 1890.4 L201.4 1888.8 L203.4 1887.3 L205.4 1885.8 L207.4 1884.3 L209.4 1882.9 L211.4 1881.4 L213.4 1879.9 L215.4 1878.5 L217.4 1877.1 L219.4 1875.6 L221.4 1874.1 L223.4 1872.7 L225.4 1871.3 L227.4 1869.8 L229.4 1868.4 L231.4 1867.0 L233.4 1865.7 L235.4 1864.4 L237.5 1863.1 L239.5 1861.8 L241.5 1860.6 L243.5 1859.5 L245.5 1858.4 L247.5 1857.3 L249.5 1856.4 L251.5 1855.4 L253.5 1854.6 L255.5 1853.8 L257.5 1853.2 L259.5 1852.5 L261.5 1852.0 L263.5 1851.6 L265.5 1851.2 L267.5 1850.9 L269.5 1850.7 L271.5 1850.6 L273.5 1850.6 L275.5 1850.7 L277.5 1850.8 L279.5 1851.1 L281.5 1851.5 L283.5 1851.9 L285.5 1852.5 L287.5 1853.1 L289.5 1853.9 L291.5 1854.7 L293.5 1855.7 L295.5 1856.7 L297.5 1857.7 L299.5 1858.9 L301.5 1860.0 L303.5 1861.3 L305.5 1862.6 L307.5 1863.9 L309.5 1865.2 L311.5 1866.6 L313.5 1868.0 L315.5 1869.4 L317.5 1870.8 L319.5 1872.2 L321.5 1873.7 L323.5 1875.1 L325.5 1876.5 L327.5 1877.9 L329.5 1879.3 L331.5 1880.6 L333.5 1882.0 L335.5 1883.3 L337.5 1884.7 L339.5 1886.0 L341.5 1887.3 L343.5 1888.5 L345.5 1889.7 L347.5 1891.0 L349.5 1892.1 L351.5 1893.3 L353.5 1894.4 L355.5 1895.5 L357.5 1896.5 L359.5 1897.5 L361.5 1898.6 L363.5 1899.5 L365.5 1900.5 L367.5 1901.5 L369.5 1902.4 L371.5 1903.3 L373.5 1904.2 L375.5 1905.2 L377.5 1906.1 L379.5 1907.0 L381.5 1907.8 L383.5 1908.7 L385.5 1909.6 L387.5 1910.5 L389.5 1911.4 L391.5 1912.3 L393.5 1913.3 L395.5 1914.2 L397.5 1915.1 L399.5 1916.1 L401.5 1917.1 L403.5 1918.1 L405.5 1919.1 L407.5 1920.1 L409.5 1921.2 L411.5 1922.2 L413.6 1923.3 L415.6 1924.4 L417.6 1925.5 L419.6 1926.7 L421.6 1927.8 L423.6 1928.9 L425.6 1930.1 L427.6 1931.2 L429.6 1932.4 L431.6 1933.6 L433.6 1934.8 L435.6 1935.9 L437.6 1937.1 L439.6 1938.3 L441.6 1939.5 L443.6 1940.7 L445.6 1941.9 L447.6 1943.1 L449.6 1944.2 L451.6 1945.4 L453.6 1946.6 L455.6 1947.7 L457.6 1948.9 L459.6 1950.1 L461.6 1951.2 L463.6 1952.3 L465.6 1953.4 L467.6 1954.5 L469.6 1955.6 L471.6 1956.7 L473.6 1957.8 L475.6 1958.8 L477.6 1959.9 L479.6 1960.9 L481.6 1961.8 L483.6 1962.8 L485.6 1963.7 L487.6 1964.6 L489.6 1965.5 L491.6 1966.4 L493.6 1967.2 L495.6 1967.9 L497.6 1968.7 L499.6 1969.4 L501.6 1970.1 L503.6 1970.7 L505.6 1971.3 L507.6 1971.8 L509.6 1972.3 L511.6 1972.7 L513.6 1973.2 L515.6 1973.5 L517.6 1973.9 L519.6 1974.2 L521.6 1974.5 L523.6 1974.7 L525.6 1974.9 L527.6 1975.1 L529.6 1975.2 L531.6 1975.3 L533.6 1975.3 L535.6 1975.4 L537.6 1975.4 L539.6 1975.4 L541.6 1975.3 L543.6 1975.2 L545.6 1975.1 L547.6 1975.0 L549.6 1974.8 L551.6 1974.7 L553.6 1974.5 L555.6 1974.3 L557.6 1974.1 L559.6 1973.8 L561.6 1973.6 L563.6 1973.4 L565.6 1973.1 L567.6 1972.9 L569.6 1972.7 L571.6 1972.4 L573.6 1972.2 L575.6 1972.0 L577.6 1971.7 L579.6 1971.5 L581.6 1971.3 L583.6 1971.2 L585.6 1971.0 L587.6 1970.9 L589.7 1970.8 L591.7 1970.7 L593.7 1970.6 L595.7 1970.6 L597.7 1970.6 L599.7 1970.6 L601.7 1970.7 L603.7 1970.8 L605.7 1971.0 L607.7 1971.1 L609.7 1971.4 L611.7 1971.7 L613.7 1972.0 L615.7 1972.4 L617.7 1972.8 L619.7 1973.3 L621.7 1973.8 L623.7 1974.4 L625.7 1975.1 L627.7 1975.8 L629.7 1976.6 L631.7 1977.5 L633.7 1978.4 L635.7 1979.4 L637.7 1980.5 L639.7 1981.7" fill="none" stroke="#000" stroke-width="2.0" stroke-dasharray="8.5 10.5" stroke-linecap="round"/>
<path d="M171.4 1895.5 L173.4 1894.4 L175.4 1893.3 L177.4 1892.2 L179.4 1891.0 L181.5 1889.8 L183.5 1888.6 L185.5 1887.3 L187.5 1886.0 L189.5 1884.7 L191.5 1883.4 L193.5 1882.0 L195.5 1880.6 L197.5 1879.3 L199.5 1877.9 L201.5 1876.5 L203.5 1875.0 L205.6 1873.6 L207.6 1872.2 L209.6 1870.8 L211.6 1869.4 L213.6 1867.9 L215.6 1866.5 L217.6 1865.1 L219.6 1863.7 L221.6 1862.3 L223.6 1860.9 L225.6 1859.6 L227.6 1858.2 L229.7 1856.9 L231.7 1855.6 L233.7 1854.4 L235.7 1853.1 L237.7 1851.9 L239.7 1850.7 L241.7 1849.5 L243.7 1848.4 L245.7 1847.3 L247.7 1846.3 L249.7 1845.3 L251.7 1844.4 L253.8 1843.5 L255.8 1842.6 L257.8 1841.9 L259.8 1841.2 L261.8 1840.5 L263.8 1840.0 L265.8 1839.5 L267.8 1839.1 L269.8 1838.8 L271.8 1838.6 L273.8 1838.4 L275.8 1838.4 L277.9 1838.5 L279.9 1838.6 L281.9 1838.9 L283.9 1839.2 L285.9 1839.6 L287.9 1840.1 L289.9 1840.7 L291.9 1841.4 L293.9 1842.1 L295.9 1842.9 L297.9 1843.8 L299.9 1844.7 L302.0 1845.7 L304.0 1846.7 L306.0 1847.8 L308.0 1848.9 L310.0 1850.1 L312.0 1851.3 L314.0 1852.5 L316.0 1853.7 L318.0 1854.9 L320.0 1856.2 L322.0 1857.4 L324.0 1858.7 L326.1 1859.9 L328.1 1861.1 L330.1 1862.3 L332.1 1863.5 L334.1 1864.6 L336.1 1865.7 L338.1 1866.8 L340.1 1867.9 L342.1 1869.0 L344.1 1870.0 L346.1 1871.0 L348.1 1872.0 L350.2 1873.0 L352.2 1874.0 L354.2 1874.9 L356.2 1875.9 L358.2 1876.8 L360.2 1877.7 L362.2 1878.6 L364.2 1879.5 L366.2 1880.3 L368.2 1881.2 L370.2 1882.1 L372.2 1882.9 L374.3 1883.8 L376.3 1884.6 L378.3 1885.4 L380.3 1886.3 L382.3 1887.1 L384.3 1887.9 L386.3 1888.7 L388.3 1889.6 L390.3 1890.4 L392.3 1891.2 L394.3 1892.1 L396.3 1892.9 L398.4 1893.7 L400.4 1894.6 L402.4 1895.4 L404.4 1896.3 L406.4 1897.2 L408.4 1898.1 L410.4 1899.0 L412.4 1899.9 L414.4 1900.8 L416.4 1901.7 L418.4 1902.7 L420.4 1903.7 L422.5 1904.7 L424.5 1905.7 L426.5 1906.7 L428.5 1907.7 L430.5 1908.8 L432.5 1909.8 L434.5 1910.9 L436.5 1911.9 L438.5 1913.0 L440.5 1914.0 L442.5 1915.1 L444.5 1916.2 L446.6 1917.2 L448.6 1918.2 L450.6 1919.3 L452.6 1920.3 L454.6 1921.3 L456.6 1922.3 L458.6 1923.2 L460.6 1924.2 L462.6 1925.1 L464.6 1926.0 L466.6 1926.8 L468.6 1927.7 L470.7 1928.5 L472.7 1929.3 L474.7 1930.0 L476.7 1930.7 L478.7 1931.4 L480.7 1932.0 L482.7 1932.6 L484.7 1933.1 L486.7 1933.6 L488.7 1934.1 L490.7 1934.5 L492.7 1934.9 L494.8 1935.2 L496.8 1935.5 L498.8 1935.8 L500.8 1936.0 L502.8 1936.1 L504.8 1936.3 L506.8 1936.3 L508.8 1936.4 L510.8 1936.4 L512.8 1936.3 L514.8 1936.3 L516.8 1936.1 L518.9 1936.0 L520.9 1935.7 L522.9 1935.5 L524.9 1935.2 L526.9 1934.8 L528.9 1934.4 L530.9 1934.0 L532.9 1933.5 L534.9 1933.0 L536.9 1932.4 L538.9 1931.8 L540.9 1931.2 L543.0 1930.5 L545.0 1929.8 L547.0 1929.0 L549.0 1928.2 L551.0 1927.4 L553.0 1926.5 L555.0 1925.6 L557.0 1924.7 L559.0 1923.8 L561.0 1922.8 L563.0 1921.8 L565.0 1920.7 L567.1 1919.7 L569.1 1918.6 L571.1 1917.5 L573.1 1916.3 L575.1 1915.2 L577.1 1914.0 L579.1 1912.8 L581.1 1911.6 L583.1 1910.4 L585.1 1909.1 L587.1 1907.9 L589.1 1906.6 L591.2 1905.3 L593.2 1904.0 L595.2 1902.7 L597.2 1901.4 L599.2 1900.1 L601.2 1898.8 L603.2 1897.5 L605.2 1896.1 L607.2 1894.8 L609.2 1893.4 L611.2 1892.1 L613.2 1890.8 L615.3 1889.4 L617.3 1888.1 L619.3 1886.7 L621.3 1885.4 L623.3 1884.1 L625.3 1882.8 L627.3 1881.5 L629.3 1880.1 L631.3 1878.9 L633.3 1877.6 L635.3 1876.3 L637.3 1875.1 L639.4 1873.8 L641.4 1872.6 L643.4 1871.4 L645.4 1870.2" fill="none" stroke="#000" stroke-width="2.1" stroke-linejoin="round"/>
<path d="M737.7 1910.5 V1995.8 H1248.2 V1681.5 H737.7 M737.7 1681.5 V1846.5" fill="none" stroke="#000" stroke-width="2.40" stroke-linecap="square"/>
<line x1="738.3" y1="1846.5" x2="738.3" y2="1910.5" stroke="#222" stroke-width="1.4"/>
<line x1="731.9" y1="1699.5" x2="737.7" y2="1699.5" stroke="#000" stroke-width="1.60"/>
<line x1="731.9" y1="1756.7" x2="737.7" y2="1756.7" stroke="#000" stroke-width="1.60"/>
<line x1="731.9" y1="1813.8" x2="737.7" y2="1813.8" stroke="#000" stroke-width="1.60"/>
<line x1="731.9" y1="1871.0" x2="737.7" y2="1871.0" stroke="#000" stroke-width="1.60"/>
<line x1="731.9" y1="1928.1" x2="737.7" y2="1928.1" stroke="#000" stroke-width="1.60"/>
<line x1="731.9" y1="1985.2" x2="737.7" y2="1985.2" stroke="#000" stroke-width="1.60"/>
<line x1="757.2" y1="1985.8" x2="757.2" y2="1995.8" stroke="#000" stroke-width="1.50"/>
<line x1="809.7" y1="1985.8" x2="809.7" y2="2001.8" stroke="#000" stroke-width="1.50"/>
<line x1="862.2" y1="1985.8" x2="862.2" y2="1995.8" stroke="#000" stroke-width="1.50"/>
<line x1="914.7" y1="1985.8" x2="914.7" y2="2001.8" stroke="#000" stroke-width="1.50"/>
<line x1="967.2" y1="1985.8" x2="967.2" y2="1995.8" stroke="#000" stroke-width="1.50"/>
<line x1="1019.8" y1="1985.8" x2="1019.8" y2="2001.8" stroke="#000" stroke-width="1.50"/>
<line x1="1072.3" y1="1985.8" x2="1072.3" y2="1995.8" stroke="#000" stroke-width="1.50"/>
<line x1="1124.8" y1="1985.8" x2="1124.8" y2="2001.8" stroke="#000" stroke-width="1.50"/>
<line x1="1177.3" y1="1985.8" x2="1177.3" y2="1995.8" stroke="#000" stroke-width="1.50"/>
<line x1="1229.8" y1="1985.8" x2="1229.8" y2="2001.8" stroke="#000" stroke-width="1.50"/>
<text transform="translate(797.67 2036.90) scale(0.9043 1)" font-size="26.00">Feb</text>
<text transform="translate(910.35 2036.90) scale(0.9605 1)" font-size="26.00">Apr</text>
<text transform="translate(1022.92 2036.90) scale(0.9441 1)" font-size="26.00">Jun</text>
<text transform="translate(1127.35 2036.90) scale(0.9498 1)" font-size="26.00">Aug</text>
<text transform="translate(1222.02 2036.90) scale(0.9558 1)" font-size="26.00">Oct</text>
<text transform="translate(776.59 1720.00) scale(0.9901 1)" font-size="15.90">0600 -12:00</text>
<path d="M756.4 1914.1 L758.4 1914.2 L760.4 1914.3 L762.4 1914.3 L764.4 1914.2 L766.4 1914.0 L768.4 1913.8 L770.4 1913.6 L772.4 1913.2 L774.4 1912.8 L776.4 1912.4 L778.4 1911.8 L780.4 1911.2 L782.4 1910.6 L784.4 1909.9 L786.4 1909.2 L788.4 1908.3 L790.4 1907.5 L792.4 1906.6 L794.4 1905.6 L796.4 1904.6 L798.4 1903.6 L800.4 1902.5 L802.5 1901.3 L804.5 1900.1 L806.5 1898.9 L808.5 1897.6 L810.5 1896.3 L812.5 1895.0 L814.5 1893.6 L816.5 1892.2 L818.5 1890.8 L820.5 1889.3 L822.5 1887.8 L824.5 1886.2 L826.5 1884.7 L828.5 1883.1 L830.5 1881.4 L832.5 1879.8 L834.5 1878.1 L836.5 1876.4 L838.5 1874.7 L840.5 1873.0 L842.5 1871.2 L844.5 1869.5 L846.5 1867.7 L848.5 1865.9 L850.5 1864.1 L852.5 1862.3 L854.5 1860.5 L856.5 1858.6 L858.5 1856.8 L860.5 1854.9 L862.5 1853.1 L864.5 1851.2 L866.5 1849.4 L868.5 1847.5 L870.5 1845.7 L872.5 1843.8 L874.5 1842.0 L876.5 1840.1 L878.5 1838.3 L880.5 1836.5 L882.5 1834.7 L884.5 1832.9 L886.5 1831.1 L888.5 1829.3 L890.5 1827.6 L892.6 1825.8 L894.6 1824.1 L896.6 1822.4 L898.6 1820.8 L900.6 1819.1 L902.6 1817.5 L904.6 1815.9 L906.6 1814.3 L908.6 1812.8 L910.6 1811.3 L912.6 1809.8 L914.6 1808.4 L916.6 1807.0 L918.6 1805.6 L920.6 1804.3 L922.6 1803.0 L924.6 1801.8 L926.6 1800.6 L928.6 1799.5 L930.6 1798.4 L932.6 1797.3 L934.6 1796.3 L936.6 1795.3 L938.6 1794.4 L940.6 1793.5 L942.6 1792.7 L944.6 1791.9 L946.6 1791.1 L948.6 1790.3 L950.6 1789.6 L952.6 1788.9 L954.6 1788.3 L956.6 1787.6 L958.6 1787.0 L960.6 1786.4 L962.6 1785.9 L964.6 1785.3 L966.6 1784.8 L968.6 1784.3 L970.6 1783.8 L972.6 1783.3 L974.6 1782.9 L976.6 1782.4 L978.6 1782.0 L980.6 1781.6 L982.6 1781.2 L984.7 1780.9 L986.7 1780.6 L988.7 1780.2 L990.7 1780.0 L992.7 1779.7 L994.7 1779.5 L996.7 1779.3 L998.7 1779.1 L1000.7 1779.0 L1002.7 1778.9 L1004.7 1778.8 L1006.7 1778.7 L1008.7 1778.7 L1010.7 1778.7 L1012.7 1778.8 L1014.7 1778.8 L1016.7 1778.9 L1018.7 1779.0 L1020.7 1779.2 L1022.7 1779.3 L1024.7 1779.5 L1026.7 1779.7 L1028.7 1779.9 L1030.7 1780.2 L1032.7 1780.4 L1034.7 1780.7 L1036.7 1781.0 L1038.7 1781.3 L1040.7 1781.6 L1042.7 1781.9 L1044.7 1782.2 L1046.7 1782.6 L1048.7 1782.9 L1050.7 1783.3 L1052.7 1783.6 L1054.7 1784.0 L1056.7 1784.4 L1058.7 1784.7 L1060.7 1785.1 L1062.7 1785.5 L1064.7 1785.9 L1066.7 1786.3 L1068.7 1786.6 L1070.7 1787.0 L1072.7 1787.4 L1074.8 1787.7 L1076.8 1788.1 L1078.8 1788.4 L1080.8 1788.8 L1082.8 1789.1 L1084.8 1789.4 L1086.8 1789.8 L1088.8 1790.1 L1090.8 1790.4 L1092.8 1790.6 L1094.8 1790.9 L1096.8 1791.2 L1098.8 1791.4 L1100.8 1791.6 L1102.8 1791.9 L1104.8 1792.1 L1106.8 1792.2 L1108.8 1792.4 L1110.8 1792.6 L1112.8 1792.7 L1114.8 1792.8 L1116.8 1792.9 L1118.8 1793.0 L1120.8 1793.1 L1122.8 1793.1 L1124.8 1793.2 L1126.8 1793.2 L1128.8 1793.2 L1130.8 1793.1 L1132.8 1793.1 L1134.8 1793.0 L1136.8 1792.9 L1138.8 1792.8 L1140.8 1792.6 L1142.8 1792.5 L1144.8 1792.3 L1146.8 1792.1 L1148.8 1791.8 L1150.8 1791.6 L1152.8 1791.3 L1154.8 1791.0 L1156.8 1790.7 L1158.8 1790.3 L1160.8 1789.9 L1162.8 1789.5 L1164.8 1789.1 L1166.9 1788.7 L1168.9 1788.2 L1170.9 1787.7 L1172.9 1787.1 L1174.9 1786.6 L1176.9 1786.0 L1178.9 1785.4 L1180.9 1784.8 L1182.9 1784.1 L1184.9 1783.4 L1186.9 1782.7 L1188.9 1782.0 L1190.9 1781.2 L1192.9 1780.5 L1194.9 1779.6 L1196.9 1778.8 L1198.9 1777.9 L1200.9 1777.0 L1202.9 1776.1 L1204.9 1775.2 L1206.9 1774.2 L1208.9 1773.2 L1210.9 1772.1 L1212.9 1771.1 L1214.9 1770.0 L1216.9 1768.8 L1218.9 1767.7 L1220.9 1766.5 L1222.9 1765.3 L1224.9 1764.1 L1226.9 1762.8 L1228.9 1761.5" fill="none" stroke="#000" stroke-width="2.0" stroke-dasharray="8.5 10.5" stroke-linecap="round"/>
<path d="M756.4 1954.6 L758.4 1952.8 L760.4 1951.0 L762.4 1949.3 L764.4 1947.7 L766.4 1946.1 L768.5 1944.5 L770.5 1943.0 L772.5 1941.6 L774.5 1940.1 L776.5 1938.7 L778.5 1937.4 L780.5 1936.0 L782.5 1934.7 L784.5 1933.4 L786.5 1932.1 L788.5 1930.9 L790.5 1929.6 L792.5 1928.3 L794.6 1927.1 L796.6 1925.8 L798.6 1924.6 L800.6 1923.3 L802.6 1922.0 L804.6 1920.7 L806.6 1919.4 L808.6 1918.1 L810.6 1916.7 L812.6 1915.4 L814.6 1914.0 L816.6 1912.5 L818.7 1911.1 L820.7 1909.6 L822.7 1908.1 L824.7 1906.6 L826.7 1905.1 L828.7 1903.5 L830.7 1901.9 L832.7 1900.3 L834.7 1898.7 L836.7 1897.1 L838.7 1895.4 L840.7 1893.7 L842.8 1892.0 L844.8 1890.2 L846.8 1888.5 L848.8 1886.7 L850.8 1885.0 L852.8 1883.2 L854.8 1881.4 L856.8 1879.7 L858.8 1877.9 L860.8 1876.1 L862.8 1874.4 L864.8 1872.6 L866.9 1870.9 L868.9 1869.2 L870.9 1867.4 L872.9 1865.8 L874.9 1864.1 L876.9 1862.5 L878.9 1860.9 L880.9 1859.3 L882.9 1857.7 L884.9 1856.2 L886.9 1854.7 L888.9 1853.2 L891.0 1851.8 L893.0 1850.5 L895.0 1849.1 L897.0 1847.8 L899.0 1846.6 L901.0 1845.4 L903.0 1844.2 L905.0 1843.1 L907.0 1842.0 L909.0 1841.0 L911.0 1840.0 L913.0 1839.0 L915.1 1838.1 L917.1 1837.2 L919.1 1836.4 L921.1 1835.6 L923.1 1834.8 L925.1 1834.0 L927.1 1833.2 L929.1 1832.5 L931.1 1831.8 L933.1 1831.1 L935.1 1830.5 L937.1 1829.8 L939.2 1829.2 L941.2 1828.6 L943.2 1828.1 L945.2 1827.5 L947.2 1827.0 L949.2 1826.5 L951.2 1826.0 L953.2 1825.6 L955.2 1825.2 L957.2 1824.8 L959.2 1824.4 L961.2 1824.0 L963.2 1823.7 L965.3 1823.4 L967.3 1823.1 L969.3 1822.9 L971.3 1822.7 L973.3 1822.5 L975.3 1822.3 L977.3 1822.1 L979.3 1822.0 L981.3 1821.9 L983.3 1821.9 L985.3 1821.9 L987.3 1821.9 L989.4 1821.9 L991.4 1821.9 L993.4 1822.0 L995.4 1822.1 L997.4 1822.3 L999.4 1822.4 L1001.4 1822.6 L1003.4 1822.9 L1005.4 1823.1 L1007.4 1823.4 L1009.4 1823.7 L1011.4 1824.1 L1013.5 1824.5 L1015.5 1824.9 L1017.5 1825.3 L1019.5 1825.8 L1021.5 1826.3 L1023.5 1826.8 L1025.5 1827.3 L1027.5 1827.9 L1029.5 1828.5 L1031.5 1829.1 L1033.5 1829.7 L1035.5 1830.3 L1037.6 1831.0 L1039.6 1831.7 L1041.6 1832.4 L1043.6 1833.1 L1045.6 1833.9 L1047.6 1834.7 L1049.6 1835.4 L1051.6 1836.2 L1053.6 1837.1 L1055.6 1837.9 L1057.6 1838.7 L1059.6 1839.6 L1061.7 1840.4 L1063.7 1841.3 L1065.7 1842.2 L1067.7 1843.1 L1069.7 1844.0 L1071.7 1845.0 L1073.7 1845.9 L1075.7 1846.8 L1077.7 1847.8 L1079.7 1848.8 L1081.7 1849.7 L1083.7 1850.7 L1085.8 1851.7 L1087.8 1852.7 L1089.8 1853.7 L1091.8 1854.7 L1093.8 1855.7 L1095.8 1856.7 L1097.8 1857.8 L1099.8 1858.8 L1101.8 1859.9 L1103.8 1861.0 L1105.8 1862.0 L1107.8 1863.1 L1109.9 1864.2 L1111.9 1865.3 L1113.9 1866.5 L1115.9 1867.6 L1117.9 1868.8 L1119.9 1869.9 L1121.9 1871.1 L1123.9 1872.3 L1125.9 1873.5 L1127.9 1874.7 L1129.9 1875.9 L1131.9 1877.1 L1133.9 1878.4 L1136.0 1879.6 L1138.0 1880.9 L1140.0 1882.2 L1142.0 1883.5 L1144.0 1884.9 L1146.0 1886.2 L1148.0 1887.6 L1150.0 1888.9 L1152.0 1890.3 L1154.0 1891.7 L1156.0 1893.2 L1158.0 1894.6 L1160.1 1896.1 L1162.1 1897.6 L1164.1 1899.1 L1166.1 1900.7 L1168.1 1902.3 L1170.1 1903.9 L1172.1 1905.5 L1174.1 1907.1 L1176.1 1908.8 L1178.1 1910.5 L1180.1 1912.2 L1182.1 1914.0 L1184.2 1915.8 L1186.2 1917.6 L1188.2 1919.4 L1190.2 1921.3 L1192.2 1923.2 L1194.2 1925.1 L1196.2 1927.1 L1198.2 1929.1 L1200.2 1931.1 L1202.2 1933.1 L1204.2 1935.2 L1206.2 1937.2 L1208.3 1939.3 L1210.3 1941.4 L1212.3 1943.5 L1214.3 1945.6 L1216.3 1947.7 L1218.3 1949.8 L1220.3 1951.9 L1222.3 1954.0 L1224.3 1956.1 L1226.3 1958.2 L1228.3 1960.3 L1230.3 1962.4" fill="none" stroke="#000" stroke-width="2.0" stroke-dasharray="8.5 10.5" stroke-linecap="round"/>
<path d="M756.4 1934.0 L758.4 1933.5 L760.4 1932.8 L762.4 1932.2 L764.4 1931.5 L766.4 1930.8 L768.5 1930.1 L770.5 1929.3 L772.5 1928.5 L774.5 1927.7 L776.5 1926.8 L778.5 1925.9 L780.5 1924.9 L782.5 1924.0 L784.5 1923.0 L786.5 1921.9 L788.5 1920.9 L790.5 1919.8 L792.5 1918.6 L794.6 1917.5 L796.6 1916.3 L798.6 1915.1 L800.6 1913.8 L802.6 1912.5 L804.6 1911.2 L806.6 1909.9 L808.6 1908.5 L810.6 1907.1 L812.6 1905.7 L814.6 1904.2 L816.6 1902.7 L818.7 1901.2 L820.7 1899.6 L822.7 1898.1 L824.7 1896.5 L826.7 1894.8 L828.7 1893.1 L830.7 1891.4 L832.7 1889.7 L834.7 1888.0 L836.7 1886.2 L838.7 1884.4 L840.7 1882.6 L842.8 1880.8 L844.8 1878.9 L846.8 1877.0 L848.8 1875.2 L850.8 1873.3 L852.8 1871.4 L854.8 1869.5 L856.8 1867.6 L858.8 1865.8 L860.8 1863.9 L862.8 1862.0 L864.8 1860.1 L866.9 1858.3 L868.9 1856.4 L870.9 1854.6 L872.9 1852.8 L874.9 1851.0 L876.9 1849.2 L878.9 1847.5 L880.9 1845.8 L882.9 1844.1 L884.9 1842.4 L886.9 1840.8 L888.9 1839.2 L891.0 1837.7 L893.0 1836.2 L895.0 1834.7 L897.0 1833.3 L899.0 1831.8 L901.0 1830.5 L903.0 1829.1 L905.0 1827.8 L907.0 1826.6 L909.0 1825.3 L911.0 1824.1 L913.0 1823.0 L915.1 1821.8 L917.1 1820.7 L919.1 1819.7 L921.1 1818.7 L923.1 1817.7 L925.1 1816.7 L927.1 1815.8 L929.1 1814.8 L931.1 1814.0 L933.1 1813.1 L935.1 1812.3 L937.1 1811.5 L939.2 1810.8 L941.2 1810.1 L943.2 1809.4 L945.2 1808.7 L947.2 1808.1 L949.2 1807.5 L951.2 1806.9 L953.2 1806.4 L955.2 1805.9 L957.2 1805.4 L959.2 1804.9 L961.2 1804.5 L963.2 1804.1 L965.3 1803.7 L967.3 1803.4 L969.3 1803.1 L971.3 1802.8 L973.3 1802.5 L975.3 1802.3 L977.3 1802.0 L979.3 1801.8 L981.3 1801.7 L983.3 1801.5 L985.3 1801.4 L987.3 1801.3 L989.4 1801.3 L991.4 1801.2 L993.4 1801.2 L995.4 1801.2 L997.4 1801.2 L999.4 1801.3 L1001.4 1801.3 L1003.4 1801.4 L1005.4 1801.6 L1007.4 1801.7 L1009.4 1801.9 L1011.4 1802.1 L1013.5 1802.3 L1015.5 1802.5 L1017.5 1802.8 L1019.5 1803.1 L1021.5 1803.4 L1023.5 1803.7 L1025.5 1804.1 L1027.5 1804.5 L1029.5 1804.9 L1031.5 1805.4 L1033.5 1805.8 L1035.5 1806.3 L1037.6 1806.9 L1039.6 1807.4 L1041.6 1808.0 L1043.6 1808.5 L1045.6 1809.1 L1047.6 1809.8 L1049.6 1810.4 L1051.6 1811.0 L1053.6 1811.7 L1055.6 1812.3 L1057.6 1813.0 L1059.6 1813.6 L1061.7 1814.3 L1063.7 1814.9 L1065.7 1815.6 L1067.7 1816.3 L1069.7 1817.0 L1071.7 1817.6 L1073.7 1818.3 L1075.7 1819.0 L1077.7 1819.7 L1079.7 1820.3 L1081.7 1821.0 L1083.7 1821.7 L1085.8 1822.4 L1087.8 1823.0 L1089.8 1823.7 L1091.8 1824.3 L1093.8 1825.0 L1095.8 1825.7 L1097.8 1826.3 L1099.8 1827.0 L1101.8 1827.6 L1103.8 1828.2 L1105.8 1828.9 L1107.8 1829.5 L1109.9 1830.1 L1111.9 1830.7 L1113.9 1831.4 L1115.9 1832.0 L1117.9 1832.6 L1119.9 1833.2 L1121.9 1833.8 L1123.9 1834.4 L1125.9 1835.0 L1127.9 1835.5 L1129.9 1836.1 L1131.9 1836.7 L1133.9 1837.3 L1136.0 1837.8 L1138.0 1838.4 L1140.0 1839.0 L1142.0 1839.5 L1144.0 1840.1 L1146.0 1840.6 L1148.0 1841.2 L1150.0 1841.7 L1152.0 1842.3 L1154.0 1842.8 L1156.0 1843.3 L1158.0 1843.9 L1160.1 1844.4 L1162.1 1844.9 L1164.1 1845.5 L1166.1 1846.0 L1168.1 1846.5 L1170.1 1847.0 L1172.1 1847.5 L1174.1 1848.0 L1176.1 1848.5 L1178.1 1849.0 L1180.1 1849.5 L1182.1 1850.0 L1184.2 1850.5 L1186.2 1851.0 L1188.2 1851.5 L1190.2 1852.0 L1192.2 1852.5 L1194.2 1853.0 L1196.2 1853.5 L1198.2 1854.0 L1200.2 1854.5 L1202.2 1855.0 L1204.2 1855.5 L1206.2 1855.9 L1208.3 1856.4 L1210.3 1856.9 L1212.3 1857.4 L1214.3 1857.9 L1216.3 1858.4 L1218.3 1858.8 L1220.3 1859.3 L1222.3 1859.8 L1224.3 1860.3 L1226.3 1860.8 L1228.3 1861.2 L1230.3 1861.7" fill="none" stroke="#000" stroke-width="2.1" stroke-linejoin="round"/>
<path d="M153.5 2096.6 H664.4 V2250.0 M664.4 2313.9 V2411.6 H153.5 V2096.6" fill="none" stroke="#000" stroke-width="2.40" stroke-linecap="square"/>
<line x1="663.9" y1="2250.0" x2="663.9" y2="2313.9" stroke="#222" stroke-width="1.4"/>
<line x1="147.7" y1="2114.5" x2="153.5" y2="2114.5" stroke="#000" stroke-width="1.60"/>
<line x1="147.7" y1="2172.2" x2="153.5" y2="2172.2" stroke="#000" stroke-width="1.60"/>
<line x1="147.7" y1="2228.8" x2="153.5" y2="2228.8" stroke="#000" stroke-width="1.60"/>
<line x1="147.7" y1="2286.3" x2="153.5" y2="2286.3" stroke="#000" stroke-width="1.60"/>
<line x1="147.7" y1="2343.3" x2="153.5" y2="2343.3" stroke="#000" stroke-width="1.60"/>
<line x1="147.7" y1="2400.4" x2="153.5" y2="2400.4" stroke="#000" stroke-width="1.60"/>
<line x1="172.2" y1="2401.6" x2="172.2" y2="2411.6" stroke="#000" stroke-width="1.50"/>
<line x1="224.7" y1="2401.6" x2="224.7" y2="2417.6" stroke="#000" stroke-width="1.50"/>
<line x1="277.3" y1="2401.6" x2="277.3" y2="2411.6" stroke="#000" stroke-width="1.50"/>
<line x1="329.8" y1="2401.6" x2="329.8" y2="2417.6" stroke="#000" stroke-width="1.50"/>
<line x1="382.4" y1="2401.6" x2="382.4" y2="2411.6" stroke="#000" stroke-width="1.50"/>
<line x1="434.9" y1="2401.6" x2="434.9" y2="2417.6" stroke="#000" stroke-width="1.50"/>
<line x1="487.4" y1="2401.6" x2="487.4" y2="2411.6" stroke="#000" stroke-width="1.50"/>
<line x1="540.0" y1="2401.6" x2="540.0" y2="2417.6" stroke="#000" stroke-width="1.50"/>
<line x1="592.5" y1="2401.6" x2="592.5" y2="2411.6" stroke="#000" stroke-width="1.50"/>
<line x1="645.1" y1="2401.6" x2="645.1" y2="2417.6" stroke="#000" stroke-width="1.50"/>
<text transform="translate(122.74 2118.43) scale(1.0600 1)" font-size="15.00">60</text>
<text transform="translate(122.74 2175.93) scale(1.0600 1)" font-size="15.00">40</text>
<text transform="translate(122.74 2228.43) scale(1.0600 1)" font-size="15.00">20</text>
<text transform="translate(131.58 2287.14) scale(1.0600 1)" font-size="15.00">0</text>
<text transform="translate(117.44 2347.14) scale(1.0600 1)" font-size="15.00">-20</text>
<text transform="translate(117.44 2401.74) scale(1.0600 1)" font-size="15.00">-40</text>
<text transform="translate(204.97 2453.50) scale(0.9043 1)" font-size="26.00">Feb</text>
<text transform="translate(318.55 2453.50) scale(0.9405 1)" font-size="26.00">Apr</text>
<text transform="translate(430.22 2453.50) scale(0.9341 1)" font-size="26.00">Jun</text>
<text transform="translate(534.25 2453.50) scale(0.9610 1)" font-size="26.00">Aug</text>
<text transform="translate(628.91 2453.50) scale(0.9635 1)" font-size="26.00">Oct</text>
<text transform="translate(206.03 2138.00) scale(0.9654 1)" font-size="15.90">12:00 - 18:00</text>
<path d="M172.1 2258.0 L174.1 2259.8 L176.1 2261.5 L178.1 2263.2 L180.1 2264.9 L182.1 2266.5 L184.1 2268.1 L186.2 2269.7 L188.2 2271.3 L190.2 2272.8 L192.2 2274.2 L194.2 2275.6 L196.2 2277.0 L198.2 2278.4 L200.2 2279.7 L202.2 2280.9 L204.2 2282.2 L206.2 2283.3 L208.2 2284.5 L210.2 2285.6 L212.2 2286.6 L214.2 2287.6 L216.2 2288.6 L218.2 2289.5 L220.2 2290.3 L222.2 2291.2 L224.2 2291.9 L226.2 2292.6 L228.2 2293.3 L230.2 2293.9 L232.2 2294.5 L234.2 2295.0 L236.2 2295.5 L238.2 2295.9 L240.2 2296.3 L242.3 2296.7 L244.3 2297.0 L246.3 2297.2 L248.3 2297.4 L250.3 2297.6 L252.3 2297.7 L254.3 2297.8 L256.3 2297.9 L258.3 2297.9 L260.3 2297.9 L262.3 2297.8 L264.3 2297.7 L266.3 2297.6 L268.3 2297.4 L270.3 2297.2 L272.3 2296.9 L274.3 2296.7 L276.3 2296.4 L278.3 2296.0 L280.3 2295.6 L282.3 2295.2 L284.3 2294.8 L286.3 2294.3 L288.3 2293.8 L290.3 2293.3 L292.3 2292.8 L294.3 2292.2 L296.3 2291.6 L298.4 2291.0 L300.4 2290.3 L302.4 2289.6 L304.4 2288.9 L306.4 2288.2 L308.4 2287.5 L310.4 2286.7 L312.4 2285.9 L314.4 2285.1 L316.4 2284.3 L318.4 2283.4 L320.4 2282.6 L322.4 2281.7 L324.4 2280.8 L326.4 2279.9 L328.4 2279.0 L330.4 2278.1 L332.4 2277.2 L334.4 2276.2 L336.4 2275.3 L338.4 2274.3 L340.4 2273.3 L342.4 2272.4 L344.4 2271.4 L346.4 2270.4 L348.4 2269.3 L350.4 2268.3 L352.5 2267.3 L354.5 2266.2 L356.5 2265.1 L358.5 2264.0 L360.5 2262.9 L362.5 2261.8 L364.5 2260.7 L366.5 2259.5 L368.5 2258.3 L370.5 2257.1 L372.5 2255.9 L374.5 2254.7 L376.5 2253.5 L378.5 2252.2 L380.5 2251.0 L382.5 2249.7 L384.5 2248.4 L386.5 2247.2 L388.5 2245.9 L390.5 2244.6 L392.5 2243.3 L394.5 2242.0 L396.5 2240.7 L398.5 2239.4 L400.5 2238.1 L402.5 2236.8 L404.5 2235.5 L406.5 2234.2 L408.6 2233.0 L410.6 2231.7 L412.6 2230.4 L414.6 2229.2 L416.6 2227.9 L418.6 2226.7 L420.6 2225.5 L422.6 2224.3 L424.6 2223.1 L426.6 2221.9 L428.6 2220.7 L430.6 2219.6 L432.6 2218.4 L434.6 2217.3 L436.6 2216.2 L438.6 2215.1 L440.6 2213.9 L442.6 2212.8 L444.6 2211.8 L446.6 2210.7 L448.6 2209.6 L450.6 2208.5 L452.6 2207.5 L454.6 2206.4 L456.6 2205.4 L458.6 2204.4 L460.6 2203.3 L462.6 2202.3 L464.7 2201.3 L466.7 2200.3 L468.7 2199.3 L470.7 2198.4 L472.7 2197.4 L474.7 2196.4 L476.7 2195.5 L478.7 2194.5 L480.7 2193.6 L482.7 2192.6 L484.7 2191.7 L486.7 2190.8 L488.7 2189.8 L490.7 2188.9 L492.7 2188.0 L494.7 2187.1 L496.7 2186.2 L498.7 2185.3 L500.7 2184.4 L502.7 2183.5 L504.7 2182.6 L506.7 2181.8 L508.7 2180.9 L510.7 2180.0 L512.7 2179.2 L514.7 2178.3 L516.7 2177.4 L518.8 2176.6 L520.8 2175.7 L522.8 2174.9 L524.8 2174.0 L526.8 2173.2 L528.8 2172.4 L530.8 2171.5 L532.8 2170.7 L534.8 2169.9 L536.8 2169.0 L538.8 2168.2 L540.8 2167.4 L542.8 2166.5 L544.8 2165.7 L546.8 2164.9 L548.8 2164.1 L550.8 2163.2 L552.8 2162.4 L554.8 2161.5 L556.8 2160.7 L558.8 2159.8 L560.8 2159.0 L562.8 2158.1 L564.8 2157.3 L566.8 2156.4 L568.8 2155.5 L570.8 2154.6 L572.8 2153.7 L574.9 2152.8 L576.9 2151.9 L578.9 2150.9 L580.9 2150.0 L582.9 2149.0 L584.9 2148.0 L586.9 2147.1 L588.9 2146.1 L590.9 2145.0 L592.9 2144.0 L594.9 2143.0 L596.9 2141.9 L598.9 2140.8 L600.9 2139.7 L602.9 2138.6 L604.9 2137.5 L606.9 2136.3 L608.9 2135.1 L610.9 2134.0 L612.9 2132.7 L614.9 2131.5 L616.9 2130.2 L618.9 2128.9 L620.9 2127.6 L622.9 2126.3 L624.9 2124.9 L626.9 2123.5 L628.9 2122.1 L631.0 2120.7 L633.0 2119.2 L635.0 2117.7 L637.0 2116.2 L639.0 2114.6" fill="none" stroke="#000" stroke-width="2.0" stroke-dasharray="8.5 10.5" stroke-linecap="round"/>
<path d="M172.1 2297.3 L174.1 2297.7 L176.1 2298.0 L178.1 2298.4 L180.1 2298.8 L182.2 2299.3 L184.2 2299.8 L186.2 2300.3 L188.2 2300.9 L190.2 2301.4 L192.2 2302.0 L194.2 2302.6 L196.2 2303.3 L198.2 2303.9 L200.2 2304.5 L202.2 2305.2 L204.2 2305.9 L206.2 2306.5 L208.2 2307.2 L210.2 2307.9 L212.2 2308.5 L214.2 2309.2 L216.2 2309.8 L218.2 2310.5 L220.3 2311.1 L222.3 2311.7 L224.3 2312.3 L226.3 2312.8 L228.3 2313.4 L230.3 2313.9 L232.3 2314.4 L234.3 2314.8 L236.3 2315.2 L238.3 2315.6 L240.3 2316.0 L242.3 2316.4 L244.3 2316.7 L246.3 2316.9 L248.3 2317.2 L250.3 2317.4 L252.3 2317.6 L254.3 2317.8 L256.3 2318.0 L258.4 2318.1 L260.4 2318.2 L262.4 2318.3 L264.4 2318.3 L266.4 2318.3 L268.4 2318.3 L270.4 2318.3 L272.4 2318.3 L274.4 2318.2 L276.4 2318.1 L278.4 2318.0 L280.4 2317.8 L282.4 2317.7 L284.4 2317.5 L286.4 2317.3 L288.4 2317.1 L290.4 2316.8 L292.4 2316.5 L294.5 2316.2 L296.5 2315.9 L298.5 2315.6 L300.5 2315.2 L302.5 2314.9 L304.5 2314.5 L306.5 2314.0 L308.5 2313.6 L310.5 2313.2 L312.5 2312.7 L314.5 2312.2 L316.5 2311.7 L318.5 2311.1 L320.5 2310.6 L322.5 2310.0 L324.5 2309.4 L326.5 2308.8 L328.5 2308.2 L330.5 2307.6 L332.6 2306.9 L334.6 2306.2 L336.6 2305.5 L338.6 2304.8 L340.6 2304.1 L342.6 2303.3 L344.6 2302.6 L346.6 2301.8 L348.6 2301.0 L350.6 2300.2 L352.6 2299.4 L354.6 2298.5 L356.6 2297.7 L358.6 2296.8 L360.6 2295.9 L362.6 2295.0 L364.6 2294.1 L366.6 2293.2 L368.6 2292.2 L370.7 2291.3 L372.7 2290.3 L374.7 2289.3 L376.7 2288.3 L378.7 2287.3 L380.7 2286.3 L382.7 2285.3 L384.7 2284.2 L386.7 2283.2 L388.7 2282.2 L390.7 2281.1 L392.7 2280.1 L394.7 2279.0 L396.7 2278.0 L398.7 2277.0 L400.7 2275.9 L402.7 2274.9 L404.7 2273.9 L406.7 2272.9 L408.8 2271.9 L410.8 2270.9 L412.8 2269.9 L414.8 2268.9 L416.8 2268.0 L418.8 2267.0 L420.8 2266.1 L422.8 2265.2 L424.8 2264.3 L426.8 2263.4 L428.8 2262.6 L430.8 2261.7 L432.8 2260.9 L434.8 2260.1 L436.8 2259.3 L438.8 2258.6 L440.8 2257.8 L442.8 2257.1 L444.8 2256.4 L446.9 2255.7 L448.9 2255.0 L450.9 2254.4 L452.9 2253.7 L454.9 2253.1 L456.9 2252.5 L458.9 2251.9 L460.9 2251.4 L462.9 2250.9 L464.9 2250.3 L466.9 2249.8 L468.9 2249.4 L470.9 2248.9 L472.9 2248.5 L474.9 2248.1 L476.9 2247.7 L478.9 2247.3 L480.9 2247.0 L482.9 2246.6 L485.0 2246.3 L487.0 2246.0 L489.0 2245.8 L491.0 2245.5 L493.0 2245.3 L495.0 2245.1 L497.0 2244.9 L499.0 2244.8 L501.0 2244.7 L503.0 2244.5 L505.0 2244.5 L507.0 2244.4 L509.0 2244.4 L511.0 2244.3 L513.0 2244.3 L515.0 2244.4 L517.0 2244.4 L519.0 2244.5 L521.1 2244.6 L523.1 2244.7 L525.1 2244.9 L527.1 2245.0 L529.1 2245.2 L531.1 2245.5 L533.1 2245.7 L535.1 2246.0 L537.1 2246.3 L539.1 2246.6 L541.1 2246.9 L543.1 2247.3 L545.1 2247.7 L547.1 2248.1 L549.1 2248.6 L551.1 2249.0 L553.1 2249.5 L555.1 2250.0 L557.1 2250.6 L559.2 2251.2 L561.2 2251.8 L563.2 2252.4 L565.2 2253.0 L567.2 2253.7 L569.2 2254.4 L571.2 2255.2 L573.2 2255.9 L575.2 2256.7 L577.2 2257.5 L579.2 2258.4 L581.2 2259.2 L583.2 2260.1 L585.2 2261.1 L587.2 2262.0 L589.2 2263.0 L591.2 2264.0 L593.2 2265.1 L595.2 2266.1 L597.3 2267.2 L599.3 2268.3 L601.3 2269.5 L603.3 2270.7 L605.3 2271.9 L607.3 2273.1 L609.3 2274.4 L611.3 2275.7 L613.3 2277.0 L615.3 2278.4 L617.3 2279.8 L619.3 2281.2 L621.3 2282.6 L623.3 2284.1 L625.3 2285.6 L627.3 2287.2 L629.3 2288.7 L631.3 2290.3 L633.3 2292.0 L635.4 2293.6 L637.4 2295.3 L639.4 2297.1 L641.4 2298.8 L643.4 2300.6 L645.4 2302.4" fill="none" stroke="#000" stroke-width="2.0" stroke-dasharray="8.5 10.5" stroke-linecap="round"/>
<path d="M172.1 2277.5 L174.1 2278.8 L176.1 2280.1 L178.2 2281.3 L180.2 2282.5 L182.2 2283.7 L184.2 2284.8 L186.2 2286.0 L188.2 2287.1 L190.2 2288.1 L192.2 2289.2 L194.2 2290.2 L196.2 2291.2 L198.2 2292.1 L200.2 2293.1 L202.3 2294.0 L204.3 2294.9 L206.3 2295.7 L208.3 2296.5 L210.3 2297.3 L212.3 2298.1 L214.3 2298.8 L216.3 2299.5 L218.3 2300.2 L220.3 2300.9 L222.3 2301.5 L224.3 2302.1 L226.4 2302.6 L228.4 2303.2 L230.4 2303.7 L232.4 2304.2 L234.4 2304.6 L236.4 2305.0 L238.4 2305.4 L240.4 2305.8 L242.4 2306.1 L244.4 2306.4 L246.4 2306.7 L248.4 2306.9 L250.5 2307.2 L252.5 2307.3 L254.5 2307.5 L256.5 2307.6 L258.5 2307.7 L260.5 2307.8 L262.5 2307.8 L264.5 2307.8 L266.5 2307.8 L268.5 2307.8 L270.5 2307.7 L272.5 2307.6 L274.6 2307.4 L276.6 2307.2 L278.6 2307.0 L280.6 2306.8 L282.6 2306.5 L284.6 2306.2 L286.6 2305.9 L288.6 2305.6 L290.6 2305.2 L292.6 2304.7 L294.6 2304.3 L296.6 2303.8 L298.7 2303.3 L300.7 2302.7 L302.7 2302.2 L304.7 2301.6 L306.7 2300.9 L308.7 2300.3 L310.7 2299.6 L312.7 2298.9 L314.7 2298.2 L316.7 2297.5 L318.7 2296.7 L320.7 2296.0 L322.8 2295.2 L324.8 2294.5 L326.8 2293.7 L328.8 2293.0 L330.8 2292.2 L332.8 2291.5 L334.8 2290.7 L336.8 2290.0 L338.8 2289.2 L340.8 2288.5 L342.8 2287.7 L344.8 2287.0 L346.9 2286.2 L348.9 2285.4 L350.9 2284.6 L352.9 2283.8 L354.9 2282.9 L356.9 2282.1 L358.9 2281.2 L360.9 2280.3 L362.9 2279.4 L364.9 2278.4 L366.9 2277.4 L368.9 2276.4 L371.0 2275.4 L373.0 2274.3 L375.0 2273.3 L377.0 2272.2 L379.0 2271.1 L381.0 2270.0 L383.0 2268.8 L385.0 2267.7 L387.0 2266.5 L389.0 2265.4 L391.0 2264.2 L393.0 2263.0 L395.1 2261.8 L397.1 2260.7 L399.1 2259.5 L401.1 2258.3 L403.1 2257.1 L405.1 2255.9 L407.1 2254.7 L409.1 2253.6 L411.1 2252.4 L413.1 2251.2 L415.1 2250.1 L417.1 2248.9 L419.2 2247.8 L421.2 2246.7 L423.2 2245.6 L425.2 2244.5 L427.2 2243.5 L429.2 2242.4 L431.2 2241.4 L433.2 2240.4 L435.2 2239.4 L437.2 2238.4 L439.2 2237.5 L441.2 2236.5 L443.3 2235.6 L445.3 2234.6 L447.3 2233.7 L449.3 2232.8 L451.3 2232.0 L453.3 2231.1 L455.3 2230.3 L457.3 2229.4 L459.3 2228.6 L461.3 2227.8 L463.3 2227.0 L465.3 2226.2 L467.4 2225.5 L469.4 2224.7 L471.4 2224.0 L473.4 2223.3 L475.4 2222.6 L477.4 2221.9 L479.4 2221.2 L481.4 2220.5 L483.4 2219.9 L485.4 2219.3 L487.4 2218.6 L489.4 2218.0 L491.5 2217.4 L493.5 2216.9 L495.5 2216.3 L497.5 2215.7 L499.5 2215.2 L501.5 2214.7 L503.5 2214.2 L505.5 2213.7 L507.5 2213.2 L509.5 2212.7 L511.5 2212.2 L513.5 2211.8 L515.6 2211.3 L517.6 2210.9 L519.6 2210.5 L521.6 2210.1 L523.6 2209.7 L525.6 2209.3 L527.6 2209.0 L529.6 2208.6 L531.6 2208.3 L533.6 2208.0 L535.6 2207.6 L537.6 2207.3 L539.7 2207.1 L541.7 2206.8 L543.7 2206.5 L545.7 2206.3 L547.7 2206.0 L549.7 2205.8 L551.7 2205.6 L553.7 2205.3 L555.7 2205.1 L557.7 2205.0 L559.7 2204.8 L561.7 2204.6 L563.8 2204.5 L565.8 2204.3 L567.8 2204.2 L569.8 2204.1 L571.8 2204.0 L573.8 2203.9 L575.8 2203.8 L577.8 2203.7 L579.8 2203.6 L581.8 2203.6 L583.8 2203.5 L585.8 2203.5 L587.9 2203.4 L589.9 2203.4 L591.9 2203.4 L593.9 2203.4 L595.9 2203.4 L597.9 2203.5 L599.9 2203.5 L601.9 2203.5 L603.9 2203.6 L605.9 2203.7 L607.9 2203.7 L609.9 2203.8 L612.0 2203.9 L614.0 2204.0 L616.0 2204.1 L618.0 2204.2 L620.0 2204.3 L622.0 2204.5 L624.0 2204.6 L626.0 2204.8 L628.0 2204.9 L630.0 2205.1 L632.0 2205.3 L634.0 2205.5 L636.1 2205.7 L638.1 2205.9 L640.1 2206.1 L642.1 2206.3 L644.1 2206.5 L646.1 2206.8" fill="none" stroke="#000" stroke-width="2.1" stroke-linejoin="round"/>
<path d="M737.6 2313.7 V2411.2 H1248.2 V2097.4 H737.6 M737.6 2097.4 V2250.0" fill="none" stroke="#000" stroke-width="2.40" stroke-linecap="square"/>
<line x1="738.2" y1="2250.0" x2="738.2" y2="2313.7" stroke="#222" stroke-width="1.4"/>
<line x1="731.8" y1="2114.0" x2="737.6" y2="2114.0" stroke="#000" stroke-width="1.60"/>
<line x1="731.8" y1="2171.3" x2="737.6" y2="2171.3" stroke="#000" stroke-width="1.60"/>
<line x1="731.8" y1="2228.6" x2="737.6" y2="2228.6" stroke="#000" stroke-width="1.60"/>
<line x1="731.8" y1="2285.9" x2="737.6" y2="2285.9" stroke="#000" stroke-width="1.60"/>
<line x1="731.8" y1="2343.2" x2="737.6" y2="2343.2" stroke="#000" stroke-width="1.60"/>
<line x1="731.8" y1="2400.5" x2="737.6" y2="2400.5" stroke="#000" stroke-width="1.60"/>
<line x1="757.2" y1="2401.2" x2="757.2" y2="2411.2" stroke="#000" stroke-width="1.50"/>
<line x1="809.7" y1="2401.2" x2="809.7" y2="2417.2" stroke="#000" stroke-width="1.50"/>
<line x1="862.2" y1="2401.2" x2="862.2" y2="2411.2" stroke="#000" stroke-width="1.50"/>
<line x1="914.7" y1="2401.2" x2="914.7" y2="2417.2" stroke="#000" stroke-width="1.50"/>
<line x1="967.2" y1="2401.2" x2="967.2" y2="2411.2" stroke="#000" stroke-width="1.50"/>
<line x1="1019.8" y1="2401.2" x2="1019.8" y2="2417.2" stroke="#000" stroke-width="1.50"/>
<line x1="1072.3" y1="2401.2" x2="1072.3" y2="2411.2" stroke="#000" stroke-width="1.50"/>
<line x1="1124.8" y1="2401.2" x2="1124.8" y2="2417.2" stroke="#000" stroke-width="1.50"/>
<line x1="1177.3" y1="2401.2" x2="1177.3" y2="2411.2" stroke="#000" stroke-width="1.50"/>
<line x1="1229.8" y1="2401.2" x2="1229.8" y2="2417.2" stroke="#000" stroke-width="1.50"/>
<text transform="translate(798.01 2453.60) scale(0.8851 1)" font-size="26.00">Feb</text>
<text transform="translate(910.65 2453.60) scale(0.9305 1)" font-size="26.00">Apr</text>
<text transform="translate(1022.51 2453.60) scale(0.9567 1)" font-size="26.00">Jun</text>
<text transform="translate(1126.85 2453.60) scale(0.9655 1)" font-size="26.00">Aug</text>
<text transform="translate(1222.23 2453.60) scale(0.9532 1)" font-size="26.00">Oct</text>
<text transform="translate(785.73 2137.70) scale(0.9665 1)" font-size="15.90">18:00 - 00:00</text>
<path d="M757.1 2269.2 L759.1 2272.3 L761.1 2275.3 L763.1 2278.1 L765.1 2280.9 L767.2 2283.5 L769.2 2285.9 L771.2 2288.3 L773.2 2290.6 L775.2 2292.7 L777.2 2294.7 L779.2 2296.6 L781.2 2298.5 L783.2 2300.2 L785.2 2301.8 L787.2 2303.3 L789.2 2304.8 L791.2 2306.1 L793.3 2307.4 L795.3 2308.6 L797.3 2309.7 L799.3 2310.8 L801.3 2311.8 L803.3 2312.7 L805.3 2313.6 L807.3 2314.3 L809.3 2315.1 L811.3 2315.7 L813.3 2316.3 L815.3 2316.8 L817.3 2317.2 L819.4 2317.5 L821.4 2317.8 L823.4 2318.0 L825.4 2318.1 L827.4 2318.1 L829.4 2318.0 L831.4 2317.9 L833.4 2317.6 L835.4 2317.3 L837.4 2316.9 L839.4 2316.4 L841.4 2315.8 L843.4 2315.2 L845.5 2314.4 L847.5 2313.6 L849.5 2312.7 L851.5 2311.8 L853.5 2310.8 L855.5 2309.7 L857.5 2308.5 L859.5 2307.4 L861.5 2306.1 L863.5 2304.8 L865.5 2303.5 L867.5 2302.2 L869.5 2300.8 L871.6 2299.4 L873.6 2297.9 L875.6 2296.4 L877.6 2294.9 L879.6 2293.3 L881.6 2291.6 L883.6 2289.8 L885.6 2287.9 L887.6 2285.9 L889.6 2283.8 L891.6 2281.7 L893.6 2279.4 L895.6 2277.0 L897.7 2274.6 L899.7 2272.0 L901.7 2269.5 L903.7 2266.8 L905.7 2264.2 L907.7 2261.4 L909.7 2258.6 L911.7 2255.8 L913.7 2252.9 L915.7 2250.0 L917.7 2247.1 L919.7 2244.1 L921.7 2241.1 L923.8 2238.1 L925.8 2235.0 L927.8 2231.9 L929.8 2228.8 L931.8 2225.7 L933.8 2222.7 L935.8 2219.6 L937.8 2216.5 L939.8 2213.5 L941.8 2210.5 L943.8 2207.6 L945.8 2204.7 L947.8 2201.9 L949.9 2199.1 L951.9 2196.4 L953.9 2193.8 L955.9 2191.4 L957.9 2189.0 L959.9 2186.7 L961.9 2184.5 L963.9 2182.5 L965.9 2180.6 L967.9 2178.9 L969.9 2177.3 L971.9 2175.8 L973.9 2174.4 L976.0 2173.2 L978.0 2172.1 L980.0 2171.0 L982.0 2170.1 L984.0 2169.2 L986.0 2168.4 L988.0 2167.7 L990.0 2167.1 L992.0 2166.5 L994.0 2166.0 L996.0 2165.5 L998.0 2165.1 L1000.0 2164.7 L1002.1 2164.4 L1004.1 2164.1 L1006.1 2163.8 L1008.1 2163.6 L1010.1 2163.4 L1012.1 2163.2 L1014.1 2163.1 L1016.1 2162.9 L1018.1 2162.8 L1020.1 2162.7 L1022.1 2162.6 L1024.1 2162.5 L1026.1 2162.4 L1028.2 2162.3 L1030.2 2162.1 L1032.2 2162.0 L1034.2 2161.9 L1036.2 2161.8 L1038.2 2161.6 L1040.2 2161.5 L1042.2 2161.3 L1044.2 2161.1 L1046.2 2160.9 L1048.2 2160.7 L1050.2 2160.5 L1052.2 2160.3 L1054.3 2160.0 L1056.3 2159.8 L1058.3 2159.5 L1060.3 2159.2 L1062.3 2158.9 L1064.3 2158.6 L1066.3 2158.3 L1068.3 2158.0 L1070.3 2157.7 L1072.3 2157.3 L1074.3 2157.0 L1076.3 2156.6 L1078.3 2156.3 L1080.4 2155.9 L1082.4 2155.5 L1084.4 2155.1 L1086.4 2154.7 L1088.4 2154.3 L1090.4 2153.9 L1092.4 2153.5 L1094.4 2153.0 L1096.4 2152.6 L1098.4 2152.2 L1100.4 2151.7 L1102.4 2151.2 L1104.4 2150.8 L1106.5 2150.3 L1108.5 2149.8 L1110.5 2149.3 L1112.5 2148.9 L1114.5 2148.4 L1116.5 2147.9 L1118.5 2147.5 L1120.5 2147.1 L1122.5 2146.7 L1124.5 2146.4 L1126.5 2146.1 L1128.5 2145.9 L1130.5 2145.7 L1132.6 2145.5 L1134.6 2145.4 L1136.6 2145.4 L1138.6 2145.3 L1140.6 2145.2 L1142.6 2145.2 L1144.6 2145.2 L1146.6 2145.1 L1148.6 2145.0 L1150.6 2144.9 L1152.6 2144.8 L1154.6 2144.7 L1156.6 2144.6 L1158.7 2144.4 L1160.7 2144.2 L1162.7 2144.0 L1164.7 2143.7 L1166.7 2143.5 L1168.7 2143.2 L1170.7 2142.9 L1172.7 2142.5 L1174.7 2142.1 L1176.7 2141.7 L1178.7 2141.2 L1180.7 2140.7 L1182.7 2140.2 L1184.8 2139.6 L1186.8 2139.0 L1188.8 2138.3 L1190.8 2137.6 L1192.8 2136.8 L1194.8 2136.0 L1196.8 2135.1 L1198.8 2134.2 L1200.8 2133.1 L1202.8 2132.0 L1204.8 2130.9 L1206.8 2129.6 L1208.8 2128.3 L1210.9 2126.8 L1212.9 2125.3 L1214.9 2123.7 L1216.9 2122.0 L1218.9 2120.1 L1220.9 2118.2 L1222.9 2116.1 L1224.9 2114.0 L1226.9 2111.7 L1228.9 2109.2" fill="none" stroke="#000" stroke-width="2.0" stroke-dasharray="8.5 10.5" stroke-linecap="round"/>
<path d="M756.4 2312.2 L758.4 2312.5 L760.4 2313.0 L762.4 2313.7 L764.4 2314.5 L766.4 2315.5 L768.4 2316.5 L770.5 2317.7 L772.5 2318.9 L774.5 2320.2 L776.5 2321.6 L778.5 2323.0 L780.5 2324.4 L782.5 2325.8 L784.5 2327.2 L786.5 2328.6 L788.5 2329.9 L790.5 2331.2 L792.5 2332.4 L794.5 2333.6 L796.5 2334.6 L798.6 2335.6 L800.6 2336.6 L802.6 2337.4 L804.6 2338.2 L806.6 2338.9 L808.6 2339.5 L810.6 2340.0 L812.6 2340.5 L814.6 2341.0 L816.6 2341.3 L818.6 2341.6 L820.6 2341.8 L822.6 2342.0 L824.6 2342.1 L826.7 2342.1 L828.7 2342.1 L830.7 2342.0 L832.7 2341.9 L834.7 2341.7 L836.7 2341.5 L838.7 2341.2 L840.7 2340.9 L842.7 2340.5 L844.7 2340.0 L846.7 2339.5 L848.7 2338.9 L850.7 2338.3 L852.7 2337.6 L854.8 2336.9 L856.8 2336.1 L858.8 2335.2 L860.8 2334.3 L862.8 2333.3 L864.8 2332.3 L866.8 2331.2 L868.8 2330.0 L870.8 2328.8 L872.8 2327.6 L874.8 2326.2 L876.8 2324.9 L878.8 2323.4 L880.8 2321.9 L882.9 2320.4 L884.9 2318.7 L886.9 2317.1 L888.9 2315.3 L890.9 2313.5 L892.9 2311.6 L894.9 2309.7 L896.9 2307.7 L898.9 2305.7 L900.9 2303.6 L902.9 2301.4 L904.9 2299.2 L906.9 2297.0 L908.9 2294.7 L911.0 2292.3 L913.0 2289.9 L915.0 2287.5 L917.0 2285.0 L919.0 2282.5 L921.0 2280.0 L923.0 2277.4 L925.0 2274.9 L927.0 2272.3 L929.0 2269.6 L931.0 2267.0 L933.0 2264.3 L935.0 2261.7 L937.0 2259.1 L939.0 2256.5 L941.1 2253.9 L943.1 2251.4 L945.1 2248.9 L947.1 2246.5 L949.1 2244.1 L951.1 2241.9 L953.1 2239.7 L955.1 2237.6 L957.1 2235.7 L959.1 2233.8 L961.1 2232.0 L963.1 2230.3 L965.1 2228.8 L967.1 2227.3 L969.2 2225.9 L971.2 2224.6 L973.2 2223.3 L975.2 2222.2 L977.2 2221.2 L979.2 2220.2 L981.2 2219.4 L983.2 2218.6 L985.2 2217.9 L987.2 2217.3 L989.2 2216.7 L991.2 2216.3 L993.2 2215.9 L995.2 2215.6 L997.3 2215.4 L999.3 2215.3 L1001.3 2215.2 L1003.3 2215.2 L1005.3 2215.2 L1007.3 2215.3 L1009.3 2215.4 L1011.3 2215.6 L1013.3 2215.8 L1015.3 2216.0 L1017.3 2216.3 L1019.3 2216.6 L1021.3 2216.9 L1023.3 2217.2 L1025.4 2217.5 L1027.4 2217.8 L1029.4 2218.1 L1031.4 2218.4 L1033.4 2218.7 L1035.4 2219.0 L1037.4 2219.3 L1039.4 2219.6 L1041.4 2219.9 L1043.4 2220.2 L1045.4 2220.5 L1047.4 2220.8 L1049.4 2221.1 L1051.4 2221.4 L1053.5 2221.8 L1055.5 2222.1 L1057.5 2222.4 L1059.5 2222.7 L1061.5 2223.1 L1063.5 2223.4 L1065.5 2223.7 L1067.5 2224.1 L1069.5 2224.4 L1071.5 2224.8 L1073.5 2225.1 L1075.5 2225.4 L1077.5 2225.8 L1079.5 2226.1 L1081.6 2226.4 L1083.6 2226.7 L1085.6 2227.0 L1087.6 2227.2 L1089.6 2227.5 L1091.6 2227.8 L1093.6 2228.1 L1095.6 2228.5 L1097.6 2228.9 L1099.6 2229.3 L1101.6 2229.8 L1103.6 2230.4 L1105.6 2231.0 L1107.6 2231.7 L1109.7 2232.4 L1111.7 2233.2 L1113.7 2234.0 L1115.7 2234.8 L1117.7 2235.6 L1119.7 2236.5 L1121.7 2237.4 L1123.7 2238.3 L1125.7 2239.2 L1127.7 2240.1 L1129.7 2241.1 L1131.7 2242.0 L1133.7 2243.0 L1135.7 2244.0 L1137.8 2245.1 L1139.8 2246.2 L1141.8 2247.3 L1143.8 2248.4 L1145.8 2249.6 L1147.8 2250.8 L1149.8 2252.1 L1151.8 2253.4 L1153.8 2254.8 L1155.8 2256.2 L1157.8 2257.7 L1159.8 2259.2 L1161.8 2260.8 L1163.8 2262.4 L1165.9 2264.1 L1167.9 2265.9 L1169.9 2267.7 L1171.9 2269.6 L1173.9 2271.6 L1175.9 2273.7 L1177.9 2275.8 L1179.9 2278.0 L1181.9 2280.3 L1183.9 2282.7 L1185.9 2285.1 L1187.9 2287.7 L1189.9 2290.3 L1191.9 2292.9 L1194.0 2295.7 L1196.0 2298.5 L1198.0 2301.4 L1200.0 2304.3 L1202.0 2307.3 L1204.0 2310.3 L1206.0 2313.4 L1208.0 2316.6 L1210.0 2319.8 L1212.0 2323.0 L1214.0 2326.3 L1216.0 2329.6 L1218.0 2333.0 L1220.0 2336.4 L1222.1 2339.8 L1224.1 2343.3 L1226.1 2346.8" fill="none" stroke="#000" stroke-width="2.0" stroke-dasharray="8.5 10.5" stroke-linecap="round"/>
<path d="M756.4 2290.3 L758.4 2291.8 L760.4 2293.3 L762.4 2294.9 L764.4 2296.5 L766.4 2298.1 L768.5 2299.7 L770.5 2301.3 L772.5 2302.9 L774.5 2304.5 L776.5 2306.1 L778.5 2307.7 L780.5 2309.2 L782.5 2310.8 L784.5 2312.3 L786.5 2313.8 L788.5 2315.2 L790.5 2316.7 L792.5 2318.0 L794.6 2319.3 L796.6 2320.6 L798.6 2321.8 L800.6 2322.9 L802.6 2324.0 L804.6 2325.0 L806.6 2325.9 L808.6 2326.7 L810.6 2327.4 L812.6 2328.1 L814.6 2328.7 L816.6 2329.2 L818.7 2329.6 L820.7 2329.9 L822.7 2330.2 L824.7 2330.3 L826.7 2330.4 L828.7 2330.4 L830.7 2330.4 L832.7 2330.2 L834.7 2330.0 L836.7 2329.8 L838.7 2329.4 L840.7 2329.0 L842.8 2328.5 L844.8 2327.9 L846.8 2327.3 L848.8 2326.6 L850.8 2325.8 L852.8 2324.9 L854.8 2324.0 L856.8 2323.1 L858.8 2322.0 L860.8 2320.9 L862.8 2319.8 L864.8 2318.6 L866.9 2317.3 L868.9 2315.9 L870.9 2314.5 L872.9 2313.1 L874.9 2311.6 L876.9 2310.0 L878.9 2308.4 L880.9 2306.7 L882.9 2305.0 L884.9 2303.3 L886.9 2301.5 L888.9 2299.6 L891.0 2297.7 L893.0 2295.7 L895.0 2293.8 L897.0 2291.7 L899.0 2289.6 L901.0 2287.5 L903.0 2285.4 L905.0 2283.2 L907.0 2281.0 L909.0 2278.7 L911.0 2276.4 L913.0 2274.1 L915.1 2271.7 L917.1 2269.3 L919.1 2266.8 L921.1 2264.3 L923.1 2261.8 L925.1 2259.2 L927.1 2256.6 L929.1 2253.9 L931.1 2251.1 L933.1 2248.3 L935.1 2245.5 L937.1 2242.6 L939.2 2239.7 L941.2 2236.7 L943.2 2233.7 L945.2 2230.7 L947.2 2227.7 L949.2 2224.8 L951.2 2222.0 L953.2 2219.2 L955.2 2216.6 L957.2 2214.0 L959.2 2211.6 L961.2 2209.4 L963.2 2207.3 L965.3 2205.4 L967.3 2203.6 L969.3 2201.9 L971.3 2200.4 L973.3 2199.0 L975.3 2197.7 L977.3 2196.6 L979.3 2195.6 L981.3 2194.7 L983.3 2193.9 L985.3 2193.2 L987.3 2192.6 L989.4 2192.1 L991.4 2191.6 L993.4 2191.3 L995.4 2191.0 L997.4 2190.7 L999.4 2190.5 L1001.4 2190.4 L1003.4 2190.3 L1005.4 2190.2 L1007.4 2190.1 L1009.4 2190.1 L1011.4 2190.0 L1013.5 2190.0 L1015.5 2190.0 L1017.5 2190.0 L1019.5 2190.0 L1021.5 2190.0 L1023.5 2190.1 L1025.5 2190.1 L1027.5 2190.2 L1029.5 2190.2 L1031.5 2190.3 L1033.5 2190.4 L1035.5 2190.4 L1037.6 2190.5 L1039.6 2190.6 L1041.6 2190.7 L1043.6 2190.7 L1045.6 2190.8 L1047.6 2190.9 L1049.6 2191.0 L1051.6 2191.1 L1053.6 2191.1 L1055.6 2191.2 L1057.6 2191.3 L1059.6 2191.3 L1061.7 2191.4 L1063.7 2191.4 L1065.7 2191.5 L1067.7 2191.5 L1069.7 2191.6 L1071.7 2191.6 L1073.7 2191.6 L1075.7 2191.6 L1077.7 2191.6 L1079.7 2191.6 L1081.7 2191.5 L1083.7 2191.5 L1085.8 2191.4 L1087.8 2191.4 L1089.8 2191.3 L1091.8 2191.3 L1093.8 2191.2 L1095.8 2191.1 L1097.8 2191.1 L1099.8 2191.1 L1101.8 2191.0 L1103.8 2191.0 L1105.8 2191.0 L1107.8 2191.1 L1109.9 2191.1 L1111.9 2191.2 L1113.9 2191.3 L1115.9 2191.4 L1117.9 2191.6 L1119.9 2191.8 L1121.9 2192.0 L1123.9 2192.3 L1125.9 2192.6 L1127.9 2193.0 L1129.9 2193.4 L1131.9 2193.8 L1133.9 2194.3 L1136.0 2194.8 L1138.0 2195.3 L1140.0 2195.9 L1142.0 2196.5 L1144.0 2197.1 L1146.0 2197.7 L1148.0 2198.4 L1150.0 2199.1 L1152.0 2199.9 L1154.0 2200.6 L1156.0 2201.4 L1158.0 2202.2 L1160.1 2203.0 L1162.1 2203.9 L1164.1 2204.8 L1166.1 2205.6 L1168.1 2206.5 L1170.1 2207.4 L1172.1 2208.4 L1174.1 2209.3 L1176.1 2210.2 L1178.1 2211.1 L1180.1 2212.1 L1182.1 2213.0 L1184.2 2214.0 L1186.2 2214.9 L1188.2 2215.8 L1190.2 2216.8 L1192.2 2217.7 L1194.2 2218.6 L1196.2 2219.5 L1198.2 2220.3 L1200.2 2221.2 L1202.2 2222.0 L1204.2 2222.9 L1206.2 2223.7 L1208.3 2224.4 L1210.3 2225.2 L1212.3 2225.9 L1214.3 2226.6 L1216.3 2227.3 L1218.3 2227.9 L1220.3 2228.5 L1222.3 2229.1 L1224.3 2229.6 L1226.3 2230.1 L1228.3 2230.5 L1230.3 2230.9" fill="none" stroke="#000" stroke-width="2.1" stroke-linejoin="round"/>
<text transform="translate(4.09 29.20) scale(0.9370 1)" font-size="35.50">a)</text>
<text transform="translate(1.71 894.20) scale(0.9603 1)" font-size="37.00">b)</text>
<text transform="translate(1.73 1686.60) scale(0.8960 1)" font-size="36.00">c)</text>
<text transform="translate(87.80 550.59) rotate(-90) scale(0.9927 1)" font-size="24.80">smoothed (Average Depth (m))</text>
<text transform="translate(97.00 1308.56) rotate(-90) scale(0.9603 1)" font-size="24.80">smoothed (Dive Time (s))</text>
<text transform="translate(109.80 2244.01) rotate(-90) scale(0.9847 1)" font-size="24.80">Smoothed (number of dives)</text>
<text transform="translate(638.99 823.20) scale(1.0359 1)" font-size="26.00">Month</text>
<text transform="translate(649.70 1652.40) scale(1.0330 1)" font-size="26.00">Month</text>
<text transform="translate(678.31 2482.50) scale(1.0272 1)" font-size="26.00">Month</text>
</svg>
</body></html>
